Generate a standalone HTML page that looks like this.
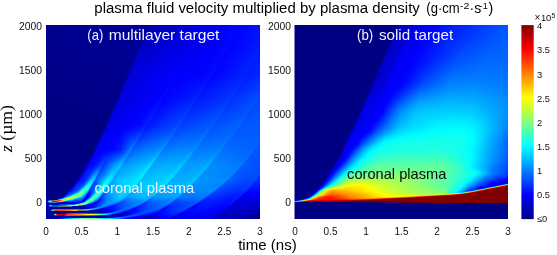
<!DOCTYPE html>
<html><head><meta charset="utf-8">
<style>
html,body{margin:0;padding:0;background:#fff;}
body{width:557px;height:255px;position:relative;overflow:hidden;font-family:"Liberation Sans",sans-serif;}
.p{position:absolute;top:25px;height:194px;overflow:hidden;background:#000083;}
.p i{display:block;height:1px;width:100%;}
#pa{left:46px;width:214px;}
#pb{left:294px;width:214px;}
svg{position:absolute;left:0;top:0;will-change:transform;}
</style></head><body>
<div class="p" id="pa">
<i style="background:linear-gradient(90deg,#000090 0.5px,#00009e 102.5px,#0000ac 105.5px,#0000f1 158.5px,#0000ed 161.5px,#00f 181.5px,#0009ff 194.5px,#0004ff 196.5px,#0012ff 213.5px)"></i>
<i style="background:linear-gradient(90deg,#000090 0.5px,#00009c 101.5px,#0000ac 104.5px,#0000f0 158.5px,#00e 161.5px,#00f 181.5px,#0009ff 193.5px,#0005ff 196.5px,#0012ff 213.5px)"></i>
<i style="background:linear-gradient(90deg,#000090 0.5px,#00009d 101.5px,#0000ae 104.5px,#0000f0 157.5px,#0000ed 160.5px,#00f 180.5px,#0008ff 193.5px,#0004ff 195.5px,#0012ff 213.5px)"></i>
<i style="background:linear-gradient(90deg,#000090 0.5px,#00009c 100.5px,#00009f 101.5px,#0000ae 103.5px,#0000f0 157.5px,#0000ec 159.5px,#00f 180.5px,#0009ff 192.5px,#0005ff 195.5px,#0013ff 213.5px)"></i>
<i style="background:linear-gradient(90deg,#000090 0.5px,#00009c 100.5px,#0000b0 103.5px,#0000f1 156.5px,#0000ed 159.5px,#00f 180.5px,#0008ff 192.5px,#0004ff 194.5px,#0013ff 213.5px)"></i>
<i style="background:linear-gradient(90deg,#00008f 0.5px,#00009e 100.5px,#0000b0 102.5px,#0000ef 154.5px,#0000f0 156.5px,#0000ec 158.5px,#00f 179.5px,#0009ff 191.5px,#0005ff 194.5px,#0013ff 213.5px)"></i>
<i style="background:linear-gradient(90deg,#00008f 0.5px,#00009b 99.5px,#0000a1 100.5px,#0000ac 101.5px,#0000b3 102.5px,#00e 153.5px,#0000f1 155.5px,#0000ed 158.5px,#00f 179.5px,#0009ff 190.5px,#0004ff 193.5px,#0013ff 213.5px)"></i>
<i style="background:linear-gradient(90deg,#00008f 0.5px,#00009d 99.5px,#0000b1 101.5px,#0000ef 153.5px,#0000ef 155.5px,#0000ec 157.5px,#00f 178.5px,#0009ff 190.5px,#0004ff 192.5px,#0014ff 213.5px)"></i>
<i style="background:linear-gradient(90deg,#00008f 0.5px,#00009b 98.5px,#0000a0 99.5px,#0000b5 101.5px,#00e 152.5px,#0000f1 154.5px,#0000ec 156.5px,#00f 178.5px,#0008ff 188.5px,#0007ff 190.5px,#0004ff 192.5px,#0014ff 213.5px)"></i>
<i style="background:linear-gradient(90deg,#00008f 0.5px,#00009c 98.5px,#0000b2 100.5px,#0000b8 102.5px,#0000ed 151.5px,#0000f2 153.5px,#0000ed 156.5px,#00f 178.5px,#0008ff 189.5px,#0003ff 191.5px,#0014ff 213.5px)"></i>
<i style="background:linear-gradient(90deg,#00008f 0.5px,#00009a 97.5px,#00009e 98.5px,#0000b7 100.5px,#00e 151.5px,#0000f1 153.5px,#0000ec 155.5px,#00f 177.5px,#0008ff 187.5px,#0005ff 189.5px,#0005ff 192.5px,#0015ff 213.5px)"></i>
<i style="background:linear-gradient(90deg,#00008f 0.5px,#00009b 97.5px,#0000a3 98.5px,#0000b3 99.5px,#0000ba 100.5px,#0000ed 150.5px,#0000f1 152.5px,#0000ed 155.5px,#00f 177.5px,#0007ff 188.5px,#0003ff 190.5px,#0015ff 213.5px)"></i>
<i style="background:linear-gradient(90deg,#00008e 0.5px,#009 96.5px,#00009d 97.5px,#0000b8 99.5px,#0000c0 106.5px,#0000ef 150.5px,#0000f0 152.5px,#0000ec 154.5px,#00f 176.5px,#0006ff 185.5px,#0008ff 187.5px,#0003ff 189.5px,#0015ff 213.5px)"></i>
<i style="background:linear-gradient(90deg,#00008e 0.5px,#00009a 96.5px,#0000a1 97.5px,#0000b2 98.5px,#0000bc 99.5px,#00e 149.5px,#0000f2 151.5px,#0000ec 153.5px,#00f 175.5px,#0005ff 184.5px,#0009ff 186.5px,#0003ff 189.5px,#0016ff 213.5px)"></i>
<i style="background:linear-gradient(90deg,#00008e 0.5px,#009 95.5px,#00009b 96.5px,#0000b9 98.5px,#0000bf 100.5px,#0000ef 149.5px,#0000f0 151.5px,#0000ed 153.5px,#00f 175.5px,#0006ff 184.5px,#0009ff 186.5px,#0003ff 188.5px,#0016ff 213.5px)"></i>
<i style="background:linear-gradient(90deg,#00008e 0.5px,#009 95.5px,#00009f 96.5px,#0000b1 97.5px,#0000bd 98.5px,#00e 148.5px,#0000f1 150.5px,#0000ec 152.5px,#00f 174.5px,#0005ff 183.5px,#0009ff 185.5px,#0003ff 188.5px,#0016ff 213.5px)"></i>
<i style="background:linear-gradient(90deg,#00008e 0.5px,#00009a 95.5px,#0000a6 96.5px,#0000b9 97.5px,#0000c0 98.5px,#00e 147.5px,#0000f2 149.5px,#0000ec 151.5px,#00f 174.5px,#0007ff 183.5px,#0007ff 185.5px,#0003ff 187.5px,#0017ff 213.5px)"></i>
<i style="background:linear-gradient(90deg,#00008e 0.5px,#000098 94.5px,#00009d 95.5px,#0000be 97.5px,#0000cd 111.5px,#0000ef 147.5px,#0000f2 149.5px,#0000ec 151.5px,#00f 173.5px,#0006ff 182.5px,#0009ff 184.5px,#0002ff 186.5px,#0017ff 213.5px)"></i>
<i style="background:linear-gradient(90deg,#00008e 0.5px,#009 94.5px,#0000a4 95.5px,#0000b8 96.5px,#0000c2 97.5px,#0000ef 146.5px,#0000f3 148.5px,#0000ec 150.5px,#00f 173.5px,#0005ff 181.5px,#0009ff 183.5px,#0002ff 186.5px,#0018ff 213.5px)"></i>
<i style="background:linear-gradient(90deg,#00008d 0.5px,#000097 93.5px,#00009c 94.5px,#0000bf 96.5px,#0000c5 98.5px,#0000f0 146.5px,#0000f2 148.5px,#0000ed 150.5px,#00f 172.5px,#0006ff 181.5px,#0008ff 183.5px,#0002ff 185.5px,#0018ff 213.5px)"></i>
<i style="background:linear-gradient(90deg,#00008d 0.5px,#000098 93.5px,#0000a1 94.5px,#0000b6 95.5px,#0000c3 96.5px,#0000ef 145.5px,#0000f3 147.5px,#0000ec 149.5px,#00f 171.5px,#0005ff 180.5px,#0009ff 182.5px,#0002ff 184.5px,#0019ff 213.5px)"></i>
<i style="background:linear-gradient(90deg,#00008d 0.5px,#000097 92.5px,#00009a 93.5px,#0000be 95.5px,#0000c5 96.5px,#0000f1 145.5px,#0000f2 147.5px,#0000ed 149.5px,#00f 171.5px,#0004ff 179.5px,#0007ff 182.5px,#0002ff 184.5px,#001aff 213.5px)"></i>
<i style="background:linear-gradient(90deg,#00008d 0.5px,#000097 92.5px,#00009f 93.5px,#0000b4 94.5px,#0000c4 95.5px,#0000f1 144.5px,#0000f4 146.5px,#0000ed 148.5px,#00f 170.5px,#0005ff 179.5px,#0009ff 181.5px,#0001ff 183.5px,#001bff 213.5px)"></i>
<i style="background:linear-gradient(90deg,#00008d 0.5px,#000098 92.5px,#0000a7 93.5px,#0000be 94.5px,#0000c7 95.5px,#0000f2 144.5px,#0000f4 145.5px,#0000ed 147.5px,#00f 171.5px,#0006ff 179.5px,#0007ff 181.5px,#0002ff 183.5px,#001cff 213.5px)"></i>
<i style="background:linear-gradient(90deg,#00008d 0.5px,#000096 91.5px,#00009c 92.5px,#0000c4 94.5px,#0000cb 97.5px,#0000f2 143.5px,#0000f4 145.5px,#0000ed 147.5px,#00f 169.5px,#0003ff 177.5px,#0008ff 180.5px,#0001ff 182.5px,#001cff 212.5px,#001eff 213.5px)"></i>
<i style="background:linear-gradient(90deg,#00008d 0.5px,#000097 91.5px,#0000a4 92.5px,#0000bc 93.5px,#0000c8 94.5px,#0000f1 142.5px,#0000f6 144.5px,#00e 146.5px,#00f 170.5px,#0005ff 177.5px,#0009ff 179.5px,#0001ff 181.5px,#001bff 211.5px,#001fff 213.5px)"></i>
<i style="background:linear-gradient(90deg,#00008c 0.5px,#000095 90.5px,#00009a 91.5px,#0000c4 93.5px,#0000cb 95.5px,#0000f3 142.5px,#0000f4 144.5px,#00e 146.5px,#00f 168.5px,#0004ff 176.5px,#0009ff 179.5px,#0001ff 181.5px,#001cff 211.5px,#001cff 213.5px)"></i>
<i style="background:linear-gradient(90deg,#00008c 0.5px,#000096 90.5px,#0000a1 91.5px,#0000ba 92.5px,#0000c9 93.5px,#0000ec 135.5px,#0000f6 143.5px,#00e 145.5px,#00f 168.5px,#0005ff 176.5px,#0009ff 178.5px,#0002ff 180.5px,#001cff 210.5px,#001dff 212.5px,#0018ff 213.5px)"></i>
<i style="background:linear-gradient(90deg,#00008c 0.5px,#000095 89.5px,#000098 90.5px,#0000ab 91.5px,#0000c4 92.5px,#0000cb 93.5px,#0000f4 141.5px,#0000f5 143.5px,#0000ef 145.5px,#00f 167.5px,#0005ff 175.5px,#0009ff 177.5px,#0002ff 180.5px,#001dff 210.5px,#001eff 211.5px,#0017ff 213.5px)"></i>
<i style="background:linear-gradient(90deg,#00008c 0.5px,#000095 89.5px,#00009e 90.5px,#0000b7 91.5px,#0000ca 92.5px,#0000e5 123.5px,#0000f3 140.5px,#0000f7 142.5px,#0000ef 144.5px,#00f 167.5px,#0006ff 175.5px,#0009ff 177.5px,#0002ff 179.5px,#001cff 209.5px,#001dff 211.5px,#0017ff 213.5px)"></i>
<i style="background:linear-gradient(90deg,#00008c 0.5px,#000094 88.5px,#000097 89.5px,#0000a8 90.5px,#0000c2 91.5px,#0000cd 92.5px,#0000f5 140.5px,#0000f7 141.5px,#0000ef 143.5px,#00f 166.5px,#0005ff 174.5px,#000aff 176.5px,#0002ff 178.5px,#001cff 208.5px,#001fff 210.5px,#0018ff 212.5px,#0018ff 213.5px)"></i>
<i style="background:linear-gradient(90deg,#00008c 0.5px,#000094 88.5px,#00009b 89.5px,#0000ca 91.5px,#0000cf 93.5px,#0000f5 139.5px,#0000f7 141.5px,#0000ef 143.5px,#00f 165.5px,#0007ff 174.5px,#0009ff 176.5px,#0002ff 178.5px,#001dff 208.5px,#001fff 209.5px,#0018ff 211.5px,#001aff 213.5px)"></i>
<i style="background:linear-gradient(90deg,#00008c 0.5px,#000095 88.5px,#0000a4 89.5px,#0000c0 90.5px,#0000ce 91.5px,#0000f4 138.5px,#0000f9 140.5px,#0000f0 142.5px,#00f 165.5px,#0006ff 173.5px,#000aff 175.5px,#0002ff 177.5px,#001cff 207.5px,#001fff 209.5px,#0018ff 211.5px,#001bff 213.5px)"></i>
<i style="background:linear-gradient(90deg,#00008b 0.5px,#000093 87.5px,#009 88.5px,#0000c9 90.5px,#0000d0 91.5px,#0000f6 138.5px,#0000f7 140.5px,#0000f0 142.5px,#00f 164.5px,#0008ff 173.5px,#0009ff 175.5px,#0003ff 176.5px,#001cff 206.5px,#001fff 208.5px,#0018ff 210.5px,#001cff 213.5px)"></i>
<i style="background:linear-gradient(90deg,#00008b 0.5px,#000094 87.5px,#0000a0 88.5px,#0000bd 89.5px,#0000ce 90.5px,#0000ea 123.5px,#0000f5 137.5px,#0000f9 139.5px,#0000f0 141.5px,#00f 163.5px,#0007ff 172.5px,#000aff 174.5px,#0002ff 176.5px,#001dff 206.5px,#001eff 208.5px,#0018ff 210.5px,#001dff 213.5px)"></i>
<i style="background:linear-gradient(90deg,#00008b 0.5px,#000093 86.5px,#000097 87.5px,#0000ac 88.5px,#0000c8 89.5px,#0000d1 90.5px,#0000f7 137.5px,#0000f7 139.5px,#0000f1 141.5px,#00f 162.5px,#0006ff 171.5px,#000bff 173.5px,#0002ff 175.5px,#001dff 205.5px,#0020ff 207.5px,#0018ff 209.5px,#001dff 213.5px)"></i>
<i style="background:linear-gradient(90deg,#00008b 0.5px,#000093 86.5px,#00009d 87.5px,#0000b9 88.5px,#0000ce 89.5px,#0000d4 92.5px,#0000f7 136.5px,#0000f9 138.5px,#0000f1 140.5px,#00f 161.5px,#0006ff 170.5px,#000aff 173.5px,#0002ff 175.5px,#001eff 205.5px,#0020ff 206.5px,#0019ff 208.5px,#001eff 213.5px)"></i>
<i style="background:linear-gradient(90deg,#00008b 0.5px,#000092 85.5px,#000095 86.5px,#0000a8 87.5px,#0000c6 88.5px,#0000d2 89.5px,#0000ef 126.5px,#0000f9 136.5px,#0000fb 137.5px,#0000f1 139.5px,#00f 161.5px,#0007ff 170.5px,#000bff 172.5px,#0003ff 174.5px,#001dff 204.5px,#0020ff 206.5px,#0019ff 208.5px,#001fff 213.5px)"></i>
<i style="background:linear-gradient(90deg,#00008b 0.5px,#000092 85.5px,#00009a 86.5px,#0000ce 88.5px,#0000d4 89.5px,#0000f8 135.5px,#0000fa 137.5px,#0000f2 139.5px,#00f 160.5px,#0006ff 169.5px,#000bff 171.5px,#0003ff 174.5px,#001dff 203.5px,#0021ff 205.5px,#0019ff 207.5px,#0020ff 213.5px)"></i>
<i style="background:linear-gradient(90deg,#00008b 0.5px,#000093 85.5px,#0000a3 86.5px,#0000c3 87.5px,#0000d2 88.5px,#0000ea 116.5px,#0000f8 134.5px,#0000fb 136.5px,#0000f2 138.5px,#00f 160.5px,#0008ff 169.5px,#000bff 171.5px,#0003ff 173.5px,#001eff 203.5px,#001fff 205.5px,#0019ff 207.5px,#0021ff 213.5px)"></i>
<i style="background:linear-gradient(90deg,#00008a 0.5px,#000091 84.5px,#000097 85.5px,#00c 87.5px,#0000d4 88.5px,#00e 120.5px,#0000fa 134.5px,#0000fa 136.5px,#0000f4 137.5px,#00f 160.5px,#000aff 169.5px,#000cff 170.5px,#0003ff 172.5px,#001dff 202.5px,#0021ff 204.5px,#0019ff 206.5px,#0021ff 213.5px)"></i>
<i style="background:linear-gradient(90deg,#00008a 0.5px,#000092 84.5px,#00009f 85.5px,#0000bf 86.5px,#0000d2 87.5px,#0000e9 111.5px,#0000f9 133.5px,#0000fd 135.5px,#0000f3 137.5px,#00f 157.5px,#0006ff 167.5px,#000bff 170.5px,#0003ff 172.5px,#001fff 202.5px,#001fff 204.5px,#001aff 206.5px,#02f 213.5px)"></i>
<i style="background:linear-gradient(90deg,#00008a 0.5px,#000091 83.5px,#000095 84.5px,#0000ac 85.5px,#0000ca 86.5px,#0000d5 87.5px,#0000ed 115.5px,#0000f9 132.5px,#0000fe 134.5px,#0000f4 137.5px,#00f 156.5px,#0006ff 166.5px,#000cff 169.5px,#0003ff 171.5px,#001eff 201.5px,#0021ff 203.5px,#0019ff 205.5px,#0023ff 213.5px)"></i>
<i style="background:linear-gradient(90deg,#00008a 0.5px,#000091 83.5px,#00009c 84.5px,#0000ba 85.5px,#0000d2 86.5px,#0000d7 88.5px,#00e 115.5px,#0000fb 132.5px,#0000fd 134.5px,#0000f4 136.5px,#00f 155.5px,#0007ff 166.5px,#000dff 168.5px,#0003ff 171.5px,#001dff 200.5px,#02f 202.5px,#001aff 204.5px,#0024ff 213.5px)"></i>
<i style="background:linear-gradient(90deg,#00008a 0.5px,#000090 82.5px,#000093 83.5px,#0000a7 84.5px,#0000c7 85.5px,#0000d5 86.5px,#0000ec 111.5px,#0000fa 131.5px,#00f 133.5px,#0000f5 135.5px,#00f 155.5px,#0006ff 165.5px,#000cff 168.5px,#0003ff 170.5px,#001fff 200.5px,#0020ff 202.5px,#001aff 204.5px,#0024ff 213.5px)"></i>
<i style="background:linear-gradient(90deg,#00008a 0.5px,#000090 82.5px,#000098 83.5px,#0000d0 85.5px,#0000d7 86.5px,#0000ed 111.5px,#0000fa 130.5px,#00f 132.5px,#0000f5 135.5px,#00f 153.5px,#0006ff 164.5px,#000dff 167.5px,#0004ff 169.5px,#001eff 199.5px,#02f 201.5px,#0019ff 203.5px,#0025ff 213.5px)"></i>
<i style="background:linear-gradient(90deg,#00008a 0.5px,#000092 82.5px,#0000a2 83.5px,#0000c4 84.5px,#0000d5 85.5px,#0000ed 109.5px,#0000fc 130.5px,#00f 132.5px,#0000f5 134.5px,#00f 152.5px,#0006ff 163.5px,#000cff 166.5px,#0003ff 169.5px,#001dff 198.5px,#02f 200.5px,#001aff 203.5px,#0026ff 213.5px)"></i>
<i style="background:linear-gradient(90deg,#000089 0.5px,#000090 81.5px,#000096 82.5px,#0000ce 84.5px,#0000d7 85.5px,#0000ef 109.5px,#0000fc 129.5px,#0000fe 132.5px,#0000f7 133.5px,#00f 153.5px,#0009ff 164.5px,#000dff 166.5px,#0003ff 168.5px,#001fff 198.5px,#02f 200.5px,#001aff 202.5px,#0026ff 213.5px)"></i>
<i style="background:linear-gradient(90deg,#000089 0.5px,#000090 81.5px,#00009e 82.5px,#0000bf 83.5px,#0000d4 84.5px,#0000df 91.5px,#0000f0 110.5px,#0000fe 129.5px,#00f 131.5px,#0000f7 133.5px,#00f 149.5px,#0005ff 161.5px,#000dff 165.5px,#0004ff 168.5px,#001eff 197.5px,#0023ff 199.5px,#001aff 201.5px,#0027ff 213.5px)"></i>
<i style="background:linear-gradient(90deg,#000089 0.5px,#00008f 80.5px,#000093 81.5px,#0000ab 82.5px,#00c 83.5px,#0000d7 84.5px,#0000f0 108.5px,#0000fd 128.5px,#0000fd 131.5px,#0000f8 132.5px,#00f 149.5px,#0006ff 161.5px,#000dff 165.5px,#0003ff 167.5px,#001dff 196.5px,#02f 198.5px,#001aff 201.5px,#0028ff 213.5px)"></i>
<i style="background:linear-gradient(90deg,#000089 0.5px,#00008f 80.5px,#00009a 81.5px,#00b 82.5px,#0000d3 83.5px,#0000d9 85.5px,#0000f1 109.5px,#00f 130.5px,#0000f8 132.5px,#00f 145.5px,#0005ff 159.5px,#000fff 164.5px,#0004ff 166.5px,#001fff 196.5px,#0023ff 198.5px,#001aff 200.5px,#0029ff 213.5px)"></i>
<i style="background:linear-gradient(90deg,#000089 0.5px,#00008e 79.5px,#000091 80.5px,#0000a6 81.5px,#0000c9 82.5px,#0000d7 83.5px,#0000f1 108.5px,#0001ff 129.5px,#0000f9 132.5px,#00f 144.5px,#0006ff 159.5px,#000fff 163.5px,#0005ff 166.5px,#001fff 195.5px,#0024ff 197.5px,#001cff 200.5px,#002aff 213.5px)"></i>
<i style="background:linear-gradient(90deg,#000089 0.5px,#00008f 79.5px,#000097 80.5px,#0000d2 82.5px,#0000d9 83.5px,#0000f3 109.5px,#0001ff 129.5px,#0000f9 131.5px,#00f 141.5px,#0008ff 159.5px,#000fff 163.5px,#0006ff 165.5px,#02f 195.5px,#0024ff 197.5px,#001cff 199.5px,#002cff 213.5px)"></i>
<i style="background:linear-gradient(90deg,#000089 0.5px,#000090 79.5px,#0000a1 80.5px,#0000c5 81.5px,#0000d7 82.5px,#0000f3 109.5px,#0002ff 128.5px,#0000fb 131.5px,#00f 141.5px,#000aff 159.5px,#01f 162.5px,#0007ff 164.5px,#02f 194.5px,#0026ff 196.5px,#001dff 198.5px,#002dff 213.5px)"></i>
<i style="background:linear-gradient(90deg,#000089 0.5px,#00008e 78.5px,#000094 79.5px,#0000d0 81.5px,#0000d9 82.5px,#0000f5 111.5px,#0001ff 126.5px,#0000fc 131.5px,#0007ff 155.5px,#01f 162.5px,#0007ff 164.5px,#001cff 187.5px,#0024ff 194.5px,#0025ff 196.5px,#001fff 197.5px,#002fff 213.5px)"></i>
<i style="background:linear-gradient(90deg,#008 0.5px,#00008f 78.5px,#00009d 79.5px,#0000c1 80.5px,#0000d7 81.5px,#0000f4 109.5px,#00f 125.5px,#0003ff 127.5px,#0000fc 130.5px,#0009ff 156.5px,#0013ff 161.5px,#0008ff 163.5px,#0024ff 193.5px,#0028ff 195.5px,#001fff 197.5px,#0030ff 213.5px)"></i>
<i style="background:linear-gradient(90deg,#008 0.5px,#00008d 77.5px,#000092 78.5px,#0000ab 79.5px,#0000ce 80.5px,#0000da 81.5px,#0000f7 112.5px,#0002ff 125.5px,#0005ff 126.5px,#0000fe 130.5px,#000cff 157.5px,#0014ff 160.5px,#0012ff 161.5px,#000aff 162.5px,#0025ff 192.5px,#002aff 194.5px,#0020ff 196.5px,#0032ff 213.5px)"></i>
<i style="background:linear-gradient(90deg,#008 0.5px,#00008e 77.5px,#009 78.5px,#0000bc 79.5px,#0000d6 80.5px,#0000db 82.5px,#0000f8 114.5px,#0001ff 124.5px,#0005ff 125.5px,#0000fe 129.5px,#000cff 156.5px,#0015ff 160.5px,#000aff 162.5px,#0027ff 192.5px,#002aff 194.5px,#0021ff 196.5px,#03f 213.5px)"></i>
<i style="background:linear-gradient(90deg,#008 0.5px,#00008d 76.5px,#000090 77.5px,#0000a6 78.5px,#0000ca 79.5px,#0000da 80.5px,#0000f9 114.5px,#0001ff 123.5px,#0006ff 125.5px,#0000fc 127.5px,#000eff 156.5px,#0016ff 159.5px,#000bff 161.5px,#0027ff 191.5px,#002bff 193.5px,#02f 195.5px,#0034ff 213.5px)"></i>
<i style="background:linear-gradient(90deg,#008 0.5px,#00008d 76.5px,#000095 77.5px,#0000d4 79.5px,#0000db 80.5px,#00f 121.5px,#0006ff 124.5px,#0000fd 127.5px,#000eff 155.5px,#0016ff 158.5px,#0014ff 159.5px,#000dff 160.5px,#000eff 163.5px,#0027ff 190.5px,#002cff 192.5px,#0024ff 194.5px,#0036ff 213.5px)"></i>
<i style="background:linear-gradient(90deg,#008 0.5px,#00008e 76.5px,#0000a1 77.5px,#0000c6 78.5px,#0000d9 79.5px,#00f 119.5px,#0002ff 122.5px,#0005ff 124.5px,#00f 125.5px,#0010ff 155.5px,#0018ff 158.5px,#000cff 160.5px,#002aff 190.5px,#002dff 192.5px,#0023ff 194.5px,#0038ff 213.5px)"></i>
<i style="background:linear-gradient(90deg,#008 0.5px,#00008c 75.5px,#000093 76.5px,#0000d2 78.5px,#0000dc 79.5px,#00f 120.5px,#0007ff 123.5px,#0000fe 126.5px,#0010ff 154.5px,#0019ff 157.5px,#000eff 159.5px,#002aff 189.5px,#002fff 191.5px,#0025ff 193.5px,#0039ff 213.5px)"></i>
<i style="background:linear-gradient(90deg,#008 0.5px,#00008d 75.5px,#00009c 76.5px,#0000c1 77.5px,#0000d8 78.5px,#00d 81.5px,#00f 119.5px,#0007ff 122.5px,#0000fe 125.5px,#0013ff 154.5px,#0019ff 157.5px,#000eff 159.5px,#0023ff 182.5px,#002dff 189.5px,#002eff 191.5px,#0026ff 193.5px,#003bff 213.5px)"></i>
<i style="background:linear-gradient(90deg,#000087 0.5px,#00008b 74.5px,#000090 75.5px,#00a 76.5px,#0000cf 77.5px,#0000db 78.5px,#00f 119.5px,#0008ff 122.5px,#0000fe 124.5px,#0013ff 153.5px,#001aff 156.5px,#000fff 158.5px,#002dff 188.5px,#0030ff 190.5px,#0026ff 192.5px,#003cff 213.5px)"></i>
<i style="background:linear-gradient(90deg,#000087 0.5px,#00008c 74.5px,#000098 75.5px,#0000bc 76.5px,#0000d7 77.5px,#00d 79.5px,#0002ff 119.5px,#0008ff 121.5px,#00f 123.5px,#0015ff 153.5px,#001bff 155.5px,#01f 157.5px,#002dff 187.5px,#0032ff 189.5px,#0028ff 191.5px,#003eff 213.5px)"></i>
<i style="background:linear-gradient(90deg,#000087 0.5px,#00008b 73.5px,#00008e 74.5px,#0000a5 75.5px,#0000cb 76.5px,#0000db 77.5px,#0001ff 118.5px,#0007ff 121.5px,#0001ff 122.5px,#0005ff 129.5px,#0015ff 152.5px,#001bff 155.5px,#0010ff 157.5px,#0025ff 178.5px,#002fff 187.5px,#0032ff 189.5px,#0028ff 191.5px,#0040ff 213.5px)"></i>
<i style="background:linear-gradient(90deg,#000087 0.5px,#00008b 73.5px,#000094 74.5px,#0000d5 76.5px,#00d 77.5px,#00f 117.5px,#0009ff 120.5px,#00f 122.5px,#0010ff 145.5px,#0018ff 152.5px,#001eff 154.5px,#01f 156.5px,#002fff 186.5px,#0034ff 188.5px,#0029ff 190.5px,#0043ff 213.5px)"></i>
<i style="background:linear-gradient(90deg,#000087 0.5px,#00008c 73.5px,#00009f 74.5px,#0000c6 75.5px,#0000da 76.5px,#00f 116.5px,#0009ff 119.5px,#00f 122.5px,#0010ff 141.5px,#0018ff 151.5px,#001eff 153.5px,#001cff 154.5px,#0014ff 155.5px,#0013ff 157.5px,#002fff 185.5px,#0035ff 187.5px,#002bff 189.5px,#0045ff 213.5px)"></i>
<i style="background:linear-gradient(90deg,#000087 0.5px,#00008a 72.5px,#000091 73.5px,#0000d2 75.5px,#0000dc 76.5px,#0001ff 116.5px,#0009ff 119.5px,#0002ff 120.5px,#0002ff 124.5px,#0010ff 139.5px,#0018ff 150.5px,#001eff 153.5px,#0012ff 155.5px,#0030ff 184.5px,#0035ff 187.5px,#002bff 189.5px,#0046ff 212.5px,#0048ff 213.5px)"></i>
<i style="background:linear-gradient(90deg,#000087 0.5px,#00008b 72.5px,#00009b 73.5px,#0000c1 74.5px,#0000d9 75.5px,#0000df 78.5px,#00f 115.5px,#000aff 118.5px,#00f 120.5px,#0012ff 141.5px,#001aff 150.5px,#0020ff 152.5px,#0014ff 154.5px,#0032ff 184.5px,#0037ff 186.5px,#002cff 188.5px,#0046ff 211.5px,#004cff 213.5px)"></i>
<i style="background:linear-gradient(90deg,#000086 0.5px,#00008a 71.5px,#00008e 72.5px,#0000a9 73.5px,#0000cf 74.5px,#0000dc 75.5px,#00f 114.5px,#0009ff 118.5px,#0001ff 119.5px,#0004ff 124.5px,#0013ff 140.5px,#001aff 149.5px,#0020ff 151.5px,#001eff 152.5px,#0016ff 153.5px,#0015ff 155.5px,#0032ff 183.5px,#0038ff 185.5px,#0036ff 186.5px,#002eff 187.5px,#0046ff 210.5px,#004aff 213.5px)"></i>
<i style="background:linear-gradient(90deg,#000086 0.5px,#00008a 71.5px,#000096 72.5px,#00b 73.5px,#0000d7 74.5px,#0000de 76.5px,#0001ff 114.5px,#000aff 117.5px,#00f 119.5px,#0013ff 139.5px,#001dff 149.5px,#02f 151.5px,#0014ff 153.5px,#0032ff 182.5px,#0039ff 185.5px,#002eff 187.5px,#0048ff 210.5px,#004bff 212.5px,#0045ff 213.5px)"></i>
<i style="background:linear-gradient(90deg,#000086 0.5px,#000089 70.5px,#00008c 71.5px,#0000a4 72.5px,#0000cb 73.5px,#0000db 74.5px,#00f 113.5px,#000aff 116.5px,#0001ff 118.5px,#0005ff 123.5px,#0014ff 139.5px,#001dff 148.5px,#0023ff 150.5px,#0017ff 152.5px,#001cff 157.5px,#0035ff 182.5px,#003aff 184.5px,#002fff 186.5px,#0049ff 209.5px,#004dff 211.5px,#04f 213.5px)"></i>
<i style="background:linear-gradient(90deg,#000086 0.5px,#000089 70.5px,#000093 71.5px,#0000d5 73.5px,#0000dc 74.5px,#00f 112.5px,#000bff 116.5px,#00f 118.5px,#0015ff 138.5px,#001dff 147.5px,#0023ff 149.5px,#0023ff 150.5px,#001aff 151.5px,#0017ff 153.5px,#0035ff 181.5px,#003bff 183.5px,#0039ff 184.5px,#0031ff 185.5px,#03f 188.5px,#004bff 209.5px,#004bff 211.5px,#0045ff 213.5px)"></i>
<i style="background:linear-gradient(90deg,#000086 0.5px,#00008b 70.5px,#00009f 71.5px,#0000c6 72.5px,#0000da 73.5px,#0001ff 112.5px,#000bff 115.5px,#00f 117.5px,#0009ff 124.5px,#0018ff 141.5px,#0020ff 147.5px,#0025ff 149.5px,#0018ff 151.5px,#0035ff 180.5px,#003bff 183.5px,#0030ff 185.5px,#004bff 208.5px,#004eff 210.5px,#0045ff 212.5px,#0047ff 213.5px)"></i>
<i style="background:linear-gradient(90deg,#000086 0.5px,#000089 69.5px,#000090 70.5px,#0000d3 72.5px,#00d 73.5px,#0001ff 111.5px,#000aff 114.5px,#000aff 115.5px,#0002ff 116.5px,#0004ff 120.5px,#0017ff 137.5px,#0020ff 146.5px,#0026ff 148.5px,#001aff 150.5px,#0021ff 157.5px,#0037ff 180.5px,#003dff 182.5px,#0032ff 184.5px,#004bff 207.5px,#004fff 209.5px,#0046ff 211.5px,#0048ff 213.5px)"></i>
<i style="background:linear-gradient(90deg,#000086 0.5px,#00008a 69.5px,#00009a 70.5px,#0000c2 71.5px,#0000da 72.5px,#0000e4 80.5px,#00f 109.5px,#000dff 114.5px,#00f 116.5px,#0018ff 136.5px,#0020ff 145.5px,#0027ff 147.5px,#0026ff 148.5px,#001dff 149.5px,#001bff 151.5px,#0037ff 179.5px,#003eff 181.5px,#003bff 182.5px,#0034ff 183.5px,#0035ff 186.5px,#004dff 207.5px,#004dff 209.5px,#0047ff 210.5px,#0049ff 213.5px)"></i>
<i style="background:linear-gradient(90deg,#000086 0.5px,#008 68.5px,#00008d 69.5px,#00a 70.5px,#0000d1 71.5px,#0000de 72.5px,#00f 108.5px,#000dff 113.5px,#000bff 114.5px,#0002ff 115.5px,#0002ff 117.5px,#0019ff 134.5px,#0024ff 145.5px,#0029ff 147.5px,#001bff 149.5px,#0038ff 178.5px,#003eff 181.5px,#03f 183.5px,#004cff 206.5px,#004fff 208.5px,#0046ff 210.5px,#004aff 213.5px)"></i>
<i style="background:linear-gradient(90deg,#000085 0.5px,#000089 68.5px,#000096 69.5px,#0000bd 70.5px,#0000da 71.5px,#0000e0 73.5px,#00f 106.5px,#0009ff 111.5px,#000fff 113.5px,#0001ff 115.5px,#0019ff 132.5px,#0024ff 144.5px,#002bff 146.5px,#0028ff 147.5px,#001eff 148.5px,#0021ff 152.5px,#003aff 178.5px,#0040ff 180.5px,#0034ff 182.5px,#004cff 205.5px,#0050ff 207.5px,#0047ff 209.5px,#004bff 213.5px)"></i>
<i style="background:linear-gradient(90deg,#000085 0.5px,#000087 67.5px,#00008b 68.5px,#0000a5 69.5px,#0000ce 70.5px,#0000de 71.5px,#00f 105.5px,#0009ff 110.5px,#0010ff 112.5px,#000dff 113.5px,#0004ff 114.5px,#0009ff 118.5px,#001fff 137.5px,#0028ff 144.5px,#002cff 146.5px,#001eff 148.5px,#003bff 177.5px,#0041ff 179.5px,#003eff 180.5px,#0037ff 181.5px,#0038ff 184.5px,#004eff 205.5px,#0051ff 206.5px,#0047ff 209.5px,#004cff 213.5px)"></i>
<i style="background:linear-gradient(90deg,#000085 0.5px,#008 67.5px,#000092 68.5px,#0000d9 70.5px,#0000e0 71.5px,#0000fd 100.5px,#0004ff 107.5px,#01f 111.5px,#0010ff 112.5px,#0007ff 113.5px,#0003ff 114.5px,#001aff 129.5px,#0028ff 143.5px,#002fff 145.5px,#0021ff 147.5px,#003bff 176.5px,#0043ff 179.5px,#0036ff 181.5px,#004eff 204.5px,#0051ff 206.5px,#0047ff 208.5px,#004dff 213.5px)"></i>
<i style="background:linear-gradient(90deg,#000085 0.5px,#000087 66.5px,#000089 67.5px,#00009f 68.5px,#0000ca 69.5px,#0000df 70.5px,#00f 103.5px,#000cff 109.5px,#0013ff 111.5px,#0005ff 113.5px,#001fff 132.5px,#0029ff 142.5px,#0030ff 144.5px,#002dff 145.5px,#0024ff 146.5px,#02f 148.5px,#003eff 176.5px,#04f 178.5px,#0038ff 180.5px,#004eff 203.5px,#0052ff 205.5px,#0048ff 207.5px,#004eff 213.5px)"></i>
<i style="background:linear-gradient(90deg,#000085 0.5px,#000087 66.5px,#00008f 67.5px,#0000d7 69.5px,#0000e2 70.5px,#0000fd 98.5px,#0005ff 105.5px,#0013ff 110.5px,#01f 111.5px,#0008ff 112.5px,#0008ff 114.5px,#001dff 129.5px,#0029ff 141.5px,#0031ff 144.5px,#0023ff 146.5px,#003eff 175.5px,#0045ff 177.5px,#04f 178.5px,#003bff 179.5px,#0039ff 181.5px,#0050ff 203.5px,#0051ff 205.5px,#0048ff 207.5px,#004eff 213.5px)"></i>
<i style="background:linear-gradient(90deg,#000085 0.5px,#008 66.5px,#00009a 67.5px,#0000c5 68.5px,#0000df 69.5px,#0000e3 72.5px,#00f 101.5px,#000fff 108.5px,#0014ff 110.5px,#0006ff 112.5px,#001dff 127.5px,#002dff 141.5px,#03f 143.5px,#0025ff 145.5px,#003fff 174.5px,#0046ff 177.5px,#003aff 179.5px,#0050ff 202.5px,#0052ff 204.5px,#0049ff 206.5px,#004fff 213.5px)"></i>
<i style="background:linear-gradient(90deg,#000085 0.5px,#000086 65.5px,#00008c 66.5px,#0000ac 67.5px,#0000d5 68.5px,#0000e2 69.5px,#0000fc 96.5px,#0003ff 102.5px,#0012ff 108.5px,#0016ff 109.5px,#0007ff 111.5px,#0021ff 129.5px,#002dff 140.5px,#0034ff 142.5px,#0032ff 143.5px,#0028ff 144.5px,#0027ff 146.5px,#0042ff 174.5px,#0048ff 176.5px,#003cff 178.5px,#004fff 201.5px,#0053ff 203.5px,#0049ff 205.5px,#0050ff 213.5px)"></i>
<i style="background:linear-gradient(90deg,#000085 0.5px,#000087 65.5px,#000096 66.5px,#0000c0 67.5px,#0000de 68.5px,#0000e4 70.5px,#0000fc 95.5px,#0003ff 101.5px,#0012ff 107.5px,#0016ff 108.5px,#0016ff 109.5px,#000cff 110.5px,#0008ff 111.5px,#001dff 124.5px,#002eff 139.5px,#0035ff 142.5px,#0027ff 144.5px,#0042ff 173.5px,#0048ff 175.5px,#0048ff 176.5px,#003fff 177.5px,#003dff 179.5px,#0052ff 201.5px,#0054ff 202.5px,#0049ff 205.5px,#0051ff 213.5px)"></i>
<i style="background:linear-gradient(90deg,#000084 0.5px,#000086 64.5px,#00008a 65.5px,#0000a6 66.5px,#0000d2 67.5px,#0000e3 68.5px,#0001ff 99.5px,#01f 106.5px,#0018ff 108.5px,#0009ff 110.5px,#0020ff 125.5px,#0031ff 139.5px,#0038ff 141.5px,#0029ff 143.5px,#0043ff 172.5px,#004aff 175.5px,#003dff 177.5px,#0052ff 200.5px,#0054ff 202.5px,#004aff 204.5px,#0051ff 213.5px)"></i>
<i style="background:linear-gradient(90deg,#000084 0.5px,#000086 64.5px,#000092 65.5px,#00b 66.5px,#00d 67.5px,#0000e5 68.5px,#0000fc 94.5px,#0004ff 100.5px,#0015ff 106.5px,#0019ff 107.5px,#0016ff 108.5px,#000bff 109.5px,#000fff 112.5px,#0026ff 128.5px,#0032ff 138.5px,#0039ff 140.5px,#0036ff 141.5px,#002dff 142.5px,#002bff 144.5px,#0045ff 172.5px,#004cff 174.5px,#003fff 176.5px,#0052ff 199.5px,#05f 201.5px,#004bff 203.5px,#0052ff 213.5px)"></i>
<i style="background:linear-gradient(90deg,#000084 0.5px,#000085 63.5px,#008 64.5px,#0000a1 65.5px,#0000ce 66.5px,#0000e3 67.5px,#00f 97.5px,#0014ff 105.5px,#001aff 107.5px,#000bff 109.5px,#02f 123.5px,#0036ff 138.5px,#003aff 140.5px,#002bff 142.5px,#0046ff 171.5px,#004cff 173.5px,#004cff 174.5px,#0043ff 175.5px,#0040ff 177.5px,#0054ff 199.5px,#0057ff 200.5px,#004dff 202.5px,#0053ff 213.5px)"></i>
<i style="background:linear-gradient(90deg,#000084 0.5px,#000085 63.5px,#00008f 64.5px,#0000db 66.5px,#0000e5 67.5px,#0000fd 93.5px,#0003ff 98.5px,#0013ff 104.5px,#001cff 106.5px,#000cff 108.5px,#0026ff 125.5px,#0036ff 137.5px,#003dff 139.5px,#002eff 141.5px,#0046ff 170.5px,#004eff 173.5px,#0041ff 175.5px,#05f 198.5px,#0056ff 200.5px,#004cff 202.5px,#0053ff 213.5px)"></i>
<i style="background:linear-gradient(90deg,#000084 0.5px,#000087 63.5px,#00009b 64.5px,#0000c9 65.5px,#0000e2 66.5px,#0000e8 70.5px,#0003ff 97.5px,#0017ff 104.5px,#001cff 105.5px,#001bff 106.5px,#01f 107.5px,#000dff 108.5px,#0024ff 121.5px,#0037ff 136.5px,#003eff 138.5px,#003bff 139.5px,#0031ff 140.5px,#0030ff 142.5px,#0049ff 170.5px,#004fff 172.5px,#0043ff 174.5px,#05f 197.5px,#0058ff 199.5px,#004dff 201.5px,#0054ff 213.5px)"></i>
<i style="background:linear-gradient(90deg,#000084 0.5px,#000085 62.5px,#00008c 63.5px,#0000af 64.5px,#0000d8 65.5px,#0000e6 66.5px,#0002ff 96.5px,#0016ff 103.5px,#001dff 105.5px,#000eff 107.5px,#0028ff 123.5px,#0037ff 135.5px,#003fff 138.5px,#0030ff 140.5px,#004aff 169.5px,#0050ff 171.5px,#004dff 172.5px,#0045ff 173.5px,#04f 175.5px,#0057ff 197.5px,#005aff 198.5px,#004fff 200.5px,#0054ff 213.5px)"></i>
<i style="background:linear-gradient(90deg,#000084 0.5px,#000085 62.5px,#000097 63.5px,#0000c4 64.5px,#0000e2 65.5px,#0000e8 67.5px,#0001ff 95.5px,#0014ff 102.5px,#001eff 104.5px,#001aff 105.5px,#0010ff 106.5px,#0014ff 109.5px,#002bff 124.5px,#003bff 135.5px,#0041ff 137.5px,#0032ff 139.5px,#004aff 168.5px,#0051ff 171.5px,#04f 173.5px,#0058ff 196.5px,#0059ff 198.5px,#004eff 200.5px,#05f 213.5px)"></i>
<i style="background:linear-gradient(90deg,#000084 0.5px,#000084 61.5px,#000089 62.5px,#0000a9 63.5px,#0000d5 64.5px,#0000e6 65.5px,#00f 94.5px,#0013ff 101.5px,#001eff 103.5px,#001eff 104.5px,#0013ff 105.5px,#000fff 106.5px,#0028ff 120.5px,#003bff 134.5px,#0043ff 136.5px,#003fff 137.5px,#0036ff 138.5px,#0034ff 140.5px,#004bff 167.5px,#0053ff 170.5px,#0046ff 172.5px,#0058ff 195.5px,#005cff 197.5px,#0050ff 199.5px,#0056ff 213.5px)"></i>
<i style="background:linear-gradient(90deg,#000083 0.5px,#000085 61.5px,#000093 62.5px,#0000be 63.5px,#0000e0 64.5px,#0000e7 65.5px,#00f 93.5px,#01f 100.5px,#0020ff 103.5px,#0010ff 105.5px,#002bff 121.5px,#003cff 133.5px,#0043ff 136.5px,#0034ff 138.5px,#0045ff 159.5px,#004eff 167.5px,#0054ff 169.5px,#0052ff 170.5px,#0049ff 171.5px,#0048ff 173.5px,#0059ff 194.5px,#005dff 196.5px,#0050ff 199.5px,#0056ff 213.5px)"></i>
<i style="background:linear-gradient(90deg,#000083 0.5px,#000083 60.5px,#000087 61.5px,#0000a3 62.5px,#0000d1 63.5px,#0000e5 64.5px,#00f 92.5px,#000dff 98.5px,#001fff 102.5px,#001dff 103.5px,#0013ff 104.5px,#0013ff 106.5px,#002cff 120.5px,#003cff 132.5px,#0046ff 135.5px,#0036ff 137.5px,#004fff 166.5px,#05f 169.5px,#0047ff 171.5px,#005bff 194.5px,#005bff 196.5px,#0051ff 198.5px,#0057ff 213.5px)"></i>
<i style="background:linear-gradient(90deg,#000083 0.5px,#000084 60.5px,#00008f 61.5px,#0000df 63.5px,#0000e8 64.5px,#00f 92.5px,#0013ff 99.5px,#0021ff 102.5px,#01f 104.5px,#002dff 119.5px,#003cff 131.5px,#0047ff 134.5px,#04f 135.5px,#003aff 136.5px,#0038ff 138.5px,#0049ff 159.5px,#0052ff 166.5px,#0058ff 168.5px,#0049ff 170.5px,#005cff 193.5px,#005eff 195.5px,#0053ff 197.5px,#0057ff 213.5px)"></i>
<i style="background:linear-gradient(90deg,#000083 0.5px,#000083 59.5px,#000086 60.5px,#00009e 61.5px,#0000ce 62.5px,#0000e5 63.5px,#00f 90.5px,#0007ff 95.5px,#001bff 100.5px,#0021ff 101.5px,#001dff 102.5px,#0014ff 103.5px,#0018ff 106.5px,#0032ff 122.5px,#003fff 131.5px,#0048ff 134.5px,#0038ff 136.5px,#0049ff 156.5px,#0052ff 165.5px,#0059ff 167.5px,#0056ff 168.5px,#004dff 169.5px,#004bff 171.5px,#005cff 192.5px,#0061ff 194.5px,#0054ff 196.5px,#0058ff 213.5px)"></i>
<i style="background:linear-gradient(90deg,#000083 0.5px,#000084 59.5px,#00008d 60.5px,#00d 62.5px,#0000e8 63.5px,#00f 90.5px,#000cff 96.5px,#001fff 100.5px,#0020ff 101.5px,#0016ff 102.5px,#0012ff 103.5px,#002bff 115.5px,#0040ff 130.5px,#004bff 133.5px,#003bff 135.5px,#0053ff 164.5px,#005aff 167.5px,#004bff 169.5px,#0057ff 184.5px,#005fff 192.5px,#0062ff 193.5px,#005fff 194.5px,#0057ff 195.5px,#0056ff 198.5px,#0058ff 213.5px)"></i>
<i style="background:linear-gradient(90deg,#000083 0.5px,#000085 59.5px,#00009a 60.5px,#0000c9 61.5px,#0000e5 62.5px,#0000eb 66.5px,#00f 89.5px,#000aff 95.5px,#0021ff 100.5px,#0012ff 102.5px,#002bff 114.5px,#0040ff 129.5px,#004cff 132.5px,#0049ff 133.5px,#003fff 134.5px,#003dff 136.5px,#004dff 156.5px,#0057ff 164.5px,#005dff 166.5px,#004eff 168.5px,#0060ff 191.5px,#0062ff 193.5px,#0056ff 195.5px,#0059ff 213.5px)"></i>
<i style="background:linear-gradient(90deg,#000083 0.5px,#000084 58.5px,#00008b 59.5px,#0000ae 60.5px,#0000db 61.5px,#0000e9 62.5px,#00f 87.5px,#000eff 95.5px,#0023ff 99.5px,#001fff 100.5px,#0015ff 101.5px,#0018ff 103.5px,#0030ff 115.5px,#04f 129.5px,#004dff 132.5px,#003dff 134.5px,#004dff 153.5px,#0057ff 163.5px,#005dff 165.5px,#004eff 168.5px,#0059ff 181.5px,#0060ff 190.5px,#0063ff 192.5px,#0057ff 194.5px,#0059ff 213.5px)"></i>
<i style="background:linear-gradient(90deg,#000083 0.5px,#000085 58.5px,#000096 59.5px,#0000c5 60.5px,#0000e5 61.5px,#0000eb 62.5px,#0001ff 84.5px,#000fff 94.5px,#0023ff 98.5px,#0025ff 99.5px,#0016ff 101.5px,#002aff 109.5px,#0045ff 128.5px,#0051ff 131.5px,#0040ff 133.5px,#0058ff 162.5px,#005fff 164.5px,#005dff 165.5px,#0053ff 166.5px,#004fff 167.5px,#0059ff 180.5px,#0060ff 189.5px,#0064ff 191.5px,#0059ff 193.5px,#0059ff 213.5px)"></i>
<i style="background:linear-gradient(90deg,#000083 0.5px,#000084 57.5px,#000089 58.5px,#0000a9 59.5px,#0000d9 60.5px,#0000ea 61.5px,#0001ff 82.5px,#0014ff 94.5px,#0029ff 98.5px,#0018ff 100.5px,#002fff 110.5px,#0047ff 127.5px,#0053ff 130.5px,#004fff 131.5px,#0045ff 132.5px,#0043ff 134.5px,#0051ff 152.5px,#0059ff 161.5px,#0060ff 164.5px,#0051ff 166.5px,#005bff 181.5px,#0062ff 189.5px,#0064ff 191.5px,#0057ff 193.5px,#0059ff 213.5px)"></i>
<i style="background:linear-gradient(90deg,#000083 0.5px,#000084 57.5px,#000093 58.5px,#0000c1 59.5px,#0000e5 60.5px,#0000ec 61.5px,#0001ff 80.5px,#001aff 94.5px,#002bff 97.5px,#0028ff 98.5px,#001dff 99.5px,#001bff 100.5px,#002eff 107.5px,#004bff 127.5px,#0054ff 129.5px,#05f 130.5px,#0043ff 132.5px,#0051ff 148.5px,#005aff 160.5px,#0063ff 163.5px,#0053ff 165.5px,#0054ff 168.5px,#0062ff 188.5px,#0065ff 190.5px,#0058ff 192.5px,#0059ff 213.5px)"></i>
<i style="background:linear-gradient(90deg,#000083 0.5px,#000083 56.5px,#008 57.5px,#0000a5 58.5px,#0000d6 59.5px,#0000eb 60.5px,#00f 78.5px,#001cff 93.5px,#002fff 97.5px,#001dff 99.5px,#0032ff 107.5px,#004dff 126.5px,#0059ff 129.5px,#0046ff 131.5px,#05f 151.5px,#005dff 160.5px,#0064ff 162.5px,#0062ff 163.5px,#0057ff 164.5px,#0053ff 165.5px,#005cff 178.5px,#0062ff 187.5px,#06f 189.5px,#0059ff 191.5px,#005aff 213.5px)"></i>
<i style="background:linear-gradient(90deg,#000083 0.5px,#000084 56.5px,#000090 57.5px,#0000e4 59.5px,#00e 60.5px,#0000fc 74.5px,#0003ff 78.5px,#0016ff 87.5px,#02f 93.5px,#0032ff 96.5px,#002dff 97.5px,#02f 98.5px,#0024ff 100.5px,#0036ff 107.5px,#004fff 125.5px,#005bff 128.5px,#0057ff 129.5px,#004bff 130.5px,#0047ff 131.5px,#0053ff 143.5px,#005cff 158.5px,#0065ff 162.5px,#05f 164.5px,#005eff 179.5px,#0065ff 187.5px,#0068ff 188.5px,#0064ff 189.5px,#005bff 190.5px,#005aff 193.5px,#005aff 213.5px)"></i>
<i style="background:linear-gradient(90deg,#000083 0.5px,#000083 55.5px,#000087 56.5px,#0000a0 57.5px,#0000d3 58.5px,#0000ec 59.5px,#0001ff 76.5px,#0019ff 86.5px,#0028ff 93.5px,#0034ff 95.5px,#03f 96.5px,#0027ff 97.5px,#0023ff 98.5px,#0038ff 106.5px,#0050ff 124.5px,#005dff 127.5px,#005dff 128.5px,#004aff 130.5px,#05f 142.5px,#005fff 158.5px,#0068ff 161.5px,#0056ff 163.5px,#005fff 180.5px,#0065ff 186.5px,#0067ff 188.5px,#0059ff 190.5px,#005aff 211.5px,#005aff 213.5px)"></i>
<i style="background:linear-gradient(90deg,#000083 0.5px,#000084 55.5px,#00008e 56.5px,#0000e3 58.5px,#0000ef 59.5px,#0000fd 72.5px,#0003ff 76.5px,#001cff 85.5px,#002bff 92.5px,#0038ff 95.5px,#0025ff 97.5px,#003cff 106.5px,#05f 124.5px,#0061ff 127.5px,#004dff 129.5px,#0059ff 145.5px,#0061ff 157.5px,#006aff 160.5px,#0065ff 161.5px,#005aff 162.5px,#0058ff 164.5px,#0060ff 178.5px,#0065ff 185.5px,#0069ff 187.5px,#005bff 189.5px,#005aff 213.5px)"></i>
<i style="background:linear-gradient(90deg,#000083 0.5px,#000086 55.5px,#00009d 56.5px,#0000cf 57.5px,#0000ec 58.5px,#0000f1 60.5px,#0002ff 75.5px,#0021ff 85.5px,#0031ff 92.5px,#003cff 94.5px,#0037ff 95.5px,#002aff 96.5px,#0028ff 97.5px,#003fff 105.5px,#0057ff 123.5px,#0063ff 126.5px,#005dff 127.5px,#0052ff 128.5px,#004eff 129.5px,#0059ff 139.5px,#0062ff 156.5px,#006bff 159.5px,#006aff 160.5px,#0059ff 162.5px,#0061ff 177.5px,#06f 184.5px,#006aff 186.5px,#005cff 188.5px,#005aff 213.5px)"></i>
<i style="background:linear-gradient(90deg,#000083 0.5px,#000084 54.5px,#00008c 55.5px,#0000b3 56.5px,#0000e2 57.5px,#0000f0 58.5px,#0000fb 69.5px,#0001ff 74.5px,#0025ff 85.5px,#03f 91.5px,#003eff 93.5px,#003fff 94.5px,#002bff 96.5px,#0043ff 105.5px,#0059ff 122.5px,#0065ff 125.5px,#0063ff 126.5px,#0056ff 127.5px,#0050ff 128.5px,#005bff 138.5px,#0064ff 155.5px,#006dff 159.5px,#005bff 161.5px,#0067ff 183.5px,#006bff 185.5px,#0067ff 186.5px,#005eff 187.5px,#005bff 189.5px,#005bff 209.5px,#005bff 213.5px)"></i>
<i style="background:linear-gradient(90deg,#000083 0.5px,#000085 54.5px,#009 55.5px,#00c 56.5px,#0000ec 57.5px,#0000f2 59.5px,#0000fd 69.5px,#0003ff 74.5px,#002aff 85.5px,#003aff 91.5px,#04f 93.5px,#002eff 95.5px,#0048ff 106.5px,#005eff 122.5px,#0068ff 125.5px,#0053ff 127.5px,#005eff 139.5px,#0067ff 155.5px,#006fff 158.5px,#0069ff 159.5px,#005eff 160.5px,#005dff 162.5px,#0064ff 177.5px,#0069ff 183.5px,#006bff 185.5px,#005cff 187.5px,#005cff 206.5px,#005bff 213.5px)"></i>
<i style="background:linear-gradient(90deg,#000083 0.5px,#000084 53.5px,#00008a 54.5px,#0000af 55.5px,#0000e0 56.5px,#0000f1 57.5px,#0000fc 68.5px,#0002ff 73.5px,#002cff 84.5px,#003cff 90.5px,#0047ff 92.5px,#0042ff 93.5px,#0034ff 94.5px,#0031ff 95.5px,#0049ff 104.5px,#0060ff 121.5px,#006cff 124.5px,#0065ff 125.5px,#0057ff 126.5px,#0057ff 128.5px,#0061ff 138.5px,#0068ff 154.5px,#0071ff 157.5px,#006fff 158.5px,#0063ff 159.5px,#005dff 160.5px,#06f 175.5px,#006aff 182.5px,#006eff 184.5px,#005eff 186.5px,#005cff 213.5px)"></i>
<i style="background:linear-gradient(90deg,#000083 0.5px,#000085 53.5px,#000096 54.5px,#0000c8 55.5px,#0000ec 56.5px,#0000f3 57.5px,#0000fc 67.5px,#0004ff 73.5px,#0031ff 84.5px,#003fff 89.5px,#0049ff 91.5px,#0049ff 92.5px,#003cff 93.5px,#03f 94.5px,#004dff 104.5px,#0062ff 120.5px,#006eff 123.5px,#006cff 124.5px,#005dff 125.5px,#0057ff 126.5px,#0063ff 137.5px,#006aff 153.5px,#0073ff 156.5px,#0072ff 157.5px,#0060ff 159.5px,#006bff 181.5px,#006fff 183.5px,#005dff 186.5px,#005dff 205.5px,#005dff 213.5px)"></i>
<i style="background:linear-gradient(90deg,#000083 0.5px,#000084 52.5px,#000089 53.5px,#0000ab 54.5px,#0000de 55.5px,#0000f1 56.5px,#00f 70.5px,#000dff 75.5px,#0036ff 84.5px,#0045ff 89.5px,#0050ff 91.5px,#0037ff 93.5px,#003eff 96.5px,#0052ff 105.5px,#0064ff 119.5px,#0072ff 123.5px,#005bff 125.5px,#06f 138.5px,#006cff 152.5px,#0076ff 156.5px,#0062ff 158.5px,#006cff 180.5px,#0070ff 182.5px,#006eff 183.5px,#0063ff 184.5px,#005eff 185.5px,#005dff 206.5px,#005eff 213.5px)"></i>
<i style="background:linear-gradient(90deg,#000083 0.5px,#000084 52.5px,#000094 53.5px,#0000c4 54.5px,#0000eb 55.5px,#0000f4 56.5px,#0000fd 66.5px,#0005ff 72.5px,#0019ff 77.5px,#003bff 84.5px,#004dff 89.5px,#0053ff 90.5px,#0051ff 91.5px,#0040ff 92.5px,#003aff 93.5px,#0052ff 102.5px,#0069ff 119.5px,#0076ff 122.5px,#006eff 123.5px,#005fff 124.5px,#005eff 126.5px,#0068ff 137.5px,#006dff 151.5px,#0078ff 155.5px,#0073ff 156.5px,#0067ff 157.5px,#0062ff 158.5px,#006aff 175.5px,#0070ff 182.5px,#0060ff 184.5px,#005eff 212.5px,#005fff 213.5px)"></i>
<i style="background:linear-gradient(90deg,#000083 0.5px,#000083 51.5px,#008 52.5px,#0000a7 53.5px,#0000db 54.5px,#0000f2 55.5px,#0001ff 69.5px,#000cff 74.5px,#0040ff 84.5px,#004fff 88.5px,#0057ff 90.5px,#003eff 92.5px,#0059ff 104.5px,#006cff 118.5px,#0078ff 121.5px,#0076ff 122.5px,#06f 123.5px,#005fff 124.5px,#006bff 136.5px,#0071ff 151.5px,#007aff 154.5px,#0079ff 155.5px,#0065ff 157.5px,#0070ff 179.5px,#0073ff 181.5px,#0062ff 183.5px,#005eff 211.5px,#0062ff 213.5px)"></i>
<i style="background:linear-gradient(90deg,#000083 0.5px,#000084 51.5px,#000092 52.5px,#0000c1 53.5px,#0000ea 54.5px,#0000f4 55.5px,#0002ff 69.5px,#000eff 74.5px,#0045ff 84.5px,#005bff 89.5px,#0053ff 90.5px,#04f 91.5px,#0041ff 92.5px,#0058ff 101.5px,#006eff 117.5px,#007aff 120.5px,#007aff 121.5px,#0063ff 123.5px,#006dff 137.5px,#0073ff 150.5px,#007cff 154.5px,#0067ff 156.5px,#0071ff 178.5px,#0075ff 180.5px,#0065ff 182.5px,#0062ff 184.5px,#005fff 210.5px,#0063ff 213.5px)"></i>
<i style="background:linear-gradient(90deg,#000083 0.5px,#000083 50.5px,#000087 51.5px,#0000a4 52.5px,#0000d9 53.5px,#0000f2 54.5px,#0002ff 68.5px,#0010ff 74.5px,#004aff 84.5px,#005fff 88.5px,#005cff 89.5px,#004bff 90.5px,#04f 91.5px,#005dff 101.5px,#0073ff 117.5px,#007fff 120.5px,#06f 122.5px,#0070ff 138.5px,#0075ff 149.5px,#007fff 153.5px,#0078ff 154.5px,#006bff 155.5px,#0069ff 157.5px,#0072ff 177.5px,#07f 179.5px,#0074ff 180.5px,#0068ff 181.5px,#0063ff 182.5px,#0060ff 210.5px,#0063ff 212.5px,#005fff 213.5px)"></i>
<i style="background:linear-gradient(90deg,#000083 0.5px,#000084 50.5px,#000090 51.5px,#0000e9 53.5px,#0000f5 54.5px,#0003ff 68.5px,#0012ff 74.5px,#05f 85.5px,#0064ff 88.5px,#0049ff 90.5px,#0054ff 95.5px,#0067ff 106.5px,#0076ff 116.5px,#0082ff 119.5px,#007cff 120.5px,#006cff 121.5px,#0067ff 122.5px,#0072ff 134.5px,#0076ff 148.5px,#0081ff 152.5px,#007cff 153.5px,#006fff 154.5px,#006aff 155.5px,#0075ff 177.5px,#07f 179.5px,#0065ff 181.5px,#0060ff 209.5px,#0063ff 211.5px,#0061ff 212.5px,#0057ff 213.5px)"></i>
<i style="background:linear-gradient(90deg,#000083 0.5px,#000083 49.5px,#000087 50.5px,#0000a2 51.5px,#0000d7 52.5px,#0000f2 53.5px,#0000f8 57.5px,#0002ff 67.5px,#0014ff 74.5px,#0068ff 87.5px,#0061ff 88.5px,#0050ff 89.5px,#004cff 90.5px,#0065ff 101.5px,#0078ff 115.5px,#0085ff 118.5px,#0084ff 119.5px,#006aff 121.5px,#0075ff 135.5px,#007aff 148.5px,#0083ff 151.5px,#0081ff 152.5px,#006cff 154.5px,#07f 176.5px,#007aff 178.5px,#0067ff 180.5px,#0060ff 208.5px,#0063ff 211.5px,#0053ff 213.5px)"></i>
<i style="background:linear-gradient(90deg,#000083 0.5px,#000084 49.5px,#00008f 50.5px,#0000e9 52.5px,#0000f5 53.5px,#0001ff 66.5px,#0016ff 74.5px,#006aff 86.5px,#006aff 87.5px,#0059ff 88.5px,#004fff 89.5px,#0069ff 101.5px,#007bff 114.5px,#008aff 118.5px,#006fff 120.5px,#0070ff 123.5px,#0078ff 137.5px,#007cff 147.5px,#0085ff 151.5px,#006fff 153.5px,#07f 174.5px,#007cff 177.5px,#006bff 179.5px,#0067ff 181.5px,#0061ff 207.5px,#0065ff 210.5px,#05f 212.5px,#0053ff 213.5px)"></i>
<i style="background:linear-gradient(90deg,#000083 0.5px,#000083 48.5px,#000086 49.5px,#0000a0 50.5px,#0000d5 51.5px,#0000f2 52.5px,#0000f8 55.5px,#0002ff 66.5px,#0018ff 74.5px,#0053ff 82.5px,#006cff 85.5px,#0070ff 86.5px,#0054ff 88.5px,#0056ff 90.5px,#006cff 100.5px,#007dff 113.5px,#008cff 117.5px,#0084ff 118.5px,#0075ff 119.5px,#0070ff 120.5px,#007bff 133.5px,#007eff 146.5px,#08f 150.5px,#0081ff 151.5px,#0073ff 152.5px,#0071ff 154.5px,#007aff 174.5px,#007eff 176.5px,#007bff 177.5px,#006fff 178.5px,#0069ff 179.5px,#0061ff 206.5px,#0065ff 209.5px,#0054ff 212.5px,#0054ff 213.5px)"></i>
<i style="background:linear-gradient(90deg,#000083 0.5px,#000084 48.5px,#00008e 49.5px,#0000e8 51.5px,#0000f5 52.5px,#0001ff 65.5px,#001aff 74.5px,#0050ff 81.5px,#0073ff 85.5px,#006cff 86.5px,#005aff 87.5px,#05f 88.5px,#006fff 99.5px,#0080ff 112.5px,#0090ff 116.5px,#008cff 117.5px,#007aff 118.5px,#0073ff 119.5px,#007dff 132.5px,#0080ff 145.5px,#008bff 149.5px,#0085ff 150.5px,#07f 151.5px,#0072ff 152.5px,#007bff 173.5px,#0080ff 175.5px,#007eff 176.5px,#006bff 178.5px,#0062ff 205.5px,#06f 208.5px,#0064ff 209.5px,#0054ff 211.5px,#0054ff 213.5px)"></i>
<i style="background:linear-gradient(90deg,#000083 0.5px,#000083 47.5px,#000086 48.5px,#00009e 49.5px,#0000d3 50.5px,#0000f2 51.5px,#0000f8 53.5px,#0002ff 65.5px,#001cff 74.5px,#05f 81.5px,#0075ff 84.5px,#07f 85.5px,#0065ff 86.5px,#0059ff 87.5px,#0073ff 99.5px,#0082ff 111.5px,#0092ff 115.5px,#0093ff 116.5px,#07f 118.5px,#0080ff 134.5px,#0084ff 145.5px,#008dff 148.5px,#008bff 149.5px,#0075ff 151.5px,#007cff 172.5px,#0081ff 175.5px,#006dff 177.5px,#0062ff 204.5px,#06f 208.5px,#05f 210.5px,#05f 213.5px)"></i>
<i style="background:linear-gradient(90deg,#000083 0.5px,#000084 47.5px,#00008d 48.5px,#0000b7 49.5px,#0000e7 50.5px,#0000f6 51.5px,#00f 62.5px,#000cff 68.5px,#001eff 74.5px,#0051ff 80.5px,#007cff 84.5px,#0072ff 85.5px,#0060ff 86.5px,#005dff 87.5px,#0075ff 97.5px,#08f 111.5px,#0098ff 115.5px,#008eff 116.5px,#007dff 117.5px,#0079ff 118.5px,#0082ff 130.5px,#0086ff 144.5px,#008fff 148.5px,#0078ff 150.5px,#007eff 171.5px,#0084ff 174.5px,#0071ff 176.5px,#006eff 179.5px,#0063ff 203.5px,#0067ff 207.5px,#0057ff 209.5px,#0056ff 213.5px)"></i>
<i style="background:linear-gradient(90deg,#000083 0.5px,#000083 46.5px,#000086 47.5px,#00009e 48.5px,#0000d3 49.5px,#0000f2 50.5px,#0000f9 52.5px,#0001ff 61.5px,#0016ff 70.5px,#0024ff 74.5px,#0058ff 80.5px,#007cff 83.5px,#007bff 84.5px,#0068ff 85.5px,#0060ff 86.5px,#0079ff 97.5px,#008aff 110.5px,#009bff 114.5px,#0094ff 115.5px,#0082ff 116.5px,#007cff 117.5px,#0085ff 130.5px,#0089ff 143.5px,#0093ff 147.5px,#008aff 148.5px,#007cff 149.5px,#007aff 151.5px,#0080ff 170.5px,#0087ff 173.5px,#0081ff 174.5px,#0074ff 175.5px,#006fff 177.5px,#0064ff 203.5px,#0068ff 206.5px,#0063ff 207.5px,#0059ff 208.5px,#05f 210.5px,#0056ff 213.5px)"></i>
<i style="background:linear-gradient(90deg,#000083 0.5px,#000084 46.5px,#00008d 47.5px,#0000b7 48.5px,#0000e9 49.5px,#0000f8 50.5px,#0002ff 58.5px,#0018ff 68.5px,#002cff 74.5px,#0056ff 79.5px,#007aff 82.5px,#0080ff 83.5px,#0064ff 85.5px,#007fff 99.5px,#008dff 109.5px,#009fff 113.5px,#009dff 114.5px,#008bff 115.5px,#007fff 116.5px,#08f 130.5px,#008bff 142.5px,#0097ff 146.5px,#0090ff 147.5px,#0080ff 148.5px,#007bff 149.5px,#0081ff 169.5px,#0089ff 172.5px,#0087ff 173.5px,#0071ff 175.5px,#0067ff 193.5px,#06f 203.5px,#0069ff 205.5px,#0067ff 206.5px,#05f 208.5px,#05f 213.5px)"></i>
<i style="background:linear-gradient(90deg,#000083 0.5px,#000083 45.5px,#000086 46.5px,#00009e 47.5px,#0000d4 48.5px,#0000f5 49.5px,#0000fc 51.5px,#0002ff 56.5px,#0020ff 68.5px,#0035ff 74.5px,#0060ff 79.5px,#0081ff 82.5px,#007bff 83.5px,#006aff 84.5px,#0067ff 85.5px,#007cff 94.5px,#008fff 108.5px,#00a4ff 113.5px,#0084ff 115.5px,#0083ff 117.5px,#008aff 129.5px,#008eff 141.5px,#09f 145.5px,#0097ff 146.5px,#007dff 148.5px,#0083ff 168.5px,#008bff 171.5px,#0089ff 172.5px,#0074ff 174.5px,#0065ff 201.5px,#0069ff 205.5px,#0056ff 207.5px,#05f 213.5px)"></i>
<i style="background:linear-gradient(90deg,#000083 0.5px,#000084 45.5px,#00008d 46.5px,#0000b8 47.5px,#0000eb 48.5px,#0000fb 49.5px,#0003ff 55.5px,#0018ff 62.5px,#0024ff 67.5px,#003fff 74.5px,#006aff 79.5px,#0081ff 81.5px,#0082ff 82.5px,#0070ff 83.5px,#0069ff 84.5px,#007fff 93.5px,#0095ff 108.5px,#00a7ff 112.5px,#009dff 113.5px,#008bff 114.5px,#0084ff 115.5px,#008dff 127.5px,#0090ff 140.5px,#009cff 144.5px,#009cff 145.5px,#0081ff 147.5px,#0085ff 167.5px,#008eff 171.5px,#0076ff 173.5px,#006aff 191.5px,#0067ff 201.5px,#006bff 204.5px,#0057ff 206.5px,#05f 209.5px,#05f 213.5px)"></i>
<i style="background:linear-gradient(90deg,#000083 0.5px,#000083 44.5px,#000086 45.5px,#00009e 46.5px,#0000d6 47.5px,#0000f8 48.5px,#0000fe 49.5px,#0003ff 54.5px,#001dff 62.5px,#0043ff 73.5px,#0060ff 77.5px,#0081ff 80.5px,#0086ff 81.5px,#006cff 83.5px,#0081ff 92.5px,#0098ff 107.5px,#00abff 111.5px,#00a6ff 112.5px,#0091ff 113.5px,#0087ff 114.5px,#008fff 126.5px,#0093ff 139.5px,#00a1ff 144.5px,#0096ff 145.5px,#0085ff 146.5px,#0081ff 147.5px,#0089ff 167.5px,#0090ff 170.5px,#08f 171.5px,#007bff 172.5px,#0076ff 173.5px,#0070ff 186.5px,#0067ff 199.5px,#006bff 203.5px,#0059ff 205.5px,#0054ff 207.5px,#0054ff 213.5px)"></i>
<i style="background:linear-gradient(90deg,#000083 0.5px,#000084 44.5px,#00008e 45.5px,#0000ba 46.5px,#0000ed 47.5px,#0000fe 48.5px,#0003ff 53.5px,#0023ff 61.5px,#0029ff 64.5px,#004dff 73.5px,#006bff 77.5px,#008bff 80.5px,#0084ff 81.5px,#0070ff 82.5px,#006eff 83.5px,#007fff 88.5px,#009aff 106.5px,#00aeff 110.5px,#00afff 111.5px,#008bff 113.5px,#0092ff 128.5px,#0097ff 139.5px,#00a5ff 143.5px,#009cff 144.5px,#008aff 145.5px,#0083ff 146.5px,#008bff 166.5px,#0093ff 169.5px,#008cff 170.5px,#007dff 171.5px,#07f 172.5px,#0073ff 185.5px,#0068ff 198.5px,#006dff 202.5px,#0069ff 203.5px,#005bff 204.5px,#05f 205.5px,#0054ff 213.5px)"></i>
<i style="background:linear-gradient(90deg,#000083 0.5px,#000083 43.5px,#000086 44.5px,#0000a0 45.5px,#0000d8 46.5px,#0000fa 47.5px,#00f 49.5px,#0009ff 54.5px,#0027ff 60.5px,#0028ff 62.5px,#0058ff 73.5px,#0082ff 78.5px,#008cff 79.5px,#008eff 80.5px,#007bff 81.5px,#0070ff 82.5px,#0082ff 87.5px,#009eff 105.5px,#00b4ff 110.5px,#00a7ff 111.5px,#0092ff 112.5px,#008cff 113.5px,#0095ff 124.5px,#0098ff 137.5px,#00a7ff 142.5px,#00a4ff 143.5px,#0093ff 144.5px,#0086ff 145.5px,#008dff 165.5px,#0096ff 168.5px,#0093ff 169.5px,#0079ff 171.5px,#0074ff 185.5px,#0069ff 197.5px,#006eff 201.5px,#006bff 202.5px,#0056ff 204.5px,#0053ff 213.5px)"></i>
<i style="background:linear-gradient(90deg,#000083 0.5px,#000084 43.5px,#00008e 44.5px,#0000bc 45.5px,#0000f0 46.5px,#00f 47.5px,#0009ff 53.5px,#002bff 59.5px,#002eff 62.5px,#005eff 72.5px,#0094ff 79.5px,#0073ff 81.5px,#0074ff 82.5px,#0082ff 85.5px,#00a1ff 104.5px,#00b3ff 108.5px,#00b9ff 109.5px,#00aeff 110.5px,#0098ff 111.5px,#008fff 112.5px,#0098ff 123.5px,#009bff 136.5px,#00a5ff 140.5px,#0af 141.5px,#00a8ff 142.5px,#008aff 144.5px,#008eff 163.5px,#0098ff 167.5px,#0095ff 168.5px,#007cff 170.5px,#0074ff 186.5px,#006bff 197.5px,#006eff 201.5px,#0057ff 203.5px,#0052ff 213.5px)"></i>
<i style="background:linear-gradient(90deg,#000083 0.5px,#000083 42.5px,#000087 43.5px,#0000a1 44.5px,#0000db 45.5px,#0000fc 46.5px,#0004ff 50.5px,#0012ff 54.5px,#002dff 58.5px,#0031ff 59.5px,#002fff 61.5px,#0063ff 71.5px,#09f 78.5px,#0091ff 79.5px,#007aff 80.5px,#0075ff 81.5px,#0087ff 85.5px,#00a4ff 103.5px,#00b5ff 107.5px,#00bcff 108.5px,#00b9ff 109.5px,#00a2ff 110.5px,#0092ff 111.5px,#009bff 124.5px,#009fff 136.5px,#00aeff 141.5px,#008dff 143.5px,#008bff 145.5px,#0092ff 163.5px,#009bff 167.5px,#007fff 169.5px,#0076ff 185.5px,#006dff 196.5px,#0071ff 200.5px,#0068ff 201.5px,#0059ff 202.5px,#05f 204.5px,#0052ff 213.5px)"></i>
<i style="background:linear-gradient(90deg,#000083 0.5px,#000084 42.5px,#000090 43.5px,#0000f2 45.5px,#00f 46.5px,#000cff 52.5px,#001fff 55.5px,#03f 58.5px,#0031ff 60.5px,#006fff 71.5px,#009cff 77.5px,#009cff 78.5px,#0086ff 79.5px,#0078ff 80.5px,#008cff 85.5px,#00a7ff 102.5px,#00b8ff 106.5px,#00c2ff 108.5px,#0098ff 110.5px,#0095ff 111.5px,#009dff 121.5px,#00a0ff 134.5px,#0af 138.5px,#00b2ff 140.5px,#00a7ff 141.5px,#0094ff 142.5px,#008cff 143.5px,#0094ff 162.5px,#009eff 166.5px,#0094ff 167.5px,#0084ff 168.5px,#007eff 169.5px,#007bff 181.5px,#006fff 195.5px,#0073ff 199.5px,#005cff 201.5px,#0056ff 202.5px,#0051ff 213.5px)"></i>
<i style="background:linear-gradient(90deg,#000083 0.5px,#000083 41.5px,#000087 42.5px,#0000a4 43.5px,#0000de 44.5px,#0000fd 45.5px,#0010ff 52.5px,#0034ff 57.5px,#0037ff 58.5px,#0034ff 60.5px,#05f 65.5px,#0073ff 70.5px,#00a5ff 77.5px,#007dff 79.5px,#007dff 80.5px,#0091ff 85.5px,#0af 101.5px,#0bf 105.5px,#00c6ff 107.5px,#00b9ff 108.5px,#00a1ff 109.5px,#0098ff 110.5px,#00a1ff 121.5px,#00a5ff 134.5px,#00b2ff 138.5px,#00b7ff 139.5px,#00b1ff 140.5px,#009aff 141.5px,#008fff 142.5px,#0097ff 161.5px,#00a2ff 165.5px,#09f 166.5px,#0087ff 167.5px,#0080ff 168.5px,#007cff 181.5px,#0071ff 194.5px,#0076ff 198.5px,#006dff 199.5px,#005eff 200.5px,#0057ff 201.5px,#0051ff 213.5px)"></i>
<i style="background:linear-gradient(90deg,#000083 0.5px,#000084 41.5px,#000091 42.5px,#0000f4 44.5px,#00f 45.5px,#0010ff 51.5px,#0025ff 54.5px,#0035ff 56.5px,#0039ff 57.5px,#03f 59.5px,#005eff 65.5px,#007fff 70.5px,#00abff 76.5px,#00a1ff 77.5px,#0087ff 78.5px,#0080ff 79.5px,#0096ff 85.5px,#00adff 100.5px,#00beff 104.5px,#00cbff 106.5px,#00c4ff 107.5px,#00a8ff 108.5px,#009bff 109.5px,#00a4ff 121.5px,#00a8ff 133.5px,#00b5ff 137.5px,#00b9ff 138.5px,#00b6ff 139.5px,#0093ff 141.5px,#0097ff 159.5px,#00a5ff 164.5px,#00a1ff 165.5px,#008fff 166.5px,#0082ff 167.5px,#007eff 181.5px,#0073ff 193.5px,#0078ff 197.5px,#0074ff 198.5px,#0059ff 200.5px,#0050ff 213.5px)"></i>
<i style="background:linear-gradient(90deg,#000083 0.5px,#000083 40.5px,#008 41.5px,#0000a8 42.5px,#0000e2 43.5px,#0000fe 44.5px,#000fff 50.5px,#0023ff 53.5px,#003bff 56.5px,#003dff 57.5px,#0036ff 58.5px,#0037ff 59.5px,#0061ff 64.5px,#0083ff 69.5px,#00b1ff 75.5px,#00afff 76.5px,#0095ff 77.5px,#0085ff 78.5px,#009dff 86.5px,#00b0ff 99.5px,#00c0ff 103.5px,#00cfff 105.5px,#00cfff 106.5px,#00a0ff 108.5px,#00a0ff 110.5px,#00a7ff 122.5px,#0af 132.5px,#00b7ff 136.5px,#00bdff 137.5px,#00bcff 138.5px,#0097ff 140.5px,#0094ff 142.5px,#009bff 159.5px,#00a7ff 163.5px,#00a4ff 164.5px,#0086ff 166.5px,#007cff 184.5px,#0076ff 193.5px,#007aff 196.5px,#0076ff 197.5px,#005cff 199.5px,#0050ff 213.5px)"></i>
<i style="background:linear-gradient(90deg,#000083 0.5px,#000085 40.5px,#000095 41.5px,#0000c9 42.5px,#0000f7 43.5px,#00f 44.5px,#0013ff 50.5px,#003dff 55.5px,#0041ff 56.5px,#0035ff 58.5px,#0069ff 64.5px,#008fff 69.5px,#00acff 73.5px,#00b6ff 74.5px,#0bf 75.5px,#008dff 77.5px,#008bff 78.5px,#00a0ff 85.5px,#00b6ff 99.5px,#00caff 103.5px,#00d5ff 105.5px,#00c5ff 106.5px,#00a9ff 107.5px,#00a1ff 108.5px,#00a9ff 119.5px,#00adff 131.5px,#00baff 135.5px,#00c2ff 137.5px,#00b4ff 138.5px,#009cff 139.5px,#0096ff 140.5px,#009eff 158.5px,#0af 162.5px,#00a9ff 163.5px,#08f 165.5px,#007eff 184.5px,#0078ff 192.5px,#007dff 195.5px,#0078ff 196.5px,#005dff 198.5px,#004fff 213.5px)"></i>
<i style="background:linear-gradient(90deg,#000083 0.5px,#000084 39.5px,#00008a 40.5px,#0000af 41.5px,#0000e8 42.5px,#0000fe 43.5px,#0012ff 49.5px,#002aff 52.5px,#003eff 54.5px,#04f 56.5px,#0038ff 57.5px,#0038ff 58.5px,#0072ff 64.5px,#00a8ff 71.5px,#00aeff 72.5px,#00c3ff 74.5px,#00b6ff 75.5px,#09f 76.5px,#0090ff 77.5px,#00a7ff 86.5px,#00b9ff 98.5px,#0cf 102.5px,#00dbff 104.5px,#00cdff 105.5px,#00b0ff 106.5px,#00a5ff 107.5px,#00adff 120.5px,#00b0ff 130.5px,#00bcff 134.5px,#00c4ff 136.5px,#00b7ff 137.5px,#00a2ff 138.5px,#09f 139.5px,#00a0ff 157.5px,#00aeff 162.5px,#00a1ff 163.5px,#008dff 164.5px,#0087ff 165.5px,#0085ff 177.5px,#007aff 191.5px,#007eff 195.5px,#005fff 197.5px,#0059ff 201.5px,#004fff 213.5px)"></i>
<i style="background:linear-gradient(90deg,#000083 0.5px,#000085 39.5px,#009 40.5px,#0000d2 41.5px,#0000fb 42.5px,#0005ff 44.5px,#0018ff 49.5px,#0040ff 53.5px,#004aff 55.5px,#0035ff 57.5px,#0052ff 60.5px,#0079ff 64.5px,#0af 70.5px,#00b9ff 72.5px,#00c5ff 73.5px,#00c7ff 74.5px,#00a9ff 75.5px,#0095ff 76.5px,#00afff 89.5px,#0bf 97.5px,#00cdff 101.5px,#00dcff 103.5px,#00d8ff 104.5px,#00bcff 105.5px,#00a8ff 106.5px,#00afff 123.5px,#00b5ff 130.5px,#00c8ff 135.5px,#00bcff 136.5px,#00a4ff 137.5px,#009bff 138.5px,#00a2ff 156.5px,#00afff 161.5px,#00a4ff 162.5px,#0091ff 163.5px,#0089ff 164.5px,#0085ff 177.5px,#007cff 190.5px,#0080ff 194.5px,#0075ff 195.5px,#0064ff 196.5px,#005cff 197.5px,#004eff 213.5px)"></i>
<i style="background:linear-gradient(90deg,#000083 0.5px,#000084 38.5px,#00008c 39.5px,#0000b7 40.5px,#0000f1 41.5px,#0004ff 42.5px,#0015ff 47.5px,#002cff 50.5px,#004cff 53.5px,#0050ff 54.5px,#004dff 55.5px,#003aff 56.5px,#0039ff 57.5px,#009cff 67.5px,#00b0ff 70.5px,#00b6ff 71.5px,#00caff 73.5px,#00baff 74.5px,#009dff 75.5px,#0097ff 76.5px,#00acff 85.5px,#00c0ff 97.5px,#00d5ff 101.5px,#0df 102.5px,#00dcff 103.5px,#00acff 105.5px,#00a8ff 106.5px,#00b0ff 116.5px,#00b6ff 129.5px,#00c5ff 133.5px,#00caff 134.5px,#00c5ff 135.5px,#00adff 136.5px,#009cff 137.5px,#00a3ff 155.5px,#00b2ff 160.5px,#00a7ff 161.5px,#0092ff 162.5px,#008aff 163.5px,#0087ff 175.5px,#007dff 190.5px,#0080ff 193.5px,#0075ff 194.5px,#0064ff 195.5px,#005cff 196.5px,#004eff 213.5px)"></i>
<i style="background:linear-gradient(90deg,#000083 0.5px,#000083 37.5px,#000086 38.5px,#0000a1 39.5px,#00d 40.5px,#0003fe 41.5px,#000bff 43.5px,#001cff 47.5px,#002dff 49.5px,#0051ff 52.5px,#0056ff 53.5px,#0057ff 54.5px,#0037ff 56.5px,#00adff 68.5px,#00b5ff 70.5px,#00c9ff 72.5px,#00c4ff 73.5px,#00a6ff 74.5px,#09f 75.5px,#00b0ff 86.5px,#00c1ff 96.5px,#00d4ff 100.5px,#00dfff 102.5px,#00ceff 103.5px,#00b1ff 104.5px,#0af 105.5px,#00b2ff 115.5px,#00b8ff 128.5px,#00c5ff 132.5px,#00cbff 133.5px,#00c7ff 134.5px,#00a0ff 136.5px,#009dff 138.5px,#00a4ff 154.5px,#00b3ff 159.5px,#00aeff 160.5px,#09f 161.5px,#008bff 162.5px,#0086ff 175.5px,#007dff 189.5px,#0080ff 192.5px,#0074ff 193.5px,#0063ff 194.5px,#005cff 195.5px,#004dff 213.5px)"></i>
<i style="background:linear-gradient(90deg,#000083 0.5px,#000084 37.5px,#000091 38.5px,#0001f9 40.5px,#000bff 41.5px,#0018ff 45.5px,#002eff 48.5px,#0054ff 51.5px,#005cff 52.5px,#005fff 53.5px,#0058ff 54.5px,#003dff 55.5px,#003cff 56.5px,#00aeff 67.5px,#0bf 70.5px,#00c6ff 71.5px,#00c8ff 72.5px,#009cff 74.5px,#009fff 76.5px,#00b5ff 87.5px,#00c6ff 96.5px,#00e1ff 101.5px,#00d4ff 102.5px,#00b7ff 103.5px,#00acff 104.5px,#00b4ff 115.5px,#00b9ff 127.5px,#00c6ff 131.5px,#00cdff 133.5px,#00a2ff 135.5px,#009dff 136.5px,#00a5ff 153.5px,#00b4ff 158.5px,#00afff 159.5px,#008dff 161.5px,#008cff 164.5px,#0083ff 178.5px,#007eff 188.5px,#0080ff 191.5px,#0074ff 192.5px,#0063ff 193.5px,#005bff 194.5px,#004cff 213.5px)"></i>
<i style="background:linear-gradient(90deg,#000083 0.5px,#000083 36.5px,#008 37.5px,#00a 38.5px,#0000e9 39.5px,#0009ff 40.5px,#0012ff 42.5px,#001eff 45.5px,#002fff 47.5px,#0061ff 51.5px,#06f 52.5px,#0064ff 53.5px,#003cff 55.5px,#008cff 63.5px,#00aeff 66.5px,#00b9ff 68.5px,#0bf 69.5px,#00caff 71.5px,#0bf 72.5px,#00a1ff 73.5px,#009cff 74.5px,#00b0ff 82.5px,#00c7ff 95.5px,#00dbff 99.5px,#00e2ff 100.5px,#00deff 101.5px,#00c1ff 102.5px,#00aeff 103.5px,#00b6ff 116.5px,#0bf 126.5px,#00c7ff 130.5px,#00cfff 132.5px,#00c0ff 133.5px,#00a8ff 134.5px,#009fff 135.5px,#00a6ff 152.5px,#00b5ff 157.5px,#00b0ff 158.5px,#008dff 160.5px,#008cff 163.5px,#0085ff 176.5px,#007eff 187.5px,#0081ff 190.5px,#0074ff 191.5px,#0062ff 192.5px,#005aff 193.5px,#004cff 213.5px)"></i>
<i style="background:linear-gradient(90deg,#000083 0.5px,#000085 36.5px,#000097 37.5px,#0000d0 38.5px,#0004fd 39.5px,#0010ff 40.5px,#001eff 44.5px,#002eff 46.5px,#0067ff 50.5px,#006dff 51.5px,#006eff 52.5px,#0065ff 53.5px,#04f 54.5px,#0041ff 55.5px,#08f 62.5px,#00b8ff 66.5px,#00beff 68.5px,#00c0ff 69.5px,#00c9ff 70.5px,#00c3ff 71.5px,#00a7ff 72.5px,#009dff 73.5px,#00b1ff 81.5px,#00c8ff 94.5px,#00dbff 98.5px,#00e2ff 99.5px,#00e4ff 100.5px,#00b2ff 102.5px,#00aeff 103.5px,#00b7ff 112.5px,#00bcff 125.5px,#00c9ff 129.5px,#00d0ff 131.5px,#00c2ff 132.5px,#0af 133.5px,#00a0ff 134.5px,#00a7ff 151.5px,#00b6ff 157.5px,#008eff 159.5px,#008cff 161.5px,#0089ff 172.5px,#007eff 185.5px,#0083ff 189.5px,#007bff 190.5px,#0065ff 191.5px,#005aff 192.5px,#004bff 212.5px,#004cff 213.5px)"></i>
<i style="background:linear-gradient(90deg,#000083 0.5px,#000084 35.5px,#00008c 36.5px,#0000b7 37.5px,#0001f3 38.5px,#000dff 39.5px,#0023ff 44.5px,#0038ff 46.5px,#006bff 49.5px,#0076ff 50.5px,#0079ff 51.5px,#0075ff 52.5px,#0043ff 54.5px,#0085ff 61.5px,#00b9ff 65.5px,#00c3ff 67.5px,#00c8ff 70.5px,#009eff 72.5px,#00b3ff 80.5px,#00cdff 94.5px,#00e6ff 99.5px,#00d5ff 100.5px,#00baff 101.5px,#00b0ff 102.5px,#00b9ff 112.5px,#00beff 124.5px,#00caff 128.5px,#00d4ff 130.5px,#00cbff 131.5px,#00afff 132.5px,#00a2ff 133.5px,#00a9ff 151.5px,#00b8ff 156.5px,#0af 157.5px,#0094ff 158.5px,#008cff 159.5px,#008bff 169.5px,#007fff 184.5px,#0084ff 188.5px,#007eff 189.5px,#005cff 191.5px,#004bff 209.5px,#004cff 213.5px)"></i>
<i style="background:linear-gradient(90deg,#000083 0.5px,#000083 34.5px,#000086 35.5px,#0000a1 36.5px,#0000df 37.5px,#0008ff 38.5px,#0012ff 39.5px,#0023ff 43.5px,#0036ff 45.5px,#0059ff 47.5px,#007cff 49.5px,#0084ff 50.5px,#0082ff 51.5px,#0074ff 52.5px,#004cff 53.5px,#0049ff 54.5px,#008eff 61.5px,#00b9ff 64.5px,#00c3ff 65.5px,#00c8ff 66.5px,#00caff 69.5px,#00bdff 70.5px,#00a2ff 71.5px,#009fff 72.5px,#00afff 76.5px,#00ceff 93.5px,#00e8ff 98.5px,#00dfff 99.5px,#00c0ff 100.5px,#00b2ff 101.5px,#0bf 111.5px,#00bfff 123.5px,#00cbff 127.5px,#00d5ff 129.5px,#00d0ff 130.5px,#00a5ff 132.5px,#00a3ff 134.5px,#00abff 150.5px,#00b8ff 155.5px,#00abff 156.5px,#0096ff 157.5px,#008dff 158.5px,#008bff 169.5px,#0080ff 183.5px,#0085ff 187.5px,#007fff 188.5px,#005cff 190.5px,#0057ff 193.5px,#004aff 210.5px,#004cff 213.5px)"></i>
<i style="background:linear-gradient(90deg,#000083 0.5px,#000084 34.5px,#000092 35.5px,#0003fa 37.5px,#0010ff 38.5px,#0028ff 43.5px,#0032ff 44.5px,#0041ff 45.5px,#0080ff 48.5px,#008cff 49.5px,#008fff 50.5px,#08f 51.5px,#0060ff 52.5px,#004aff 53.5px,#008bff 60.5px,#00c5ff 64.5px,#00cdff 65.5px,#0cf 68.5px,#00c6ff 69.5px,#00a9ff 70.5px,#009eff 71.5px,#00b0ff 75.5px,#00cfff 92.5px,#00e8ff 97.5px,#00e3ff 98.5px,#00caff 99.5px,#00b5ff 100.5px,#00b6ff 102.5px,#00bdff 112.5px,#00c1ff 122.5px,#0cf 126.5px,#00d6ff 128.5px,#00d0ff 129.5px,#00a7ff 131.5px,#00a5ff 133.5px,#00acff 149.5px,#00baff 154.5px,#00acff 155.5px,#0096ff 156.5px,#008dff 157.5px,#008cff 168.5px,#0081ff 182.5px,#0086ff 186.5px,#007fff 187.5px,#005dff 189.5px,#0056ff 193.5px,#004aff 209.5px,#004dff 213.5px)"></i>
<i style="background:linear-gradient(90deg,#000083 0.5px,#000084 33.5px,#00008a 34.5px,#0000ae 35.5px,#0000ec 36.5px,#000bff 37.5px,#0018ff 39.5px,#0030ff 43.5px,#003dff 44.5px,#0068ff 46.5px,#0081ff 47.5px,#0093ff 48.5px,#009aff 49.5px,#0096ff 50.5px,#0080ff 51.5px,#004eff 52.5px,#0050ff 53.5px,#0095ff 60.5px,#00c4ff 63.5px,#00cfff 64.5px,#00d4ff 65.5px,#00cdff 68.5px,#00a0ff 70.5px,#00a8ff 72.5px,#00b6ff 76.5px,#00d0ff 91.5px,#00e2ff 95.5px,#00e9ff 96.5px,#00eaff 97.5px,#00b8ff 99.5px,#00b5ff 100.5px,#00beff 108.5px,#00c3ff 121.5px,#00d2ff 126.5px,#00d7ff 127.5px,#00d2ff 128.5px,#0bf 129.5px,#00a8ff 130.5px,#00a6ff 132.5px,#00adff 148.5px,#00beff 153.5px,#00b5ff 154.5px,#009aff 155.5px,#008eff 156.5px,#008dff 167.5px,#0082ff 181.5px,#0087ff 185.5px,#0080ff 186.5px,#005dff 188.5px,#0056ff 192.5px,#0049ff 208.5px,#004eff 213.5px)"></i>
<i style="background:linear-gradient(90deg,#000083 0.5px,#000086 33.5px,#00009c 34.5px,#0000d6 35.5px,#0005fd 36.5px,#0010ff 37.5px,#002dff 42.5px,#0039ff 43.5px,#004aff 44.5px,#0095ff 47.5px,#00a4ff 48.5px,#00a4ff 49.5px,#09f 50.5px,#0064ff 51.5px,#004eff 52.5px,#0070ff 55.5px,#0094ff 59.5px,#00b1ff 61.5px,#00d0ff 63.5px,#00d9ff 64.5px,#00d3ff 67.5px,#00c3ff 68.5px,#00a5ff 69.5px,#00a1ff 70.5px,#00b5ff 74.5px,#00d4ff 91.5px,#00ebff 96.5px,#00dbff 97.5px,#00c0ff 98.5px,#00b6ff 99.5px,#00c0ff 108.5px,#00c6ff 121.5px,#00d4ff 125.5px,#00d9ff 126.5px,#00daff 127.5px,#00abff 129.5px,#00a6ff 130.5px,#00aeff 147.5px,#00bfff 152.5px,#00b9ff 153.5px,#0091ff 155.5px,#0090ff 158.5px,#08f 174.5px,#0083ff 181.5px,#08f 184.5px,#0082ff 185.5px,#005dff 187.5px,#0057ff 190.5px,#0049ff 207.5px,#004bff 212.5px,#0045ff 213.5px)"></i>
<i style="background:linear-gradient(90deg,#000083 0.5px,#000084 32.5px,#000090 33.5px,#0000be 34.5px,#0001f5 35.5px,#000cff 36.5px,#002bff 41.5px,#0035ff 42.5px,#04f 43.5px,#005bff 44.5px,#0095ff 46.5px,#00a7ff 47.5px,#00aeff 48.5px,#00a8ff 49.5px,#08f 50.5px,#0051ff 51.5px,#0056ff 52.5px,#0070ff 54.5px,#00a0ff 59.5px,#00cfff 62.5px,#00dbff 63.5px,#00deff 64.5px,#00d8ff 66.5px,#00cfff 67.5px,#00adff 68.5px,#00a2ff 69.5px,#00b9ff 74.5px,#00d5ff 90.5px,#00edff 95.5px,#00e4ff 96.5px,#00c6ff 97.5px,#00b8ff 98.5px,#00c2ff 107.5px,#00c8ff 120.5px,#00d5ff 124.5px,#00dcff 126.5px,#0cf 127.5px,#00b2ff 128.5px,#00a8ff 129.5px,#00afff 146.5px,#00c0ff 151.5px,#00baff 152.5px,#0093ff 154.5px,#0090ff 156.5px,#008dff 168.5px,#0085ff 180.5px,#008aff 183.5px,#0083ff 184.5px,#005eff 186.5px,#0058ff 189.5px,#0048ff 206.5px,#004bff 211.5px,#0035ff 213.5px)"></i>
<i style="background:linear-gradient(90deg,#000083 0.5px,#000084 31.5px,#000089 32.5px,#00a 33.5px,#0000e5 34.5px,#0005ff 35.5px,#0031ff 41.5px,#003fff 42.5px,#0054ff 43.5px,#00abff 46.5px,#00b7ff 47.5px,#00b5ff 48.5px,#00a6ff 49.5px,#0065ff 50.5px,#0052ff 51.5px,#007bff 54.5px,#00a0ff 58.5px,#00dbff 62.5px,#00e2ff 63.5px,#00deff 65.5px,#00d8ff 66.5px,#0bf 67.5px,#00a4ff 68.5px,#00b1ff 71.5px,#00bfff 75.5px,#00d6ff 89.5px,#00ecff 94.5px,#00e7ff 95.5px,#00cfff 96.5px,#00bcff 97.5px,#00bdff 99.5px,#00c5ff 108.5px,#00caff 119.5px,#00d7ff 123.5px,#0df 125.5px,#00ceff 126.5px,#00b5ff 127.5px,#0af 128.5px,#00b1ff 145.5px,#00c1ff 150.5px,#0bf 151.5px,#0094ff 153.5px,#0091ff 155.5px,#008eff 167.5px,#0087ff 179.5px,#008aff 182.5px,#0084ff 183.5px,#005fff 185.5px,#0059ff 188.5px,#0049ff 202.5px,#004cff 210.5px,#0046ff 211.5px,#0035ff 212.5px,#002eff 213.5px)"></i>
<i style="background:linear-gradient(90deg,#000083 0.5px,#000086 31.5px,#00009b 32.5px,#0000d1 33.5px,#0001fb 34.5px,#000fff 36.5px,#002cff 40.5px,#003aff 41.5px,#004dff 42.5px,#0069ff 43.5px,#0af 45.5px,#00bfff 46.5px,#00c2ff 47.5px,#00b7ff 48.5px,#008aff 49.5px,#0052ff 50.5px,#005aff 51.5px,#007aff 53.5px,#00adff 58.5px,#0df 61.5px,#00e7ff 62.5px,#00e5ff 64.5px,#00dfff 65.5px,#00cbff 66.5px,#00a9ff 67.5px,#00a6ff 68.5px,#00c1ff 74.5px,#00d8ff 88.5px,#00e6ff 92.5px,#00ecff 93.5px,#00edff 94.5px,#00bfff 96.5px,#00bcff 97.5px,#00c6ff 105.5px,#0cf 118.5px,#00d8ff 122.5px,#00dfff 124.5px,#00cfff 125.5px,#00b6ff 126.5px,#00acff 127.5px,#00b2ff 144.5px,#00c2ff 149.5px,#00bcff 150.5px,#0095ff 152.5px,#0092ff 154.5px,#008fff 165.5px,#0089ff 178.5px,#008aff 181.5px,#005fff 184.5px,#0059ff 187.5px,#004aff 199.5px,#0049ff 207.5px,#004cff 209.5px,#0047ff 210.5px,#002eff 212.5px,#002dff 213.5px)"></i>
<i style="background:linear-gradient(90deg,#000083 0.5px,#000084 30.5px,#000091 31.5px,#0000bf 32.5px,#0000f2 33.5px,#0004ff 34.5px,#0028ff 39.5px,#0034ff 40.5px,#0046ff 41.5px,#0061ff 42.5px,#00a7ff 44.5px,#00c3ff 45.5px,#00cdff 46.5px,#00c5ff 47.5px,#00abff 48.5px,#005cff 49.5px,#0052ff 50.5px,#0084ff 53.5px,#00adff 57.5px,#0df 60.5px,#00e9ff 61.5px,#0ef 62.5px,#00e6ff 64.5px,#00d9ff 65.5px,#00b2ff 66.5px,#00a7ff 67.5px,#00c2ff 73.5px,#00daff 88.5px,#00edff 93.5px,#00deff 94.5px,#00c6ff 95.5px,#00beff 96.5px,#00c8ff 105.5px,#00d0ff 118.5px,#00e0ff 123.5px,#00d0ff 124.5px,#00b7ff 125.5px,#00adff 126.5px,#00b4ff 143.5px,#00c4ff 148.5px,#00beff 149.5px,#00a7ff 150.5px,#0095ff 151.5px,#0093ff 153.5px,#0090ff 164.5px,#008cff 178.5px,#008cff 180.5px,#007cff 181.5px,#0067ff 182.5px,#005eff 183.5px,#0049ff 198.5px,#0048ff 206.5px,#004bff 208.5px,#0047ff 209.5px,#002eff 211.5px,#002cff 213.5px)"></i>
<i style="background:linear-gradient(90deg,#000083 0.5px,#000084 29.5px,#00008b 30.5px,#0000b0 31.5px,#0000e9 32.5px,#0003ff 33.5px,#0026ff 38.5px,#0031ff 39.5px,#0042ff 40.5px,#005aff 41.5px,#00c4ff 44.5px,#00d6ff 45.5px,#00d4ff 46.5px,#00c4ff 47.5px,#0080ff 48.5px,#0049ff 49.5px,#0069ff 51.5px,#008aff 53.5px,#00b9ff 57.5px,#00ebff 60.5px,#00f2ff 61.5px,#00f2ff 62.5px,#00e2ff 64.5px,#00bfff 65.5px,#00a7ff 66.5px,#00c7ff 74.5px,#0df 88.5px,#0ef 92.5px,#00e5ff 93.5px,#00caff 94.5px,#00bfff 95.5px,#00c9ff 104.5px,#00d1ff 117.5px,#00e3ff 122.5px,#00d4ff 123.5px,#00b8ff 124.5px,#00adff 125.5px,#00b4ff 142.5px,#00c0ff 146.5px,#00c5ff 147.5px,#00c5ff 148.5px,#0096ff 150.5px,#0092ff 151.5px,#0093ff 159.5px,#008bff 174.5px,#008dff 179.5px,#007dff 180.5px,#06f 181.5px,#005cff 182.5px,#0047ff 198.5px,#0048ff 206.5px,#0049ff 208.5px,#002cff 210.5px,#002aff 213.5px)"></i>
<i style="background:linear-gradient(90deg,#000083 0.5px,#000083 28.5px,#008 29.5px,#0000a3 30.5px,#0000df 31.5px,#0006fe 32.5px,#0027ff 37.5px,#0040ff 39.5px,#0057ff 40.5px,#0076ff 41.5px,#00c1ff 43.5px,#00dcff 44.5px,#00e1ff 45.5px,#00d4ff 46.5px,#00adff 47.5px,#0050ff 48.5px,#0049ff 49.5px,#008dff 53.5px,#00b4ff 56.5px,#00ebff 59.5px,#00f7ff 60.5px,#00f8ff 61.5px,#00f3ff 62.5px,#00e9ff 63.5px,#00cfff 64.5px,#00a8ff 65.5px,#00a5ff 66.5px,#00c3ff 72.5px,#00dfff 88.5px,#00ebff 91.5px,#00e6ff 92.5px,#00d0ff 93.5px,#00c0ff 94.5px,#00caff 105.5px,#00d1ff 116.5px,#00e4ff 121.5px,#0df 122.5px,#00c1ff 123.5px,#00aeff 124.5px,#00b4ff 141.5px,#00bfff 145.5px,#00c5ff 147.5px,#00b5ff 148.5px,#009bff 149.5px,#0091ff 150.5px,#0092ff 159.5px,#008aff 172.5px,#008cff 178.5px,#007cff 179.5px,#0064ff 180.5px,#005aff 181.5px,#04f 198.5px,#0046ff 205.5px,#0047ff 207.5px,#002dff 209.5px,#0027ff 210.5px,#0028ff 213.5px)"></i>
<i style="background:linear-gradient(90deg,#000083 0.5px,#000085 28.5px,#009 29.5px,#0000d2 30.5px,#0006fc 31.5px,#0013ff 32.5px,#0021ff 35.5px,#0032ff 37.5px,#003fff 38.5px,#0054ff 39.5px,#0073ff 40.5px,#00c2ff 42.5px,#00dfff 43.5px,#00ecff 44.5px,#00e4ff 45.5px,#00cbff 46.5px,#0074ff 47.5px,#003fff 48.5px,#004cff 49.5px,#0091ff 53.5px,#00c0ff 56.5px,#00eaff 58.5px,#00f8ff 59.5px,#00feff 60.5px,#00f1ff 62.5px,#0df 63.5px,#00adff 64.5px,#00a1ff 65.5px,#00c0ff 71.5px,#00cdff 77.5px,#00e1ff 88.5px,#00e9ff 90.5px,#00e9ff 91.5px,#00bfff 93.5px,#00c0ff 95.5px,#00caff 103.5px,#00d0ff 114.5px,#00daff 118.5px,#00e3ff 120.5px,#00dcff 121.5px,#00b0ff 123.5px,#00aeff 125.5px,#00b5ff 141.5px,#00c4ff 146.5px,#00b4ff 147.5px,#009aff 148.5px,#0090ff 149.5px,#0090ff 159.5px,#08f 172.5px,#008dff 176.5px,#008bff 177.5px,#007bff 178.5px,#0063ff 179.5px,#0058ff 180.5px,#0041ff 198.5px,#04f 206.5px,#002aff 208.5px,#0024ff 209.5px,#0025ff 213.5px)"></i>
<i style="background:linear-gradient(90deg,#000083 0.5px,#000084 27.5px,#000091 28.5px,#0000c3 29.5px,#0004f9 30.5px,#0016ff 31.5px,#002aff 35.5px,#003fff 37.5px,#0051ff 38.5px,#006eff 39.5px,#00c1ff 41.5px,#00e6ff 42.5px,#00f8ff 43.5px,#00f4ff 44.5px,#00dfff 45.5px,#00a5ff 46.5px,#0040ff 47.5px,#003fff 48.5px,#00baff 55.5px,#00e7ff 57.5px,#00f9ff 58.5px,#03fffc 59.5px,#03fffc 60.5px,#00f7ff 61.5px,#00e9ff 62.5px,#0bf 63.5px,#009fff 64.5px,#00c1ff 71.5px,#00d0ff 78.5px,#00e3ff 88.5px,#00e7ff 90.5px,#00d9ff 91.5px,#00c3ff 92.5px,#00bcff 93.5px,#00c9ff 100.5px,#00d0ff 113.5px,#00deff 118.5px,#00e2ff 119.5px,#00dbff 120.5px,#00b0ff 122.5px,#00aeff 124.5px,#00b5ff 140.5px,#00c3ff 145.5px,#00b3ff 146.5px,#09f 147.5px,#008fff 148.5px,#0090ff 157.5px,#0087ff 171.5px,#008dff 175.5px,#0085ff 176.5px,#0060ff 178.5px,#0056ff 179.5px,#003fff 197.5px,#04f 205.5px,#0039ff 206.5px,#0027ff 207.5px,#0020ff 208.5px,#0021ff 213.5px)"></i>
<i style="background:linear-gradient(90deg,#000083 0.5px,#000084 26.5px,#00008c 27.5px,#0000b5 28.5px,#0003f2 29.5px,#0017ff 30.5px,#0020ff 31.5px,#002cff 34.5px,#003fff 36.5px,#004fff 37.5px,#006aff 38.5px,#0090ff 39.5px,#00e9ff 41.5px,#06fef9 42.5px,#07fff8 43.5px,#00f3ff 44.5px,#00cdff 45.5px,#005fff 46.5px,#03f 47.5px,#009eff 53.5px,#01f8fe 57.5px,#08fff7 58.5px,#09fff6 59.5px,#02fefd 60.5px,#00f1ff 61.5px,#00ceff 62.5px,#009fff 63.5px,#009eff 64.5px,#00bcff 69.5px,#00cdff 75.5px,#00e2ff 87.5px,#00e7ff 89.5px,#00daff 90.5px,#00c2ff 91.5px,#0bf 92.5px,#00c9ff 99.5px,#00cfff 112.5px,#00e1ff 118.5px,#00daff 119.5px,#00afff 121.5px,#00aeff 123.5px,#00b5ff 139.5px,#00c2ff 143.5px,#00c2ff 144.5px,#00b2ff 145.5px,#0098ff 146.5px,#008dff 147.5px,#008fff 156.5px,#0086ff 170.5px,#008dff 174.5px,#0084ff 175.5px,#006bff 176.5px,#0058ff 177.5px,#0052ff 179.5px,#003cff 197.5px,#0042ff 204.5px,#003cff 205.5px,#0029ff 206.5px,#001dff 207.5px,#001eff 213.5px)"></i>
<i style="background:linear-gradient(90deg,#000083 0.5px,#000084 25.5px,#000089 26.5px,#0000a8 27.5px,#0000e8 28.5px,#0014ff 29.5px,#02f 30.5px,#0036ff 34.5px,#0040ff 35.5px,#004eff 36.5px,#06f 37.5px,#008bff 38.5px,#00eaff 40.5px,#0efef1 41.5px,#18ffe7 42.5px,#08fff7 43.5px,#00e6ff 44.5px,#009aff 45.5px,#0034ff 46.5px,#0038ff 47.5px,#0093ff 52.5px,#00c3ff 54.5px,#01f8fe 56.5px,#0bfff4 57.5px,#1fe 58.5px,#08fff7 59.5px,#00faff 60.5px,#00e0ff 61.5px,#00a5ff 62.5px,#09f 63.5px,#00b9ff 68.5px,#00ceff 75.5px,#00e6ff 88.5px,#00dfff 89.5px,#00c8ff 90.5px,#00baff 91.5px,#00c9ff 98.5px,#00d1ff 112.5px,#00e0ff 117.5px,#00daff 118.5px,#00afff 120.5px,#00aeff 122.5px,#00b1ff 133.5px,#00b7ff 139.5px,#00c2ff 142.5px,#00c2ff 143.5px,#00b1ff 144.5px,#0097ff 145.5px,#008cff 146.5px,#008eff 155.5px,#0086ff 169.5px,#008cff 173.5px,#0083ff 174.5px,#006aff 175.5px,#0056ff 176.5px,#0051ff 178.5px,#003aff 196.5px,#003fff 203.5px,#003aff 204.5px,#001bff 206.5px,#001bff 213.5px)"></i>
<i style="background:linear-gradient(90deg,#000083 0.5px,#000083 24.5px,#000087 25.5px,#00009f 26.5px,#0000dc 27.5px,#000fff 28.5px,#0021ff 29.5px,#0042ff 34.5px,#0050ff 35.5px,#0065ff 36.5px,#0085ff 37.5px,#01e8fe 39.5px,#14ffeb 40.5px,#26ffd9 41.5px,#1cffe3 42.5px,#02f9fd 43.5px,#00cbff 44.5px,#0053ff 45.5px,#002eff 46.5px,#08f 51.5px,#009eff 52.5px,#01f6fe 55.5px,#0ffff0 56.5px,#17ffe8 57.5px,#13ffec 58.5px,#04fefb 59.5px,#00edff 60.5px,#00b4ff 61.5px,#0096ff 62.5px,#00b7ff 67.5px,#00cdff 74.5px,#00e5ff 87.5px,#00e1ff 88.5px,#00cbff 89.5px,#0bf 90.5px,#00caff 98.5px,#00d1ff 111.5px,#00dfff 116.5px,#00daff 117.5px,#00afff 119.5px,#00aeff 121.5px,#00b2ff 129.5px,#00b5ff 137.5px,#00c2ff 141.5px,#00c2ff 142.5px,#00b1ff 143.5px,#0096ff 144.5px,#008bff 145.5px,#008eff 154.5px,#0086ff 168.5px,#008bff 171.5px,#0089ff 172.5px,#007aff 173.5px,#0054ff 175.5px,#004fff 177.5px,#0038ff 196.5px,#003dff 202.5px,#0037ff 203.5px,#0018ff 205.5px,#0018ff 213.5px)"></i>
<i style="background:linear-gradient(90deg,#000083 0.5px,#000085 24.5px,#000098 25.5px,#0000cf 26.5px,#0009fc 27.5px,#001eff 28.5px,#0045ff 33.5px,#0053ff 34.5px,#0069ff 35.5px,#0089ff 36.5px,#00b4ff 37.5px,#00e5ff 38.5px,#17ffe8 39.5px,#3fc 40.5px,#2fffd0 41.5px,#13ffec 42.5px,#00e6ff 43.5px,#002fff 45.5px,#0035ff 46.5px,#0094ff 51.5px,#00afff 52.5px,#01f2fe 54.5px,#10ffef 55.5px,#1fffe0 56.5px,#1bffe4 57.5px,#0dfff2 58.5px,#00f6ff 59.5px,#00c8ff 60.5px,#0095ff 61.5px,#0096ff 62.5px,#00afff 65.5px,#00c5ff 70.5px,#00e0ff 83.5px,#00e2ff 87.5px,#00d2ff 88.5px,#00bcff 89.5px,#00b9ff 90.5px,#00c8ff 95.5px,#00d1ff 110.5px,#00dfff 114.5px,#00d9ff 116.5px,#00c1ff 117.5px,#00aeff 118.5px,#00aeff 120.5px,#00b2ff 127.5px,#00b5ff 136.5px,#00c2ff 140.5px,#00c2ff 141.5px,#00b0ff 142.5px,#0096ff 143.5px,#008aff 144.5px,#008dff 153.5px,#08f 168.5px,#008cff 170.5px,#008aff 171.5px,#0076ff 172.5px,#005bff 173.5px,#0050ff 174.5px,#0035ff 195.5px,#003bff 201.5px,#0034ff 202.5px,#0014ff 204.5px,#0014ff 213.5px)"></i>
<i style="background:linear-gradient(90deg,#000083 0.5px,#000085 23.5px,#000092 24.5px,#0000c2 25.5px,#0003f8 26.5px,#0019ff 27.5px,#0048ff 32.5px,#0056ff 33.5px,#006cff 34.5px,#008eff 35.5px,#03ecfc 37.5px,#21ffde 38.5px,#3effc1 39.5px,#42ffbd 40.5px,#29ffd6 41.5px,#06f9f9 42.5px,#00bcff 43.5px,#0040ff 44.5px,#002bff 45.5px,#008aff 50.5px,#00a4ff 51.5px,#00ecff 53.5px,#0ffff0 54.5px,#23ffdc 55.5px,#26ffd9 56.5px,#03fcfc 58.5px,#00dcff 59.5px,#009aff 60.5px,#0090ff 61.5px,#00acff 64.5px,#00c3ff 69.5px,#00e2ff 85.5px,#00e1ff 86.5px,#00d2ff 87.5px,#00beff 88.5px,#00b9ff 89.5px,#00c9ff 95.5px,#00d4ff 110.5px,#00deff 114.5px,#00d9ff 115.5px,#00b9ff 116.5px,#00adff 117.5px,#00b3ff 126.5px,#00b5ff 135.5px,#00c2ff 139.5px,#00c2ff 140.5px,#00b0ff 141.5px,#0095ff 142.5px,#008aff 143.5px,#008dff 152.5px,#08f 166.5px,#008cff 169.5px,#0086ff 170.5px,#0074ff 171.5px,#005aff 172.5px,#004eff 173.5px,#0043ff 181.5px,#0034ff 192.5px,#0038ff 199.5px,#0039ff 200.5px,#03f 201.5px,#001fff 202.5px,#01f 203.5px,#01f 213.5px)"></i>
<i style="background:linear-gradient(90deg,#000083 0.5px,#000084 22.5px,#000090 23.5px,#0000b9 24.5px,#0002f1 25.5px,#0013ff 26.5px,#002aff 28.5px,#0048ff 31.5px,#0058ff 32.5px,#006fff 33.5px,#0092ff 34.5px,#00c4ff 35.5px,#07f5f8 36.5px,#2effd1 37.5px,#4dffb2 38.5px,#52ffad 39.5px,#3effc1 40.5px,#16ffe9 41.5px,#00e1ff 42.5px,#0074ff 43.5px,#0027ff 44.5px,#0034ff 45.5px,#0081ff 49.5px,#009aff 50.5px,#0bf 51.5px,#00e3ff 52.5px,#0dfef2 53.5px,#27ffd8 54.5px,#2dffd2 55.5px,#2fd 56.5px,#0afff5 57.5px,#00e9ff 58.5px,#00a8ff 59.5px,#008bff 60.5px,#00afff 64.5px,#00c5ff 69.5px,#00e1ff 85.5px,#00d7ff 86.5px,#00bfff 87.5px,#00b7ff 88.5px,#00c9ff 94.5px,#00d3ff 109.5px,#00dbff 113.5px,#00d4ff 114.5px,#00b4ff 115.5px,#0af 116.5px,#00b4ff 124.5px,#00b6ff 134.5px,#00c2ff 138.5px,#00c2ff 139.5px,#00b0ff 140.5px,#0094ff 141.5px,#0089ff 142.5px,#008cff 151.5px,#08f 163.5px,#008dff 168.5px,#0083ff 169.5px,#0068ff 170.5px,#0054ff 171.5px,#004cff 172.5px,#0042ff 180.5px,#0035ff 188.5px,#0032ff 196.5px,#0038ff 199.5px,#0036ff 200.5px,#000eff 202.5px,#000dff 204.5px,#000eff 213.5px)"></i>
<i style="background:linear-gradient(90deg,#000083 0.5px,#000084 21.5px,#00008e 22.5px,#0000b6 23.5px,#0002ee 24.5px,#0012ff 25.5px,#0029ff 27.5px,#0048ff 30.5px,#0058ff 31.5px,#0071ff 32.5px,#0097ff 33.5px,#00cbff 34.5px,#0df8f2 35.5px,#3effc1 36.5px,#5fffa0 37.5px,#61ff9e 38.5px,#48ffb7 39.5px,#20ffdf 40.5px,#03f1fc 41.5px,#00acff 42.5px,#0034ff 43.5px,#0026ff 44.5px,#0076ff 48.5px,#008eff 49.5px,#00aeff 50.5px,#00d8ff 51.5px,#09fcf6 52.5px,#27ffd8 53.5px,#36ffc9 54.5px,#2cffd3 55.5px,#13ffec 56.5px,#01f2fe 57.5px,#0084ff 59.5px,#0087ff 60.5px,#00a8ff 63.5px,#00beff 67.5px,#00d9ff 79.5px,#00deff 84.5px,#00d6ff 85.5px,#00c2ff 86.5px,#00b5ff 87.5px,#00c8ff 94.5px,#00d3ff 109.5px,#00d9ff 112.5px,#00cfff 113.5px,#00b1ff 114.5px,#00a7ff 115.5px,#00b2ff 122.5px,#00b5ff 133.5px,#00c0ff 137.5px,#00bfff 138.5px,#00aeff 139.5px,#0092ff 140.5px,#0087ff 141.5px,#008bff 149.5px,#0085ff 161.5px,#008cff 166.5px,#008aff 167.5px,#007eff 168.5px,#004dff 170.5px,#0049ff 172.5px,#003eff 180.5px,#0031ff 187.5px,#002fff 195.5px,#0034ff 199.5px,#0025ff 200.5px,#000fff 201.5px,#0008ff 202.5px,#000bff 211.5px,#0009ff 213.5px)"></i>
<i style="background:linear-gradient(90deg,#000083 0.5px,#000084 20.5px,#00008e 21.5px,#0000b6 22.5px,#0003f0 23.5px,#0018ff 24.5px,#0026ff 25.5px,#0042ff 28.5px,#005fff 30.5px,#0076ff 31.5px,#009aff 32.5px,#00d2ff 33.5px,#17fbe8 34.5px,#4bffb4 35.5px,#6dff92 36.5px,#71ff8e 37.5px,#54ffab 38.5px,#27ffd8 39.5px,#03f2fc 40.5px,#00c4ff 41.5px,#0059ff 42.5px,#0019ff 43.5px,#0028ff 44.5px,#0080ff 48.5px,#009fff 49.5px,#04f6fb 51.5px,#26ffd9 52.5px,#3bffc4 53.5px,#38ffc7 54.5px,#1effe1 55.5px,#03f8fc 56.5px,#00cbff 57.5px,#0080ff 58.5px,#07f 59.5px,#009cff 62.5px,#00b2ff 65.5px,#00c6ff 71.5px,#00d9ff 80.5px,#00d9ff 83.5px,#00d1ff 84.5px,#00bcff 85.5px,#00b0ff 86.5px,#00c4ff 93.5px,#00d0ff 108.5px,#00d4ff 111.5px,#00c9ff 112.5px,#00acff 113.5px,#00a4ff 114.5px,#00afff 121.5px,#00b2ff 132.5px,#00bcff 136.5px,#00b5ff 137.5px,#00a4ff 138.5px,#008dff 139.5px,#0083ff 140.5px,#08f 148.5px,#0083ff 161.5px,#008aff 165.5px,#0087ff 166.5px,#0072ff 167.5px,#0056ff 168.5px,#0048ff 169.5px,#0045ff 171.5px,#003bff 179.5px,#002dff 187.5px,#002dff 195.5px,#0030ff 198.5px,#0020ff 199.5px,#000bff 200.5px,#0003ff 201.5px,#0006ff 210.5px,#0005ff 213.5px)"></i>
<i style="background:linear-gradient(90deg,#000083 0.5px,#000084 19.5px,#00008e 20.5px,#0000b6 21.5px,#0005f2 22.5px,#02f 23.5px,#0030ff 24.5px,#004cff 27.5px,#005cff 28.5px,#0072ff 29.5px,#008fff 30.5px,#00b4ff 31.5px,#01dffe 32.5px,#20fddf 33.5px,#5dffa2 34.5px,#7fff80 35.5px,#7eff81 36.5px,#5cffa3 37.5px,#29ffd6 38.5px,#04f0fb 39.5px,#00c5ff 40.5px,#0076ff 41.5px,#0015ff 42.5px,#0012ff 43.5px,#0073ff 47.5px,#0094ff 48.5px,#00beff 49.5px,#02edfd 50.5px,#21ffde 51.5px,#40ffbf 52.5px,#41ffbe 53.5px,#2affd5 54.5px,#08fcf7 55.5px,#00d8ff 56.5px,#08f 57.5px,#0068ff 58.5px,#09f 62.5px,#00afff 65.5px,#00c4ff 71.5px,#00d6ff 79.5px,#00cfff 83.5px,#00a9ff 85.5px,#00c0ff 92.5px,#0cf 107.5px,#00ceff 110.5px,#00beff 111.5px,#00a6ff 112.5px,#00a0ff 113.5px,#00abff 120.5px,#00afff 131.5px,#00b9ff 135.5px,#00b1ff 136.5px,#0082ff 138.5px,#0081ff 140.5px,#0085ff 147.5px,#0080ff 160.5px,#08f 164.5px,#007dff 165.5px,#004dff 167.5px,#0041ff 168.5px,#003bff 176.5px,#0028ff 187.5px,#0029ff 194.5px,#002eff 196.5px,#002cff 197.5px,#001cff 198.5px,#0006ff 199.5px,#00f 200.5px,#00f 213.5px)"></i>
<i style="background:linear-gradient(90deg,#000083 0.5px,#000084 18.5px,#00008f 19.5px,#0000b8 20.5px,#0006f5 21.5px,#0029ff 22.5px,#003cff 23.5px,#004eff 25.5px,#005dff 26.5px,#0072ff 27.5px,#0090ff 28.5px,#03e2fc 30.5px,#1afbe5 31.5px,#6dff92 33.5px,#8fff70 34.5px,#8dff72 35.5px,#6f9 36.5px,#2dffd2 37.5px,#04effb 38.5px,#00c4ff 39.5px,#0090ff 40.5px,#0025ff 41.5px,#0000fe 42.5px,#0015ff 43.5px,#06f 46.5px,#008aff 47.5px,#02ebfd 49.5px,#20ffdf 50.5px,#41ffbe 51.5px,#4cffb3 52.5px,#36ffc9 53.5px,#10feef 54.5px,#00e4ff 55.5px,#009cff 56.5px,#005dff 57.5px,#0062ff 58.5px,#008cff 61.5px,#00a6ff 64.5px,#0bf 69.5px,#00d4ff 77.5px,#00c9ff 82.5px,#00a8ff 84.5px,#00a5ff 85.5px,#00b9ff 90.5px,#00c2ff 99.5px,#0cf 108.5px,#00c9ff 109.5px,#009cff 111.5px,#009eff 113.5px,#00a8ff 119.5px,#00acff 130.5px,#00b6ff 134.5px,#00aeff 135.5px,#007dff 137.5px,#007dff 139.5px,#0082ff 146.5px,#007eff 159.5px,#0084ff 162.5px,#0083ff 163.5px,#0075ff 164.5px,#0058ff 165.5px,#0041ff 166.5px,#003cff 167.5px,#0038ff 174.5px,#0024ff 187.5px,#0025ff 193.5px,#002aff 195.5px,#0028ff 196.5px,#0003fe 198.5px,#0000fc 200.5px,#00f 210.5px,#0000fd 213.5px)"></i>
<i style="background:linear-gradient(90deg,#000083 0.5px,#000085 17.5px,#000091 18.5px,#0000bd 19.5px,#0008f6 20.5px,#002fff 21.5px,#0045ff 22.5px,#0063ff 24.5px,#07f 25.5px,#0095ff 26.5px,#00beff 27.5px,#06e8f9 28.5px,#25fdda 29.5px,#5fa 30.5px,#7dff82 31.5px,#97ff68 32.5px,#a2ff5d 33.5px,#98ff67 34.5px,#6bff94 35.5px,#2effd1 36.5px,#04ecfb 37.5px,#00c1ff 38.5px,#009bff 39.5px,#004fff 40.5px,#0003f9 41.5px,#0003fd 42.5px,#0038ff 44.5px,#0057ff 45.5px,#007fff 46.5px,#00b2ff 47.5px,#03eafc 48.5px,#26ffd9 49.5px,#4affb5 50.5px,#53ffac 51.5px,#41ffbe 52.5px,#1cffe3 53.5px,#01edfe 54.5px,#00b1ff 55.5px,#005cff 56.5px,#0051ff 57.5px,#007fff 60.5px,#009dff 63.5px,#00b2ff 67.5px,#00d1ff 76.5px,#00c9ff 80.5px,#00c3ff 81.5px,#00a1ff 83.5px,#009fff 84.5px,#00b5ff 89.5px,#00beff 97.5px,#00c7ff 107.5px,#00c3ff 108.5px,#0af 109.5px,#0097ff 110.5px,#009bff 112.5px,#00a5ff 118.5px,#00a9ff 129.5px,#00b3ff 133.5px,#0af 134.5px,#007aff 136.5px,#007aff 138.5px,#0080ff 144.5px,#007cff 158.5px,#0082ff 161.5px,#007fff 162.5px,#0068ff 163.5px,#004aff 164.5px,#003bff 165.5px,#0039ff 167.5px,#0032ff 174.5px,#0020ff 187.5px,#0023ff 193.5px,#0024ff 195.5px,#0002fb 197.5px,#0000f5 198.5px,#0000fc 205.5px,#0000f9 213.5px)"></i>
<i style="background:linear-gradient(90deg,#000083 0.5px,#000086 16.5px,#000095 17.5px,#0000c4 18.5px,#000cf8 19.5px,#0035ff 20.5px,#0086ff 23.5px,#00a4ff 24.5px,#00c9ff 25.5px,#0feef0 26.5px,#35ffca 27.5px,#67ff98 28.5px,#90ff6f 29.5px,#a7ff58 30.5px,#adff52 31.5px,#a3ff5c 32.5px,#8cff73 33.5px,#6bff94 34.5px,#30ffcf 35.5px,#03ebfc 36.5px,#00bdff 37.5px,#009bff 38.5px,#0068ff 39.5px,#0011fb 40.5px,#0000ef 41.5px,#0007ff 42.5px,#0047ff 44.5px,#0072ff 45.5px,#00abff 46.5px,#04e9fb 47.5px,#2affd5 48.5px,#53ffac 49.5px,#5bffa4 50.5px,#46ffb9 51.5px,#20ffdf 52.5px,#03f2fc 53.5px,#00bdff 54.5px,#0063ff 55.5px,#0043ff 56.5px,#007fff 60.5px,#009bff 63.5px,#00b3ff 68.5px,#00cfff 75.5px,#00c4ff 79.5px,#00beff 80.5px,#009aff 82.5px,#0098ff 83.5px,#00b0ff 88.5px,#00baff 95.5px,#00c2ff 106.5px,#00b8ff 107.5px,#009cff 108.5px,#0093ff 109.5px,#00a1ff 116.5px,#00a6ff 128.5px,#00adff 132.5px,#00a3ff 133.5px,#0076ff 135.5px,#07f 137.5px,#007dff 143.5px,#007bff 157.5px,#007fff 160.5px,#0074ff 161.5px,#0041ff 163.5px,#0034ff 164.5px,#0034ff 170.5px,#001cff 186.5px,#0020ff 192.5px,#0021ff 194.5px,#000fff 195.5px,#0000f7 196.5px,#0000ef 197.5px,#0000f8 204.5px,#0000f4 213.5px)"></i>
<i style="background:linear-gradient(90deg,#000083 0.5px,#000084 14.5px,#000089 15.5px,#00009e 16.5px,#0000cf 17.5px,#0013fb 18.5px,#0041ff 19.5px,#0091ff 21.5px,#00c1ff 22.5px,#0be7f4 23.5px,#25fbda 24.5px,#4affb5 25.5px,#7cff83 26.5px,#a3ff5c 27.5px,#b6ff49 28.5px,#b6ff49 29.5px,#a3ff5c 30.5px,#85ff7a 31.5px,#17fce8 34.5px,#02e6fd 35.5px,#00b9ff 36.5px,#007aff 38.5px,#0024fd 39.5px,#0000e2 40.5px,#0000f3 41.5px,#01f 42.5px,#0036ff 43.5px,#0064ff 44.5px,#00a2ff 45.5px,#04e7fb 46.5px,#31ffce 47.5px,#5bffa4 48.5px,#61ff9e 49.5px,#47ffb8 50.5px,#1dffe2 51.5px,#02eefd 52.5px,#00c4ff 53.5px,#0071ff 54.5px,#0034ff 55.5px,#003fff 56.5px,#0064ff 58.5px,#0089ff 61.5px,#00a4ff 65.5px,#00c4ff 72.5px,#00cdff 74.5px,#00c4ff 77.5px,#00b9ff 79.5px,#0093ff 81.5px,#0091ff 82.5px,#00a7ff 86.5px,#00b5ff 93.5px,#00bdff 105.5px,#0af 106.5px,#0092ff 107.5px,#008cff 108.5px,#009dff 114.5px,#00a3ff 127.5px,#0af 130.5px,#00a7ff 131.5px,#0098ff 132.5px,#007eff 133.5px,#0072ff 134.5px,#007aff 142.5px,#007aff 155.5px,#007fff 158.5px,#007bff 159.5px,#0065ff 160.5px,#0049ff 161.5px,#0035ff 162.5px,#0030ff 163.5px,#0030ff 169.5px,#001aff 184.5px,#001bff 190.5px,#001fff 192.5px,#001dff 193.5px,#000bfe 194.5px,#0000f3 195.5px,#0000ea 196.5px,#0000f3 203.5px,#0000ef 213.5px)"></i>
<i style="background:linear-gradient(90deg,#000083 0.5px,#000084 12.5px,#008 13.5px,#000093 14.5px,#0000af 15.5px,#0002e0 16.5px,#0024fe 17.5px,#00a1ff 19.5px,#08d9f7 20.5px,#2cf8d3 21.5px,#60ff9f 22.5px,#8fff70 23.5px,#adff52 24.5px,#bf4 25.5px,#c3ff3c 26.5px,#b9ff46 27.5px,#9dff62 28.5px,#76ff89 29.5px,#22fddd 31.5px,#0aeff5 32.5px,#00d8ff 33.5px,#0091ff 36.5px,#007dff 37.5px,#0047ff 38.5px,#0002e8 39.5px,#00d 40.5px,#0004fb 41.5px,#0028ff 42.5px,#005bff 43.5px,#09f 44.5px,#05e4fa 45.5px,#35ffca 46.5px,#64ff9b 47.5px,#69ff96 48.5px,#49ffb6 49.5px,#19fee6 50.5px,#00e7ff 51.5px,#00bfff 52.5px,#007eff 53.5px,#0031ff 54.5px,#002dff 55.5px,#05f 57.5px,#0072ff 59.5px,#008eff 62.5px,#00c9ff 73.5px,#00c4ff 75.5px,#00b2ff 78.5px,#0089ff 80.5px,#0087ff 81.5px,#009fff 85.5px,#00adff 91.5px,#00b7ff 103.5px,#00b3ff 104.5px,#0098ff 105.5px,#0084ff 106.5px,#008dff 109.5px,#0098ff 114.5px,#009cff 126.5px,#00a2ff 129.5px,#009fff 130.5px,#0090ff 131.5px,#0072ff 132.5px,#0068ff 133.5px,#0074ff 139.5px,#0075ff 152.5px,#007dff 157.5px,#0074ff 158.5px,#005cff 159.5px,#003aff 160.5px,#002dff 161.5px,#002fff 167.5px,#0018ff 182.5px,#0019ff 189.5px,#001dff 191.5px,#001bff 192.5px,#0009fe 193.5px,#00e 194.5px,#0000e5 195.5px,#0000ef 202.5px,#0000ea 213.5px)"></i>
<i style="background:linear-gradient(90deg,#000083 0.5px,#000086 10.5px,#00008a 11.5px,#000095 12.5px,#0000af 13.5px,#0008db 14.5px,#003ef9 15.5px,#0299fd 16.5px,#26d2d9 17.5px,#4ef9b1 18.5px,#7aff85 19.5px,#b2ff4d 20.5px,#d7ff28 21.5px,#e7ff18 22.5px,#e3ff1c 23.5px,#cfff30 24.5px,#b3ff4c 25.5px,#8cff73 26.5px,#2afed5 28.5px,#0decf2 29.5px,#00d3ff 30.5px,#00b4ff 31.5px,#009dff 32.5px,#0081ff 34.5px,#0071ff 36.5px,#0050ff 37.5px,#0009f0 38.5px,#0000cf 39.5px,#0000ec 40.5px,#001dff 41.5px,#005cff 42.5px,#00a7ff 43.5px,#08ecf7 44.5px,#3cffc3 45.5px,#6dff92 46.5px,#6dff92 47.5px,#46ffb9 48.5px,#13fbec 49.5px,#00daff 50.5px,#00b3ff 51.5px,#0084ff 52.5px,#0037ff 53.5px,#001fff 54.5px,#0057ff 57.5px,#007aff 60.5px,#009aff 65.5px,#00c0ff 71.5px,#00c0ff 73.5px,#00b1ff 76.5px,#00a8ff 77.5px,#007cff 79.5px,#007aff 80.5px,#0093ff 84.5px,#00a2ff 90.5px,#00a9ff 99.5px,#00afff 102.5px,#009fff 103.5px,#0080ff 104.5px,#07f 105.5px,#008cff 111.5px,#0094ff 126.5px,#0097ff 128.5px,#0094ff 129.5px,#0081ff 130.5px,#0065ff 131.5px,#005dff 132.5px,#006bff 137.5px,#006fff 151.5px,#0079ff 155.5px,#0076ff 156.5px,#06f 157.5px,#0047ff 158.5px,#0030ff 159.5px,#0028ff 160.5px,#002cff 166.5px,#0016ff 181.5px,#0017ff 188.5px,#001aff 190.5px,#0014ff 191.5px,#0006fc 192.5px,#0000eb 193.5px,#0000e1 194.5px,#0000ec 201.5px,#0000e6 213.5px)"></i>
<i style="background:linear-gradient(90deg,#000083 0.5px,#000087 6.5px,#000090 8.5px,#0000a0 9.5px,#0000b9 10.5px,#001ad3 11.5px,#1174de 12.5px,#60aa9f 13.5px,#86e579 14.5px,#b5db4a 15.5px,#e1d61e 16.5px,#fdd402 17.5px,#ffd800 18.5px,#ffe600 19.5px,#f5f80a 20.5px,#d6fe29 21.5px,#abff54 22.5px,#4dffb2 24.5px,#26f9d9 25.5px,#10e7ef 26.5px,#00cbff 27.5px,#00a6ff 28.5px,#008bff 29.5px,#0079ff 30.5px,#0064ff 32.5px,#005bff 35.5px,#004cff 36.5px,#0013f8 37.5px,#0000c9 38.5px,#0000dc 39.5px,#001bfd 40.5px,#0069ff 41.5px,#00c6ff 42.5px,#23f9dc 43.5px,#5dffa2 44.5px,#7aff85 45.5px,#73ff8c 46.5px,#4fb 47.5px,#0cf8f3 48.5px,#0cf 49.5px,#00a4ff 50.5px,#0076ff 51.5px,#0031ff 52.5px,#0013ff 53.5px,#02f 54.5px,#0049ff 56.5px,#006fff 59.5px,#00b7ff 69.5px,#00b9ff 71.5px,#00a5ff 75.5px,#09f 76.5px,#0070ff 78.5px,#006dff 79.5px,#0087ff 83.5px,#0097ff 89.5px,#00a1ff 97.5px,#00a8ff 100.5px,#00a2ff 101.5px,#0084ff 102.5px,#006bff 103.5px,#006aff 104.5px,#007fff 109.5px,#0086ff 116.5px,#008bff 125.5px,#008fff 127.5px,#008dff 128.5px,#0053ff 130.5px,#0056ff 132.5px,#0063ff 137.5px,#0069ff 150.5px,#0073ff 154.5px,#006bff 155.5px,#0052ff 156.5px,#03f 157.5px,#0024ff 158.5px,#0025ff 160.5px,#0029ff 165.5px,#0013ff 181.5px,#0015ff 187.5px,#0019ff 189.5px,#000eff 190.5px,#0001f3 191.5px,#0000e3 192.5px,#00d 193.5px,#0000e8 199.5px,#0000e2 213.5px)"></i>
<i style="background:linear-gradient(90deg,#000093 0.5px,#0009c4 1.5px,#0043d7 2.5px,#1878cb 3.5px,#55809d 4.5px,#767786 5.5px,#805b80 6.5px,#805e80 7.5px,#807b80 8.5px,#a88457 9.5px,#d98020 10.5px,#f96b01 11.5px,#ff3e00 12.5px,#ff3d00 13.5px,#ff5000 14.5px,#ffa300 16.5px,#f2d80d 17.5px,#c6f339 18.5px,#81ff7e 19.5px,#40fabf 20.5px,#20e3df 21.5px,#07d1f8 22.5px,#00b6ff 23.5px,#009bff 24.5px,#0073ff 26.5px,#0053ff 28.5px,#0047ff 30.5px,#0045ff 34.5px,#003aff 35.5px,#000df6 36.5px,#0000c8 37.5px,#0000d5 38.5px,#0022fc 39.5px,#0084ff 40.5px,#0ce5f3 41.5px,#4bffb4 42.5px,#7eff81 43.5px,#83ff7c 44.5px,#67ff98 45.5px,#38ffc7 46.5px,#07eef8 47.5px,#0bf 48.5px,#06f 50.5px,#02f 51.5px,#0004ff 52.5px,#0014ff 53.5px,#003eff 55.5px,#0065ff 58.5px,#009dff 65.5px,#00aeff 67.5px,#00b1ff 69.5px,#0096ff 74.5px,#0085ff 75.5px,#006dff 76.5px,#0060ff 77.5px,#0061ff 78.5px,#007cff 82.5px,#008cff 88.5px,#0094ff 94.5px,#00a1ff 98.5px,#009fff 99.5px,#008dff 100.5px,#006bff 101.5px,#005cff 102.5px,#0075ff 108.5px,#007dff 115.5px,#0081ff 122.5px,#008aff 126.5px,#0082ff 127.5px,#005bff 128.5px,#0047ff 129.5px,#004dff 131.5px,#005aff 136.5px,#0060ff 148.5px,#006cff 152.5px,#006bff 153.5px,#005bff 154.5px,#003bff 155.5px,#0023ff 156.5px,#001cff 157.5px,#0026ff 162.5px,#001eff 170.5px,#0010ff 181.5px,#0016ff 187.5px,#0018ff 188.5px,#000cff 189.5px,#0000f0 190.5px,#0000db 191.5px,#0000dc 193.5px,#0000e5 199.5px,#0000de 213.5px)"></i>
<i style="background:linear-gradient(90deg,#0000cd 0.5px,#0028ff 1.5px,#00cbff 2.5px,#95ff6a 3.5px,#ffcf00 4.5px,#ff6d00 5.5px,#f80d00 6.5px,#db0000 7.5px,#e40000 8.5px,#ed0900 9.5px,#ef1300 10.5px,#f62a00 11.5px,#ff6c00 12.5px,#d8a727 13.5px,#9ccf63 14.5px,#74ea8b 15.5px,#15b3ea 17.5px,#008fff 18.5px,#006eff 19.5px,#0058ff 20.5px,#003cff 22.5px,#002eff 25.5px,#0029ff 29.5px,#002eff 32.5px,#002cff 33.5px,#001dff 34.5px,#0006f3 35.5px,#0000cf 36.5px,#0003df 37.5px,#0039fe 38.5px,#01b3fe 39.5px,#33f8cc 40.5px,#7bff84 41.5px,#92ff6d 42.5px,#7f8 43.5px,#42ffbd 44.5px,#11f4ee 45.5px,#00d2ff 46.5px,#004fff 49.5px,#0016fe 50.5px,#0000fc 51.5px,#000aff 52.5px,#0037ff 54.5px,#0053ff 56.5px,#00a3ff 65.5px,#0af 67.5px,#009aff 70.5px,#008eff 72.5px,#0083ff 73.5px,#0056ff 75.5px,#0051ff 76.5px,#0072ff 81.5px,#0081ff 87.5px,#0089ff 92.5px,#09f 96.5px,#0098ff 97.5px,#008dff 98.5px,#0053ff 100.5px,#0050ff 101.5px,#0069ff 106.5px,#0073ff 113.5px,#07f 119.5px,#0085ff 124.5px,#0085ff 125.5px,#0070ff 126.5px,#0045ff 127.5px,#003aff 128.5px,#004dff 133.5px,#0059ff 147.5px,#0065ff 151.5px,#005eff 152.5px,#0045ff 153.5px,#0025ff 154.5px,#0016ff 155.5px,#0019ff 157.5px,#02f 162.5px,#000eff 181.5px,#0016ff 187.5px,#000cff 188.5px,#00e 189.5px,#0000d8 190.5px,#0000d6 191.5px,#0000e1 197.5px,#0000da 213.5px)"></i>
<i style="background:linear-gradient(90deg,#0000c4 0.5px,#0008db 1.5px,#0039e5 2.5px,#0a6fe0 3.5px,#2d80c2 4.5px,#4080ae 5.5px,#5c8092 6.5px,#50809b 7.5px,#3880af 8.5px,#1480d0 9.5px,#027ce0 10.5px,#005fe1 11.5px,#0036e0 12.5px,#001ae0 13.5px,#000ce1 14.5px,#0000e3 16.5px,#0000e3 18.5px,#0004fa 24.5px,#000bff 27.5px,#0014ff 30.5px,#0013ff 31.5px,#000cfe 32.5px,#0003f6 33.5px,#0000f2 34.5px,#001cf3 35.5px,#0054ff 36.5px,#01aafe 37.5px,#1fe4e0 38.5px,#69ff96 39.5px,#9aff65 40.5px,#8f7 41.5px,#4effb1 42.5px,#15f0ea 43.5px,#00c6ff 44.5px,#0095ff 45.5px,#004cff 47.5px,#001cfd 48.5px,#0003f7 49.5px,#0000f9 50.5px,#0008ff 51.5px,#0034ff 53.5px,#0050ff 55.5px,#009aff 63.5px,#00a2ff 65.5px,#009aff 67.5px,#007dff 71.5px,#0050ff 73.5px,#0046ff 74.5px,#0047ff 75.5px,#0065ff 79.5px,#0074ff 84.5px,#007fff 90.5px,#0092ff 94.5px,#0091ff 95.5px,#008bff 96.5px,#0071ff 97.5px,#004bff 98.5px,#0042ff 99.5px,#0060ff 105.5px,#006aff 113.5px,#006fff 117.5px,#0081ff 122.5px,#0080ff 123.5px,#0078ff 124.5px,#0037ff 126.5px,#0030ff 127.5px,#0045ff 132.5px,#0053ff 146.5px,#005dff 149.5px,#005bff 150.5px,#004cff 151.5px,#002cff 152.5px,#0014ff 153.5px,#000dff 154.5px,#001cff 159.5px,#001aff 167.5px,#000cff 180.5px,#0014ff 186.5px,#000aff 187.5px,#0000ec 188.5px,#0000d6 189.5px,#0000d3 190.5px,#0000de 196.5px,#0000d7 213.5px)"></i>
<i style="background:linear-gradient(90deg,#00a 0.5px,#0000ac 17.5px,#0000b9 21.5px,#0000e3 26.5px,#0000f3 29.5px,#0005fe 30.5px,#0021fb 31.5px,#0046ff 32.5px,#007aff 33.5px,#13baec 34.5px,#38edc7 35.5px,#64ff9b 36.5px,#8fff70 37.5px,#a2ff5d 38.5px,#9bff64 39.5px,#5affa5 40.5px,#18ebe7 41.5px,#00b4ff 42.5px,#0073ff 43.5px,#0045ff 44.5px,#001ef7 45.5px,#00e 47.5px,#0000ea 48.5px,#0000f7 49.5px,#000bff 50.5px,#003fff 53.5px,#0095ff 61.5px,#009bff 63.5px,#0093ff 65.5px,#007aff 68.5px,#0061ff 70.5px,#003cff 72.5px,#0039ff 73.5px,#0059ff 77.5px,#006aff 82.5px,#007aff 89.5px,#008aff 92.5px,#008bff 93.5px,#0087ff 94.5px,#0072ff 95.5px,#004bff 96.5px,#0038ff 97.5px,#0038ff 98.5px,#0051ff 102.5px,#0060ff 108.5px,#0069ff 115.5px,#007cff 120.5px,#0076ff 122.5px,#0064ff 123.5px,#003cff 124.5px,#0028ff 125.5px,#002fff 127.5px,#003fff 131.5px,#004cff 144.5px,#0058ff 148.5px,#004bff 149.5px,#0016ff 151.5px,#000aff 152.5px,#000fff 154.5px,#001aff 158.5px,#0017ff 166.5px,#000aff 179.5px,#0012ff 184.5px,#000fff 185.5px,#0003fa 186.5px,#0000d4 188.5px,#0000d1 189.5px,#0000db 194.5px,#0000d4 213.5px)"></i>
<i style="background:linear-gradient(90deg,#0000a2 0.5px,#0000a2 1.5px,#00a 2.5px,#000bcf 3.5px,#001bd1 4.5px,#0000bc 5.5px,#0000af 6.5px,#0000af 10.5px,#0000b8 11.5px,#000bd1 12.5px,#002dd1 13.5px,#0045d1 14.5px,#0040d1 18.5px,#0047d1 19.5px,#005dd2 20.5px,#0069d4 21.5px,#006dd6 22.5px,#005fdb 24.5px,#0062e0 25.5px,#006fe4 26.5px,#0076e4 27.5px,#2081d7 28.5px,#3fb3c0 29.5px,#4bebb4 30.5px,#5effa1 31.5px,#7eff81 32.5px,#9eff61 34.5px,#a1ff5e 35.5px,#94ff6b 36.5px,#71ff8e 37.5px,#41fcbe 38.5px,#1de2e2 39.5px,#0081ff 40.5px,#003be9 41.5px,#001ceb 42.5px,#0000de 43.5px,#0000d9 44.5px,#0000dc 45.5px,#0000f5 47.5px,#0005fd 48.5px,#0069ff 56.5px,#0087ff 58.5px,#0091ff 59.5px,#0096ff 60.5px,#0091ff 62.5px,#0075ff 65.5px,#005bff 67.5px,#0036ff 69.5px,#002fff 70.5px,#0036ff 72.5px,#004eff 75.5px,#0060ff 80.5px,#0070ff 86.5px,#0084ff 91.5px,#0081ff 92.5px,#0073ff 93.5px,#0031ff 95.5px,#002dff 96.5px,#0048ff 100.5px,#0057ff 105.5px,#0063ff 113.5px,#07f 118.5px,#0073ff 120.5px,#0069ff 121.5px,#004eff 122.5px,#0028ff 123.5px,#0021ff 124.5px,#0039ff 129.5px,#0043ff 137.5px,#004bff 143.5px,#05f 146.5px,#0052ff 147.5px,#003bff 148.5px,#001cff 149.5px,#0006ff 150.5px,#0005ff 151.5px,#0015ff 155.5px,#0018ff 161.5px,#0007ff 178.5px,#0010ff 183.5px,#000dff 184.5px,#0002f6 185.5px,#0000d9 186.5px,#0000cf 187.5px,#0000d9 194.5px,#0000d1 212.5px,#0000d2 213.5px)"></i>
<i style="background:linear-gradient(90deg,#0000a2 0.5px,#0000a5 1.5px,#0000cb 2.5px,#009bff 3.5px,#2fefd0 4.5px,#e95d00 5.5px,#cf0600 6.5px,#cf0600 10.5px,#d30400 11.5px,#ec0400 13.5px,#f70a00 14.5px,#ff1500 16.5px,#ff2900 18.5px,#ff3900 19.5px,#ff5e00 20.5px,#f70 21.5px,#ff9e00 22.5px,#ffb900 23.5px,#ffe100 24.5px,#fef601 25.5px,#eaff15 26.5px,#c0ff3f 28.5px,#b4ff4b 29.5px,#9fff60 30.5px,#90ff6f 31.5px,#51b5ae 32.5px,#4d808f 33.5px,#3f809f 34.5px,#2680bb 35.5px,#0671dd 36.5px,#0009d3 37.5px,#0000c9 38.5px,#0000d1 39.5px,#0000d6 41.5px,#0001fa 45.5px,#000dff 47.5px,#002eff 51.5px,#0049ff 53.5px,#0081ff 56.5px,#008dff 57.5px,#0092ff 58.5px,#0090ff 59.5px,#006fff 62.5px,#0052ff 64.5px,#002bff 66.5px,#001fff 67.5px,#0020ff 69.5px,#0043ff 73.5px,#0053ff 77.5px,#06f 83.5px,#007dff 88.5px,#007bff 90.5px,#006fff 91.5px,#002bff 93.5px,#0024ff 94.5px,#0043ff 99.5px,#0053ff 105.5px,#005dff 111.5px,#0070ff 115.5px,#0071ff 117.5px,#0067ff 119.5px,#0056ff 120.5px,#0034ff 121.5px,#001eff 122.5px,#001dff 123.5px,#03f 127.5px,#003fff 134.5px,#0047ff 141.5px,#0052ff 144.5px,#0051ff 145.5px,#0042ff 146.5px,#000dff 148.5px,#0002ff 149.5px,#0015ff 154.5px,#0016ff 161.5px,#0005ff 177.5px,#000dff 182.5px,#0007ff 183.5px,#0001f3 184.5px,#0000d7 185.5px,#00c 186.5px,#0000d7 192.5px,#0000ce 211.5px,#0000d0 213.5px)"></i>
<i style="background:linear-gradient(90deg,#0000a2 0.5px,#0000a2 1.5px,#0000b1 2.5px,#002fd9 3.5px,#005bd9 4.5px,#0667cb 5.5px,#0056d0 6.5px,#0056d0 10.5px,#006ed0 11.5px,#3080a1 12.5px,#538080 13.5px,#668071 14.5px,#5d8077 17.5px,#598078 18.5px,#63806d 21.5px,#51807f 23.5px,#42808e 24.5px,#2880a8 25.5px,#0010b9 26.5px,#0000a2 27.5px,#0000a8 33.5px,#0000bc 36.5px,#0000eb 41.5px,#0000fe 44.5px,#0010ff 48.5px,#0018ff 49.5px,#0027ff 50.5px,#0054ff 52.5px,#007bff 54.5px,#008aff 55.5px,#008eff 56.5px,#0087ff 57.5px,#0067ff 59.5px,#0042ff 61.5px,#001aff 63.5px,#000aff 64.5px,#0008ff 65.5px,#0014ff 67.5px,#0037ff 71.5px,#0047ff 74.5px,#005bff 80.5px,#07f 85.5px,#0078ff 87.5px,#0073ff 88.5px,#0068ff 89.5px,#0021ff 91.5px,#0018ff 92.5px,#003aff 97.5px,#004bff 103.5px,#0058ff 109.5px,#006dff 114.5px,#0063ff 117.5px,#0058ff 118.5px,#003eff 119.5px,#001eff 120.5px,#0015ff 121.5px,#0030ff 126.5px,#003dff 133.5px,#0047ff 140.5px,#004fff 143.5px,#0049ff 144.5px,#0030ff 145.5px,#000fff 146.5px,#0003ff 147.5px,#0001ff 148.5px,#0015ff 153.5px,#0014ff 160.5px,#0003ff 175.5px,#0009ff 181.5px,#0003fc 182.5px,#0000d1 184.5px,#0000cb 185.5px,#0000d5 191.5px,#0000cb 210.5px,#0000cf 213.5px)"></i>
<i style="background:linear-gradient(90deg,#0000a2 0.5px,#0000a3 33.5px,#0000ae 36.5px,#0000ed 44.5px,#0001fd 46.5px,#01f 47.5px,#04f 49.5px,#0064ff 50.5px,#007cff 51.5px,#08f 52.5px,#008bff 53.5px,#0087ff 54.5px,#007aff 55.5px,#004aff 57.5px,#0026fb 58.5px,#0005f6 60.5px,#0000f5 61.5px,#0001ff 64.5px,#0029ff 69.5px,#0045ff 75.5px,#05f 78.5px,#0072ff 82.5px,#0073ff 84.5px,#0068ff 86.5px,#005aff 87.5px,#0015ff 89.5px,#000cff 90.5px,#0031ff 95.5px,#04f 101.5px,#0056ff 107.5px,#0068ff 112.5px,#005fff 115.5px,#0056ff 116.5px,#04f 117.5px,#0024ff 118.5px,#0010ff 119.5px,#0010ff 120.5px,#0029ff 124.5px,#0038ff 130.5px,#0043ff 138.5px,#004dff 141.5px,#0045ff 142.5px,#0031ff 143.5px,#0017ff 144.5px,#0005ff 145.5px,#00f 146.5px,#0014ff 152.5px,#0012ff 159.5px,#0001ff 174.5px,#0007ff 179.5px,#0005ff 180.5px,#0000f4 181.5px,#0000cb 183.5px,#0000c9 184.5px,#0000d3 189.5px,#0000c8 209.5px,#0000cb 212.5px,#0000c8 213.5px)"></i>
<i style="background:linear-gradient(90deg,#0000a2 0.5px,#0000a3 36.5px,#0000ad 39.5px,#0000c0 41.5px,#0001db 42.5px,#0046f6 44.5px,#005bff 45.5px,#0080ff 46.5px,#0097ff 47.5px,#00a3ff 48.5px,#009fff 50.5px,#0097ff 51.5px,#0084ff 52.5px,#0044f3 53.5px,#002fe4 54.5px,#0018e6 55.5px,#0000d6 56.5px,#0000e0 59.5px,#00f 63.5px,#0040ff 74.5px,#006bff 79.5px,#006fff 81.5px,#0065ff 83.5px,#005bff 84.5px,#0049ff 85.5px,#000aff 87.5px,#0001ff 88.5px,#0010ff 90.5px,#0028ff 93.5px,#003dff 99.5px,#0054ff 105.5px,#0063ff 109.5px,#005fff 112.5px,#0052ff 114.5px,#0046ff 115.5px,#0010ff 117.5px,#0008ff 118.5px,#0026ff 123.5px,#0036ff 130.5px,#0043ff 137.5px,#004aff 139.5px,#0048ff 140.5px,#003aff 141.5px,#0018ff 142.5px,#0003fd 143.5px,#00f 145.5px,#01f 150.5px,#0012ff 156.5px,#00f 172.5px,#0003ff 177.5px,#0004ff 179.5px,#0000ef 180.5px,#0000d1 181.5px,#0000c7 182.5px,#0000d1 188.5px,#0000c5 208.5px,#0000c8 211.5px,#0000c1 212.5px,#0000af 213.5px)"></i>
<i style="background:linear-gradient(90deg,#0000a2 0.5px,#0000a2 3.5px,#0000b5 4.5px,#003de4 5.5px,#066dde 6.5px,#46808e 7.5px,#46808a 9.5px,#46808a 11.5px,#73805f 13.5px,#807558 14.5px,#806b5f 15.5px,#806667 16.5px,#80667d 21.5px,#808080 27.5px,#75828a 29.5px,#5d80a2 32.5px,#4b81b2 36.5px,#4d90b2 37.5px,#4aaeb5 38.5px,#44c2bb 39.5px,#38dcc7 40.5px,#2ee8d1 41.5px,#1ffce0 42.5px,#15ffea 43.5px,#02fcfd 44.5px,#00e6ff 45.5px,#00c0ff 46.5px,#0062eb 47.5px,#005cd7 48.5px,#0054d9 49.5px,#000fcc 50.5px,#0000b5 51.5px,#0000bf 53.5px,#0000c2 54.5px,#0000f4 61.5px,#0000fe 63.5px,#0019ff 69.5px,#0034ff 72.5px,#0063ff 76.5px,#006aff 77.5px,#0067ff 79.5px,#0056ff 81.5px,#004aff 82.5px,#0036ff 83.5px,#0018fd 84.5px,#0003f9 85.5px,#0000f6 86.5px,#0004ff 88.5px,#02f 92.5px,#0047ff 101.5px,#005cff 105.5px,#005eff 108.5px,#004dff 112.5px,#0043ff 113.5px,#0012ff 115.5px,#0005ff 116.5px,#0004ff 117.5px,#001eff 121.5px,#002fff 127.5px,#003fff 135.5px,#0047ff 137.5px,#0045ff 138.5px,#0037ff 139.5px,#0009fe 141.5px,#0000fc 142.5px,#0004ff 145.5px,#0010ff 150.5px,#000dff 157.5px,#00f 168.5px,#0002ff 177.5px,#0001fa 178.5px,#0000cf 180.5px,#0000c5 181.5px,#0000d0 187.5px,#0000c2 207.5px,#0000c5 210.5px,#0000be 211.5px,#0000ab 212.5px,#00009d 213.5px)"></i>
<i style="background:linear-gradient(90deg,#0000a2 0.5px,#0000a5 3.5px,#0000ca 4.5px,#0096ff 5.5px,#2aecd5 6.5px,#e79100 7.5px,#cd4f00 8.5px,#cd4f00 11.5px,#e33b00 13.5px,#f63700 14.5px,#ff3b00 15.5px,#ff4a00 16.5px,#ff7b00 23.5px,#ff9100 25.5px,#fa0 27.5px,#ffcb00 29.5px,#ffe100 30.5px,#83ad74 31.5px,#807651 32.5px,#7d8053 34.5px,#718060 36.5px,#66806a 37.5px,#55807b 38.5px,#4a8087 39.5px,#2b80a6 41.5px,#1680bb 42.5px,#0021c3 43.5px,#0000a4 44.5px,#0000a5 48.5px,#0000ba 52.5px,#0000de 57.5px,#0000fd 65.5px,#0006ff 67.5px,#001fff 69.5px,#0050ff 72.5px,#0063ff 74.5px,#06f 75.5px,#005bff 77.5px,#0042ff 79.5px,#0031ff 80.5px,#001afd 81.5px,#0000ef 83.5px,#0000ea 84.5px,#0001ff 87.5px,#001fff 92.5px,#003dff 98.5px,#0056ff 102.5px,#005aff 105.5px,#003bff 111.5px,#002bff 112.5px,#0003fe 114.5px,#0000fe 115.5px,#000aff 117.5px,#001fff 121.5px,#003aff 133.5px,#0043ff 136.5px,#003dff 137.5px,#0025ff 138.5px,#0007fd 139.5px,#0000f9 140.5px,#0004ff 144.5px,#000dff 150.5px,#0004ff 160.5px,#0000fc 171.5px,#0000fd 176.5px,#00e 177.5px,#0000d7 178.5px,#0000c6 179.5px,#0000c6 181.5px,#0000ce 186.5px,#0000c0 206.5px,#0000c3 209.5px,#0000bc 210.5px,#0000a9 211.5px,#00009b 212.5px,#009 213.5px)"></i>
<i style="background:linear-gradient(90deg,#0000a2 0.5px,#0000a2 3.5px,#0000a6 4.5px,#0000c5 5.5px,#0000c9 6.5px,#0000ad 7.5px,#0000a4 8.5px,#0000a4 49.5px,#0000b5 53.5px,#0000e0 60.5px,#0000f3 64.5px,#0001fb 65.5px,#000bff 66.5px,#0051ff 69.5px,#005fff 70.5px,#06f 71.5px,#06f 72.5px,#0057ff 74.5px,#0029ff 77.5px,#0015fe 78.5px,#0000e5 80.5px,#0000d9 81.5px,#0000dc 82.5px,#0000fd 86.5px,#0008ff 88.5px,#002aff 94.5px,#0051ff 99.5px,#0056ff 101.5px,#004cff 104.5px,#0030ff 109.5px,#0026ff 110.5px,#0002fb 112.5px,#0000f9 113.5px,#0002ff 115.5px,#0017ff 119.5px,#03f 131.5px,#003eff 134.5px,#0038ff 135.5px,#0026ff 136.5px,#000fff 137.5px,#0002fb 138.5px,#0000f6 139.5px,#00f 142.5px,#0009ff 148.5px,#0000fc 164.5px,#0000fa 171.5px,#00f 174.5px,#0000f9 175.5px,#0000e6 176.5px,#0000cb 177.5px,#0000c1 178.5px,#00c 184.5px,#0000bd 204.5px,#0000c0 208.5px,#0000b9 209.5px,#0000a7 210.5px,#009 211.5px,#009 213.5px)"></i>
<i style="background:linear-gradient(90deg,#0000a2 0.5px,#0000a4 52.5px,#0000b1 56.5px,#0000c7 59.5px,#0000e5 61.5px,#000ef2 62.5px,#0022fc 63.5px,#003cff 64.5px,#004eff 65.5px,#006cff 68.5px,#006cff 69.5px,#0064ff 70.5px,#0043ff 72.5px,#000ffc 75.5px,#0003ed 76.5px,#0000cb 78.5px,#0000c7 79.5px,#0000fe 86.5px,#0009ff 88.5px,#004bff 96.5px,#0052ff 98.5px,#004dff 100.5px,#0027ff 106.5px,#0019ff 108.5px,#0002f9 110.5px,#0000f3 111.5px,#0000f4 112.5px,#0001ff 114.5px,#0015ff 119.5px,#002cff 129.5px,#0038ff 132.5px,#0032ff 133.5px,#000bfe 135.5px,#0001f8 136.5px,#0000f4 137.5px,#00f 141.5px,#0005ff 148.5px,#0000fc 160.5px,#0000f6 169.5px,#0000fa 173.5px,#0000ef 174.5px,#0000d7 175.5px,#0000c5 176.5px,#0000bf 177.5px,#0000ca 183.5px,#0000ba 203.5px,#0000be 207.5px,#0000b7 208.5px,#0000a5 209.5px,#000097 210.5px,#009 213.5px)"></i>
<i style="background:linear-gradient(90deg,#0000a2 0.5px,#0000a2 5.5px,#0000a5 6.5px,#0000bf 7.5px,#001fd2 8.5px,#002ed2 9.5px,#000cc6 10.5px,#0000bf 11.5px,#00b 12.5px,#0000bf 13.5px,#00b 14.5px,#0000bf 15.5px,#00b 16.5px,#0000c6 18.5px,#0017d0 19.5px,#002ed0 20.5px,#0056d1 21.5px,#005ed1 22.5px,#006fd1 23.5px,#006ed1 24.5px,#007ed2 25.5px,#007cd2 26.5px,#0c80c7 27.5px,#0a80ca 28.5px,#1880bd 29.5px,#1180c3 30.5px,#1680bf 31.5px,#0c80c9 32.5px,#1180c4 33.5px,#0780ce 34.5px,#0b80ca 35.5px,#017fd4 36.5px,#0380d2 37.5px,#0077d4 38.5px,#007ad5 39.5px,#0070d4 40.5px,#0075d4 41.5px,#006cd4 42.5px,#0070d4 43.5px,#0068d4 44.5px,#006cd4 45.5px,#0065d4 46.5px,#006bd5 47.5px,#0066d5 48.5px,#006cd5 49.5px,#0066d5 50.5px,#006bd6 51.5px,#0065d7 52.5px,#006ad9 53.5px,#0063d9 54.5px,#0065dc 55.5px,#005dde 56.5px,#0066ea 57.5px,#006dfe 58.5px,#0086ff 59.5px,#0091ff 60.5px,#0098ff 63.5px,#0085ff 65.5px,#0067ff 67.5px,#0054ff 68.5px,#0020ff 70.5px,#000ffa 71.5px,#0005f1 72.5px,#0000e5 73.5px,#0000c0 75.5px,#0000b6 76.5px,#0000b9 77.5px,#0001fd 85.5px,#01f 87.5px,#003aff 91.5px,#004dff 95.5px,#0048ff 97.5px,#0021ff 102.5px,#0014ff 105.5px,#000cff 106.5px,#0000f1 108.5px,#0000e8 109.5px,#0000ea 110.5px,#00f 113.5px,#0014ff 120.5px,#0025ff 127.5px,#0030ff 130.5px,#002cff 131.5px,#0009fd 133.5px,#0000f6 134.5px,#0000f1 135.5px,#00f 140.5px,#0000fd 155.5px,#0000f2 166.5px,#0000f8 171.5px,#0000f3 172.5px,#0000e1 173.5px,#0000c9 174.5px,#0000be 175.5px,#0000c7 183.5px,#0000b8 202.5px,#00b 206.5px,#0000b5 207.5px,#000095 209.5px,#000098 213.5px)"></i>
<i style="background:linear-gradient(90deg,#0000a2 0.5px,#0000a2 5.5px,#0000b7 6.5px,#0024e7 7.5px,#00d2ff 8.5px,#47f1b8 9.5px,#e64c00 10.5px,#ba0000 11.5px,#cd0000 12.5px,#ba0000 13.5px,#cd0000 14.5px,#ba0000 15.5px,#cd0000 16.5px,#ba0000 17.5px,#d90000 18.5px,#e70000 19.5px,#fd1400 20.5px,#ff4600 22.5px,#ff4600 23.5px,#ff5100 24.5px,#ff5100 25.5px,#ff5c00 26.5px,#ff5d00 27.5px,#ff6700 28.5px,#ff6900 29.5px,#ff7b00 31.5px,#ff8900 32.5px,#ff8f00 33.5px,#ffa600 35.5px,#ffb900 36.5px,#ffc500 37.5px,#ffd700 38.5px,#fff200 40.5px,#fbfe04 42.5px,#f6ff09 43.5px,#ebff14 44.5px,#e5ff1a 45.5px,#9cff63 51.5px,#70ff8f 53.5px,#20ffdf 56.5px,#0afff5 57.5px,#01f1fe 58.5px,#00b0ff 61.5px,#0098ff 62.5px,#0037ff 65.5px,#0011f1 67.5px,#0003e9 68.5px,#0000af 72.5px,#0000a7 73.5px,#0000a7 74.5px,#0000d7 80.5px,#0000f2 82.5px,#0004fb 83.5px,#001cff 85.5px,#0041ff 88.5px,#004bff 90.5px,#0048ff 93.5px,#0032ff 96.5px,#0016ff 99.5px,#0006ff 103.5px,#0003fb 104.5px,#00d 107.5px,#0000de 108.5px,#0000fb 112.5px,#0005ff 115.5px,#001dff 125.5px,#0029ff 128.5px,#0024ff 129.5px,#0014ff 130.5px,#0006fa 131.5px,#0000f1 132.5px,#0000ed 133.5px,#00f 139.5px,#0000fa 152.5px,#0000ef 165.5px,#0000f2 170.5px,#0000e8 171.5px,#0000d1 172.5px,#0000bf 173.5px,#0000ba 174.5px,#0000c5 180.5px,#0000b9 193.5px,#0000b6 202.5px,#0000b7 205.5px,#000093 208.5px,#000097 213.5px)"></i>
<i style="background:linear-gradient(90deg,#0000a2 0.5px,#0000a2 5.5px,#0000a7 6.5px,#0005c3 7.5px,#0038d6 8.5px,#0052d5 9.5px,#002dd0 11.5px,#0021d0 12.5px,#002dd0 13.5px,#0021d0 14.5px,#002dd0 15.5px,#0021d0 16.5px,#0035d0 18.5px,#0068d1 19.5px,#0578cc 20.5px,#2680ac 21.5px,#2980aa 22.5px,#3a809b 23.5px,#3580a0 24.5px,#448093 25.5px,#408098 26.5px,#4d808d 27.5px,#498093 28.5px,#55808a 29.5px,#4d8092 30.5px,#51808f 31.5px,#468098 32.5px,#4a8095 33.5px,#3f809f 34.5px,#42809d 35.5px,#3680a8 36.5px,#3880a7 37.5px,#2c80b1 38.5px,#2d80b1 39.5px,#2380ba 40.5px,#2680b7 41.5px,#1d80bf 42.5px,#2080bd 43.5px,#1780c5 44.5px,#1a80c2 45.5px,#0f80cc 46.5px,#0d80ce 47.5px,#017ed8 48.5px,#007dd9 49.5px,#0070d7 50.5px,#006ed7 51.5px,#005ed5 52.5px,#0054d4 53.5px,#0041d3 54.5px,#0037d2 55.5px,#0027d2 56.5px,#0019d2 58.5px,#000dd1 61.5px,#0003cf 62.5px,#0000b7 64.5px,#0000b0 66.5px,#0000ae 69.5px,#0000a5 71.5px,#0000a6 72.5px,#0000ce 77.5px,#0000d8 78.5px,#0000ea 79.5px,#0015fe 81.5px,#0034ff 83.5px,#004aff 85.5px,#004fff 87.5px,#0040ff 90.5px,#0015ff 95.5px,#0006ff 97.5px,#0000fb 100.5px,#0000f2 102.5px,#0000d7 104.5px,#0000cf 105.5px,#0000d1 106.5px,#0000f4 111.5px,#00f 114.5px,#0010ff 122.5px,#0020ff 126.5px,#001bff 127.5px,#000efe 128.5px,#0002f5 129.5px,#0000e9 130.5px,#0000e5 131.5px,#0000f8 136.5px,#0000fb 144.5px,#0000ea 163.5px,#0000f0 168.5px,#0000e7 169.5px,#0000c2 171.5px,#0000b8 172.5px,#0000c2 180.5px,#0000b2 199.5px,#0000b6 203.5px,#0000b2 204.5px,#0000a7 205.5px,#000096 206.5px,#000090 207.5px,#000095 213.5px)"></i>
<i style="background:linear-gradient(90deg,#0000a2 0.5px,#0000a4 67.5px,#00a 69.5px,#0000b2 70.5px,#0002e0 73.5px,#001cfb 76.5px,#002dff 78.5px,#0048ff 80.5px,#0053ff 82.5px,#004cff 84.5px,#000fff 90.5px,#0000f7 94.5px,#0000eb 98.5px,#0000e2 100.5px,#0000c8 102.5px,#0000c1 103.5px,#0000c3 104.5px,#0000e5 109.5px,#0000fb 115.5px,#0005ff 120.5px,#0015ff 124.5px,#01f 125.5px,#0007fb 126.5px,#00e 127.5px,#0000df 128.5px,#0000db 129.5px,#0000f1 134.5px,#0000f5 142.5px,#0000e6 162.5px,#0000ec 166.5px,#0000e9 167.5px,#0000d9 168.5px,#0000c3 169.5px,#0000b4 170.5px,#0000b5 172.5px,#0000be 177.5px,#0000b4 190.5px,#0000b0 199.5px,#0000b2 202.5px,#0000ac 203.5px,#000091 205.5px,#00008f 207.5px,#000094 213.5px)"></i>
<i style="background:linear-gradient(90deg,#0000a2 0.5px,#0000a8 51.5px,#0000ad 59.5px,#0000c0 61.5px,#0001cf 62.5px,#000cd2 63.5px,#001cd5 64.5px,#0030e1 66.5px,#003bfd 69.5px,#004eff 70.5px,#0065ff 72.5px,#006bff 74.5px,#0061ff 77.5px,#004cff 80.5px,#002fff 82.5px,#0011fe 84.5px,#0000f1 87.5px,#0000e0 91.5px,#0000da 96.5px,#0000c7 99.5px,#0000ba 100.5px,#0000b4 101.5px,#0000b5 102.5px,#0000d7 107.5px,#0000f2 115.5px,#0001ff 120.5px,#000aff 122.5px,#0007fe 123.5px,#0002f5 124.5px,#0000d4 126.5px,#0000d1 127.5px,#0000eb 133.5px,#0000ed 141.5px,#0000e1 160.5px,#0000e6 164.5px,#0000e4 165.5px,#0000db 166.5px,#0000b6 168.5px,#0000ae 169.5px,#0000ba 176.5px,#0000ac 196.5px,#0000b0 200.5px,#0000ad 201.5px,#000095 203.5px,#00008d 204.5px,#000092 213.5px)"></i>
<i style="background:linear-gradient(90deg,#0000a2 0.5px,#0000a2 10.5px,#0000ca 11.5px,#0000e7 12.5px,#0005f1 13.5px,#0014fa 14.5px,#001eff 15.5px,#0036ff 16.5px,#0046ff 17.5px,#005eff 18.5px,#006fff 19.5px,#0086ff 20.5px,#0094ff 21.5px,#0af 22.5px,#00b8ff 23.5px,#23cfdc 26.5px,#39ddc6 28.5px,#6cfc93 35.5px,#72fd8d 36.5px,#72fd8d 45.5px,#53edac 51.5px,#46e7b9 53.5px,#06d6f9 59.5px,#00d5ff 60.5px,#00d3ff 62.5px,#00beff 65.5px,#009cff 68.5px,#0084ff 71.5px,#006bff 73.5px,#002aff 77.5px,#0014f4 79.5px,#0007eb 80.5px,#0000e5 81.5px,#0000d5 83.5px,#0000ca 88.5px,#0000cd 95.5px,#0000c7 96.5px,#0000b2 97.5px,#0000a5 98.5px,#0000a8 100.5px,#0000c9 105.5px,#0000f8 118.5px,#0002ff 120.5px,#0007ff 121.5px,#0001f7 122.5px,#0000d9 123.5px,#0000c9 124.5px,#0000c5 125.5px,#0000e1 131.5px,#0000e8 136.5px,#00d 159.5px,#0000e4 163.5px,#0000e0 164.5px,#0000b3 166.5px,#0000ab 167.5px,#0000b0 170.5px,#0000b6 176.5px,#00a 195.5px,#0000af 199.5px,#0000a8 200.5px,#00008f 202.5px,#00008b 203.5px,#000090 212.5px,#000090 213.5px)"></i>
</div>
<div class="p" id="pb">
<i style="background:linear-gradient(90deg,#000083 0.5px,#000084 102.5px,#000089 103.5px,#0000ba 105.5px,#0000c2 107.5px,#0000cf 115.5px,#0000f3 125.5px,#0002ff 142.5px,#0016ff 154.5px,#0054ff 213.5px)"></i>
<i style="background:linear-gradient(90deg,#000083 0.5px,#000084 102.5px,#000091 103.5px,#0000ae 104.5px,#0000bf 105.5px,#0000d2 115.5px,#0000f3 124.5px,#0002ff 141.5px,#0016ff 153.5px,#05f 213.5px)"></i>
<i style="background:linear-gradient(90deg,#000083 0.5px,#000083 101.5px,#008 102.5px,#00009e 103.5px,#0000b9 104.5px,#0000c2 105.5px,#0000d1 114.5px,#0000f5 124.5px,#0002ff 140.5px,#0016ff 152.5px,#0056ff 213.5px)"></i>
<i style="background:linear-gradient(90deg,#000083 0.5px,#000084 101.5px,#00008f 102.5px,#0000ad 103.5px,#0000c0 104.5px,#0000d4 114.5px,#0000f5 123.5px,#00f 138.5px,#0017ff 151.5px,#0057ff 213.5px)"></i>
<i style="background:linear-gradient(90deg,#000083 0.5px,#000083 100.5px,#000087 101.5px,#00009c 102.5px,#0000b9 103.5px,#0000c3 104.5px,#0000d3 113.5px,#0000f6 123.5px,#00f 137.5px,#0018ff 151.5px,#0058ff 213.5px)"></i>
<i style="background:linear-gradient(90deg,#000083 0.5px,#000084 100.5px,#00008d 101.5px,#0000ab 102.5px,#0000c0 103.5px,#0000c9 107.5px,#0000d5 113.5px,#0000f6 122.5px,#00f 136.5px,#0019ff 151.5px,#0059ff 213.5px)"></i>
<i style="background:linear-gradient(90deg,#000083 0.5px,#000083 99.5px,#000086 100.5px,#009 101.5px,#0000b8 102.5px,#0000c4 103.5px,#0000d3 112.5px,#0000f7 122.5px,#00f 135.5px,#001aff 151.5px,#005aff 213.5px)"></i>
<i style="background:linear-gradient(90deg,#000083 0.5px,#000084 99.5px,#00008b 100.5px,#0000c0 102.5px,#0000c7 104.5px,#0000d1 111.5px,#0000f6 121.5px,#00f 134.5px,#001bff 151.5px,#005aff 213.5px)"></i>
<i style="background:linear-gradient(90deg,#000083 0.5px,#000085 99.5px,#000096 100.5px,#0000b6 101.5px,#0000c4 102.5px,#0000d3 111.5px,#0000f7 121.5px,#0001ff 134.5px,#001cff 151.5px,#005aff 212.5px,#005bff 213.5px)"></i>
<i style="background:linear-gradient(90deg,#000083 0.5px,#000084 98.5px,#00008a 99.5px,#0000bf 101.5px,#0000c6 102.5px,#0000d1 110.5px,#0000f6 120.5px,#00f 132.5px,#0010ff 142.5px,#0025ff 158.5px,#0059ff 210.5px,#005cff 213.5px)"></i>
<i style="background:linear-gradient(90deg,#000083 0.5px,#000085 98.5px,#000093 99.5px,#0000b3 100.5px,#0000c5 101.5px,#0000d3 110.5px,#0000f5 119.5px,#00f 131.5px,#000dff 140.5px,#0020ff 153.5px,#0056ff 205.5px,#005cff 213.5px)"></i>
<i style="background:linear-gradient(90deg,#000083 0.5px,#000083 97.5px,#008 98.5px,#0000a0 99.5px,#0000be 100.5px,#0000c7 101.5px,#0000d1 109.5px,#0000f4 118.5px,#00f 128.5px,#0006ff 136.5px,#001eff 150.5px,#0054ff 202.5px,#005dff 213.5px)"></i>
<i style="background:linear-gradient(90deg,#000083 0.5px,#000084 97.5px,#00008f 98.5px,#0000af 99.5px,#0000c4 100.5px,#0000d2 109.5px,#0000f2 117.5px,#0000fd 125.5px,#0004ff 134.5px,#001fff 150.5px,#0053ff 200.5px,#005dff 213.5px)"></i>
<i style="background:linear-gradient(90deg,#000083 0.5px,#000083 96.5px,#000087 97.5px,#00009c 98.5px,#0000bc 99.5px,#0000c7 100.5px,#0000d1 108.5px,#0000f1 116.5px,#0000fc 123.5px,#0004ff 133.5px,#0021ff 151.5px,#0053ff 198.5px,#005eff 213.5px)"></i>
<i style="background:linear-gradient(90deg,#000083 0.5px,#000084 96.5px,#00008c 97.5px,#0000ab 98.5px,#0000c3 99.5px,#0000ca 101.5px,#0000d2 108.5px,#0000f0 115.5px,#0000fc 122.5px,#0003ff 132.5px,#0023ff 152.5px,#0053ff 197.5px,#005eff 213.5px)"></i>
<i style="background:linear-gradient(90deg,#000083 0.5px,#000085 96.5px,#000097 97.5px,#0000b9 98.5px,#0000c7 99.5px,#0000d4 108.5px,#0000f2 115.5px,#0000fe 124.5px,#0004ff 132.5px,#0024ff 152.5px,#0053ff 196.5px,#005fff 213.5px)"></i>
<i style="background:linear-gradient(90deg,#000083 0.5px,#000084 95.5px,#00008a 96.5px,#0000c2 98.5px,#0000c9 99.5px,#0000d1 107.5px,#0000f1 114.5px,#0000fd 122.5px,#0003ff 131.5px,#0026ff 153.5px,#0053ff 194.5px,#005fff 213.5px)"></i>
<i style="background:linear-gradient(90deg,#000083 0.5px,#000085 95.5px,#000093 96.5px,#0000b5 97.5px,#0000c7 98.5px,#0000d3 107.5px,#0000f2 114.5px,#00f 124.5px,#0005ff 132.5px,#0027ff 153.5px,#0053ff 192.5px,#0060ff 213.5px)"></i>
<i style="background:linear-gradient(90deg,#000083 0.5px,#000083 94.5px,#008 95.5px,#0000a1 96.5px,#0000c0 97.5px,#0000c9 98.5px,#0000d1 106.5px,#0000f1 113.5px,#0000fe 123.5px,#0005ff 131.5px,#002aff 154.5px,#0053ff 191.5px,#0060ff 213.5px)"></i>
<i style="background:linear-gradient(90deg,#000083 0.5px,#000084 94.5px,#000090 95.5px,#0000b0 96.5px,#0000c6 97.5px,#0000cd 102.5px,#0000d2 106.5px,#0000f3 113.5px,#00f 124.5px,#0007ff 132.5px,#002bff 154.5px,#0052ff 188.5px,#0061ff 213.5px)"></i>
<i style="background:linear-gradient(90deg,#000083 0.5px,#000083 93.5px,#000087 94.5px,#00009c 95.5px,#0000bd 96.5px,#0000c9 97.5px,#0000d0 105.5px,#0000f4 113.5px,#00f 125.5px,#0013ff 138.5px,#0042ff 171.5px,#0059ff 197.5px,#0061ff 213.5px)"></i>
<i style="background:linear-gradient(90deg,#000083 0.5px,#000084 93.5px,#00008c 94.5px,#0000ac 95.5px,#0000c5 96.5px,#0000cb 98.5px,#0000d2 105.5px,#0000f3 112.5px,#00f 124.5px,#000cff 134.5px,#0035ff 160.5px,#0057ff 190.5px,#0061ff 213.5px)"></i>
<i style="background:linear-gradient(90deg,#000083 0.5px,#000085 93.5px,#000097 94.5px,#0000ba 95.5px,#0000c9 96.5px,#0000d3 105.5px,#0000f5 112.5px,#00f 124.5px,#0015ff 138.5px,#0045ff 171.5px,#005bff 196.5px,#0062ff 213.5px)"></i>
<i style="background:linear-gradient(90deg,#000083 0.5px,#000084 92.5px,#00008a 93.5px,#0000c3 95.5px,#0000cb 96.5px,#0000d1 104.5px,#0000f4 111.5px,#00f 124.5px,#0046ff 170.5px,#005bff 195.5px,#0062ff 213.5px)"></i>
<i style="background:linear-gradient(90deg,#000083 0.5px,#000085 92.5px,#000093 93.5px,#0000b6 94.5px,#0000c8 95.5px,#0000d3 104.5px,#0000f5 111.5px,#00f 124.5px,#0046ff 169.5px,#005cff 195.5px,#0063ff 213.5px)"></i>
<i style="background:linear-gradient(90deg,#000083 0.5px,#000083 91.5px,#008 92.5px,#0000a1 93.5px,#0000c1 94.5px,#0000cb 95.5px,#0000d1 103.5px,#0000f4 110.5px,#00f 123.5px,#0049ff 170.5px,#005dff 194.5px,#0063ff 213.5px)"></i>
<i style="background:linear-gradient(90deg,#000083 0.5px,#000084 91.5px,#000090 92.5px,#0000b1 93.5px,#0000c7 94.5px,#0000cd 98.5px,#0000d2 103.5px,#0000f5 110.5px,#00f 123.5px,#0049ff 169.5px,#005eff 194.5px,#0064ff 213.5px)"></i>
<i style="background:linear-gradient(90deg,#000083 0.5px,#000083 90.5px,#000087 91.5px,#00009d 92.5px,#0000be 93.5px,#0000ca 94.5px,#0000d0 102.5px,#0000f6 110.5px,#00f 123.5px,#004aff 168.5px,#005fff 194.5px,#0064ff 213.5px)"></i>
<i style="background:linear-gradient(90deg,#000083 0.5px,#000084 90.5px,#00008d 91.5px,#0000ac 92.5px,#0000c6 93.5px,#00c 95.5px,#0000d2 102.5px,#0000f5 109.5px,#00f 122.5px,#004cff 168.5px,#0060ff 194.5px,#0065ff 213.5px)"></i>
<i style="background:linear-gradient(90deg,#000083 0.5px,#000086 90.5px,#000098 91.5px,#00b 92.5px,#0000ca 93.5px,#0000d3 102.5px,#0000f6 109.5px,#00f 122.5px,#004cff 167.5px,#0061ff 193.5px,#06f 213.5px)"></i>
<i style="background:linear-gradient(90deg,#000083 0.5px,#000084 89.5px,#00008b 90.5px,#0000c4 92.5px,#0000cb 93.5px,#0000d1 101.5px,#0000f5 108.5px,#00f 121.5px,#004eff 167.5px,#0062ff 193.5px,#06f 213.5px)"></i>
<i style="background:linear-gradient(90deg,#000083 0.5px,#000085 89.5px,#000095 90.5px,#0000b7 91.5px,#0000c9 92.5px,#0000d3 101.5px,#0000f6 108.5px,#00f 121.5px,#004fff 166.5px,#0063ff 193.5px,#0067ff 213.5px)"></i>
<i style="background:linear-gradient(90deg,#000083 0.5px,#000084 88.5px,#000089 89.5px,#0000c2 91.5px,#0000cb 92.5px,#0000d1 100.5px,#0000f4 107.5px,#00f 120.5px,#0050ff 166.5px,#0064ff 193.5px,#0067ff 213.5px)"></i>
<i style="background:linear-gradient(90deg,#000083 0.5px,#000084 88.5px,#000091 89.5px,#0000b3 90.5px,#0000c8 91.5px,#0000d3 100.5px,#0000f6 107.5px,#00f 119.5px,#0052ff 166.5px,#0065ff 193.5px,#0068ff 213.5px)"></i>
<i style="background:linear-gradient(90deg,#000083 0.5px,#000083 87.5px,#000087 88.5px,#00009f 89.5px,#0000c0 90.5px,#0000cb 91.5px,#0000d1 99.5px,#0000f4 106.5px,#00f 118.5px,#000cff 126.5px,#0050ff 163.5px,#06f 192.5px,#0069ff 213.5px)"></i>
<i style="background:linear-gradient(90deg,#000083 0.5px,#000084 87.5px,#00008f 88.5px,#0000b0 89.5px,#0000c7 90.5px,#0000cd 93.5px,#0000d3 99.5px,#0000f5 106.5px,#00f 118.5px,#0052ff 163.5px,#0067ff 192.5px,#0069ff 213.5px)"></i>
<i style="background:linear-gradient(90deg,#000083 0.5px,#000083 86.5px,#000086 87.5px,#00009c 88.5px,#0000bd 89.5px,#0000ca 90.5px,#0000d1 98.5px,#0000f4 105.5px,#00f 118.5px,#0051ff 161.5px,#0068ff 189.5px,#006aff 213.5px)"></i>
<i style="background:linear-gradient(90deg,#000083 0.5px,#000084 86.5px,#00008c 87.5px,#0000ac 88.5px,#0000c6 89.5px,#00c 91.5px,#0000d3 98.5px,#0000f2 104.5px,#0000fa 109.5px,#0003ff 120.5px,#004fff 158.5px,#005fff 174.5px,#0069ff 195.5px,#006bff 213.5px)"></i>
<i style="background:linear-gradient(90deg,#000083 0.5px,#000086 86.5px,#000098 87.5px,#00b 88.5px,#0000ca 89.5px,#0000d1 97.5px,#0000f3 104.5px,#00f 117.5px,#0053ff 159.5px,#0065ff 180.5px,#006bff 201.5px,#006cff 213.5px)"></i>
<i style="background:linear-gradient(90deg,#000083 0.5px,#000084 85.5px,#00008b 86.5px,#0000c4 88.5px,#0000cb 89.5px,#0000d3 97.5px,#0000f2 103.5px,#0000fa 109.5px,#0004ff 119.5px,#0045ff 150.5px,#005dff 166.5px,#006bff 193.5px,#006cff 213.5px)"></i>
<i style="background:linear-gradient(90deg,#000083 0.5px,#000085 85.5px,#000095 86.5px,#0000b7 87.5px,#0000c9 88.5px,#0000d1 96.5px,#0000f0 102.5px,#0000f9 107.5px,#0003ff 118.5px,#04f 148.5px,#005dff 164.5px,#006cff 192.5px,#006dff 213.5px)"></i>
<i style="background:linear-gradient(90deg,#000083 0.5px,#000084 84.5px,#000089 85.5px,#0000c3 87.5px,#0000cb 88.5px,#0000d3 96.5px,#0000f2 102.5px,#0000fc 110.5px,#0004ff 118.5px,#003cff 143.5px,#005dff 162.5px,#006dff 190.5px,#006eff 213.5px)"></i>
<i style="background:linear-gradient(90deg,#000083 0.5px,#000084 84.5px,#000092 85.5px,#0000b4 86.5px,#0000c9 87.5px,#0000d2 95.5px,#0000f0 101.5px,#0000fa 107.5px,#0003ff 117.5px,#003cff 142.5px,#005eff 161.5px,#006eff 189.5px,#006fff 213.5px)"></i>
<i style="background:linear-gradient(90deg,#000083 0.5px,#000083 83.5px,#008 84.5px,#0000a0 85.5px,#0000c1 86.5px,#0000cb 87.5px,#0000d3 95.5px,#0000f2 101.5px,#00f 113.5px,#0006ff 118.5px,#0036ff 138.5px,#005fff 160.5px,#006fff 187.5px,#006fff 213.5px)"></i>
<i style="background:linear-gradient(90deg,#000083 0.5px,#000084 83.5px,#000090 84.5px,#0000b1 85.5px,#0000c7 86.5px,#0000cd 89.5px,#0000d1 94.5px,#0000f1 100.5px,#0000fb 108.5px,#0003ff 116.5px,#0037ff 137.5px,#0061ff 160.5px,#0070ff 187.5px,#0070ff 213.5px)"></i>
<i style="background:linear-gradient(90deg,#000083 0.5px,#000083 82.5px,#000087 83.5px,#00009d 84.5px,#0000be 85.5px,#0000ca 86.5px,#0000d3 94.5px,#0000f3 100.5px,#00f 114.5px,#0039ff 137.5px,#0063ff 159.5px,#0071ff 185.5px,#0071ff 213.5px)"></i>
<i style="background:linear-gradient(90deg,#000083 0.5px,#000084 82.5px,#00008d 83.5px,#0000ad 84.5px,#0000c6 85.5px,#00c 87.5px,#0000d1 93.5px,#0000f2 99.5px,#00f 112.5px,#0008ff 117.5px,#0035ff 134.5px,#0065ff 159.5px,#0072ff 185.5px,#0072ff 213.5px)"></i>
<i style="background:linear-gradient(90deg,#000083 0.5px,#000086 82.5px,#009 83.5px,#00b 84.5px,#0000ca 85.5px,#0000d3 93.5px,#0000f3 99.5px,#00f 113.5px,#003aff 135.5px,#0068ff 159.5px,#0073ff 184.5px,#0072ff 213.5px)"></i>
<i style="background:linear-gradient(90deg,#000083 0.5px,#000084 81.5px,#00008b 82.5px,#0000c5 84.5px,#0000cb 85.5px,#0000d1 92.5px,#0000f2 98.5px,#0001ff 113.5px,#003bff 134.5px,#0069ff 158.5px,#0074ff 183.5px,#0073ff 213.5px)"></i>
<i style="background:linear-gradient(90deg,#000083 0.5px,#000085 81.5px,#000096 82.5px,#0000b8 83.5px,#0000c9 84.5px,#0000d3 92.5px,#0000f4 98.5px,#0002ff 113.5px,#003bff 133.5px,#006cff 158.5px,#0076ff 183.5px,#0074ff 213.5px)"></i>
<i style="background:linear-gradient(90deg,#000083 0.5px,#000084 80.5px,#000089 81.5px,#0000c3 83.5px,#0000cb 84.5px,#0000d1 91.5px,#0000f3 97.5px,#00f 112.5px,#003cff 132.5px,#006eff 158.5px,#07f 183.5px,#0075ff 213.5px)"></i>
<i style="background:linear-gradient(90deg,#000083 0.5px,#000084 80.5px,#000092 81.5px,#0000b4 82.5px,#0000c9 83.5px,#0000d3 91.5px,#0000f4 97.5px,#0001ff 112.5px,#003eff 132.5px,#0070ff 157.5px,#0079ff 182.5px,#0075ff 213.5px)"></i>
<i style="background:linear-gradient(90deg,#000083 0.5px,#000083 79.5px,#008 80.5px,#0000a0 81.5px,#0000c1 82.5px,#0000cb 83.5px,#0000d1 90.5px,#0000f3 96.5px,#00f 111.5px,#003fff 131.5px,#0072ff 157.5px,#007aff 182.5px,#0076ff 213.5px)"></i>
<i style="background:linear-gradient(90deg,#000083 0.5px,#000084 79.5px,#00008f 80.5px,#0000b0 81.5px,#0000c7 82.5px,#0000cd 85.5px,#0000d2 90.5px,#0000f5 96.5px,#0001ff 111.5px,#0042ff 131.5px,#0075ff 157.5px,#007cff 181.5px,#07f 213.5px)"></i>
<i style="background:linear-gradient(90deg,#000083 0.5px,#000083 78.5px,#000086 79.5px,#00009c 80.5px,#0000be 81.5px,#0000ca 82.5px,#0000d0 89.5px,#0000f6 96.5px,#0002ff 111.5px,#0043ff 130.5px,#07f 156.5px,#007eff 181.5px,#0078ff 213.5px)"></i>
<i style="background:linear-gradient(90deg,#000083 0.5px,#000084 78.5px,#00008c 79.5px,#0000c6 81.5px,#00c 83.5px,#0000d2 89.5px,#0000f5 95.5px,#0001ff 110.5px,#0045ff 130.5px,#0079ff 156.5px,#007fff 181.5px,#0078ff 213.5px)"></i>
<i style="background:linear-gradient(90deg,#000083 0.5px,#000085 78.5px,#000097 79.5px,#0000ba 80.5px,#0000ca 81.5px,#0000d4 89.5px,#0000f6 95.5px,#0003ff 110.5px,#0046ff 129.5px,#007cff 156.5px,#0081ff 180.5px,#0079ff 213.5px)"></i>
<i style="background:linear-gradient(90deg,#000083 0.5px,#000084 77.5px,#00008a 78.5px,#0000c4 80.5px,#00c 81.5px,#0000d2 88.5px,#0000f5 94.5px,#0002ff 109.5px,#004aff 129.5px,#007eff 156.5px,#0083ff 180.5px,#007aff 213.5px)"></i>
<i style="background:linear-gradient(90deg,#000083 0.5px,#000085 77.5px,#000093 78.5px,#0000b6 79.5px,#0000ca 80.5px,#0000d4 88.5px,#0000f6 94.5px,#0002ff 108.5px,#004eff 129.5px,#0080ff 155.5px,#0085ff 180.5px,#007bff 213.5px)"></i>
<i style="background:linear-gradient(90deg,#000083 0.5px,#000083 76.5px,#008 77.5px,#0000a1 78.5px,#0000c2 79.5px,#00c 80.5px,#0000d3 87.5px,#0000f5 93.5px,#0002ff 107.5px,#002dff 119.5px,#0051ff 129.5px,#0083ff 155.5px,#0087ff 180.5px,#007cff 213.5px)"></i>
<i style="background:linear-gradient(90deg,#000083 0.5px,#000084 76.5px,#00008f 77.5px,#0000b1 78.5px,#0000ca 79.5px,#0000cf 82.5px,#0000d5 87.5px,#0000f6 93.5px,#0002ff 106.5px,#0016ff 112.5px,#0053ff 128.5px,#0086ff 155.5px,#0089ff 180.5px,#007dff 213.5px)"></i>
<i style="background:linear-gradient(90deg,#000083 0.5px,#000083 75.5px,#000086 76.5px,#00009c 77.5px,#0000c0 78.5px,#0000ce 79.5px,#0000d8 87.5px,#0000f7 93.5px,#0003ff 105.5px,#0012ff 110.5px,#0058ff 128.5px,#0089ff 155.5px,#008bff 180.5px,#007eff 213.5px)"></i>
<i style="background:linear-gradient(90deg,#000083 0.5px,#000084 75.5px,#00008c 76.5px,#0000c9 78.5px,#0000d0 79.5px,#0000d6 86.5px,#0000f6 92.5px,#0003ff 104.5px,#0016ff 110.5px,#005aff 127.5px,#008bff 154.5px,#008eff 179.5px,#007fff 213.5px)"></i>
<i style="background:linear-gradient(90deg,#000083 0.5px,#000085 75.5px,#000097 76.5px,#0000bc 77.5px,#0000cf 78.5px,#0000d9 86.5px,#0000f7 92.5px,#0003ff 103.5px,#0016ff 109.5px,#005eff 127.5px,#008eff 154.5px,#0090ff 179.5px,#0080ff 213.5px)"></i>
<i style="background:linear-gradient(90deg,#000083 0.5px,#000084 74.5px,#000089 75.5px,#0000c8 77.5px,#0000d2 78.5px,#0000d8 85.5px,#0000f8 92.5px,#0003ff 102.5px,#001bff 109.5px,#0063ff 127.5px,#0091ff 154.5px,#0093ff 179.5px,#0081ff 213.5px)"></i>
<i style="background:linear-gradient(90deg,#000083 0.5px,#000084 74.5px,#000092 75.5px,#0000b8 76.5px,#0000d0 77.5px,#0000d6 82.5px,#0000da 85.5px,#0000f7 91.5px,#0003ff 101.5px,#0020ff 109.5px,#0065ff 126.5px,#0091ff 152.5px,#0095ff 179.5px,#0082ff 213.5px)"></i>
<i style="background:linear-gradient(90deg,#000083 0.5px,#000083 73.5px,#000087 74.5px,#0000a1 75.5px,#0000c6 76.5px,#0000d4 77.5px,#00d 85.5px,#0000f8 91.5px,#0003ff 100.5px,#0025ff 109.5px,#006bff 126.5px,#0096ff 153.5px,#0097ff 179.5px,#0083ff 213.5px)"></i>
<i style="background:linear-gradient(90deg,#000083 0.5px,#000084 73.5px,#00008e 74.5px,#0000b3 75.5px,#0000d0 76.5px,#0000d7 78.5px,#0000dc 84.5px,#0000f9 91.5px,#0002ff 99.5px,#002aff 109.5px,#0070ff 126.5px,#09f 153.5px,#009aff 179.5px,#0084ff 213.5px)"></i>
<i style="background:linear-gradient(90deg,#000083 0.5px,#000086 73.5px,#00009b 74.5px,#0000c3 75.5px,#0000d5 76.5px,#0000df 84.5px,#0000f8 90.5px,#0002ff 98.5px,#002bff 108.5px,#0072ff 125.5px,#0083ff 134.5px,#009cff 155.5px,#009cff 179.5px,#0085ff 213.5px)"></i>
<i style="background:linear-gradient(90deg,#000083 0.5px,#000084 72.5px,#00008b 73.5px,#0000d0 75.5px,#0000d8 76.5px,#0000e2 84.5px,#0000f9 90.5px,#0001ff 97.5px,#002cff 107.5px,#0069ff 121.5px,#007fff 128.5px,#009fff 155.5px,#009eff 179.5px,#0085ff 213.5px)"></i>
<i style="background:linear-gradient(90deg,#000083 0.5px,#000085 72.5px,#000095 73.5px,#0000bf 74.5px,#0000d7 75.5px,#0000e5 84.5px,#0000fa 90.5px,#0003ff 97.5px,#05f 115.5px,#0080ff 126.5px,#00a2ff 155.5px,#00a1ff 179.5px,#0086ff 213.5px)"></i>
<i style="background:linear-gradient(90deg,#000083 0.5px,#000083 71.5px,#008 72.5px,#0000a6 73.5px,#0000ce 74.5px,#0000db 75.5px,#0000e4 83.5px,#0000f9 89.5px,#0002ff 96.5px,#0042ff 109.5px,#007fff 124.5px,#008bff 130.5px,#00a5ff 155.5px,#00a3ff 179.5px,#08f 212.5px,#0087ff 213.5px)"></i>
<i style="background:linear-gradient(90deg,#000083 0.5px,#000084 71.5px,#000091 72.5px,#0000b9 73.5px,#0000d8 74.5px,#0000de 76.5px,#0000e7 83.5px,#0000fa 89.5px,#0001ff 95.5px,#002dff 104.5px,#0059ff 113.5px,#08f 125.5px,#009aff 140.5px,#00a8ff 155.5px,#00a6ff 179.5px,#008bff 211.5px,#08f 213.5px)"></i>
<i style="background:linear-gradient(90deg,#000083 0.5px,#000083 70.5px,#000086 71.5px,#00009f 72.5px,#0000cb 73.5px,#00d 74.5px,#0000ea 83.5px,#0000fa 89.5px,#00f 94.5px,#02f 101.5px,#005bff 112.5px,#008dff 125.5px,#00abff 154.5px,#00a8ff 179.5px,#008cff 211.5px,#0089ff 213.5px)"></i>
<i style="background:linear-gradient(90deg,#000083 0.5px,#000084 70.5px,#00008d 71.5px,#0000d7 73.5px,#0000e0 74.5px,#0000e9 82.5px,#0000fb 89.5px,#0001ff 94.5px,#03f 103.5px,#0061ff 112.5px,#0093ff 125.5px,#00aeff 154.5px,#00acff 178.5px,#008dff 211.5px,#008aff 213.5px)"></i>
<i style="background:linear-gradient(90deg,#000083 0.5px,#000085 70.5px,#009 71.5px,#0000c6 72.5px,#0000de 73.5px,#00e 83.5px,#0000fb 89.5px,#00f 93.5px,#002cff 101.5px,#0063ff 111.5px,#0098ff 125.5px,#00b1ff 154.5px,#00aeff 178.5px,#008fff 210.5px,#008bff 213.5px)"></i>
<i style="background:linear-gradient(90deg,#000083 0.5px,#000084 69.5px,#00008a 70.5px,#0000ab 71.5px,#0000d6 72.5px,#0000e2 73.5px,#00e 82.5px,#0000fc 89.5px,#0002ff 93.5px,#0039ff 102.5px,#0069ff 111.5px,#009aff 124.5px,#00a3ff 131.5px,#00b3ff 155.5px,#00b1ff 178.5px,#0090ff 210.5px,#008cff 213.5px)"></i>
<i style="background:linear-gradient(90deg,#000083 0.5px,#000084 69.5px,#000094 70.5px,#0000c0 71.5px,#0000df 72.5px,#0000e5 74.5px,#0000f0 82.5px,#0000fc 89.5px,#00f 92.5px,#0031ff 100.5px,#005cff 107.5px,#08f 117.5px,#00a4ff 126.5px,#00b6ff 155.5px,#00b3ff 178.5px,#0091ff 210.5px,#008cff 213.5px)"></i>
<i style="background:linear-gradient(90deg,#000083 0.5px,#000083 68.5px,#000087 69.5px,#0000a4 70.5px,#0000d2 71.5px,#0000e4 72.5px,#0000f4 83.5px,#0002ff 92.5px,#0057ff 105.5px,#0075ff 111.5px,#00a1ff 123.5px,#00a9ff 128.5px,#00b9ff 155.5px,#00b6ff 178.5px,#0092ff 210.5px,#008dff 213.5px)"></i>
<i style="background:linear-gradient(90deg,#000083 0.5px,#000084 68.5px,#00008f 69.5px,#0000ba 70.5px,#0000de 71.5px,#0000e6 72.5px,#0000f7 84.5px,#00f 91.5px,#0035ff 99.5px,#0057ff 104.5px,#007aff 111.5px,#00a6ff 123.5px,#00aeff 128.5px,#00bcff 155.5px,#00b8ff 178.5px,#0092ff 210.5px,#008eff 213.5px)"></i>
<i style="background:linear-gradient(90deg,#000083 0.5px,#000083 67.5px,#000086 68.5px,#00009e 69.5px,#0000ce 70.5px,#0000e5 71.5px,#00f 90.5px,#0008ff 92.5px,#005dff 104.5px,#007cff 110.5px,#00abff 123.5px,#00b2ff 129.5px,#00bfff 155.5px,#0bf 178.5px,#0091ff 211.5px,#008eff 213.5px)"></i>
<i style="background:linear-gradient(90deg,#000083 0.5px,#000084 67.5px,#00008c 68.5px,#0000dc 70.5px,#0000e8 71.5px,#00f 90.5px,#0038ff 98.5px,#005dff 103.5px,#0081ff 110.5px,#00adff 122.5px,#00b4ff 126.5px,#00c2ff 155.5px,#00bdff 178.5px,#0092ff 211.5px,#008fff 213.5px)"></i>
<i style="background:linear-gradient(90deg,#000083 0.5px,#000085 67.5px,#000098 68.5px,#0000c8 69.5px,#0000e5 70.5px,#0000ec 73.5px,#0002ff 90.5px,#0062ff 103.5px,#0086ff 110.5px,#00b1ff 122.5px,#00b8ff 126.5px,#00c4ff 156.5px,#00c1ff 177.5px,#008fff 213.5px)"></i>
<i style="background:linear-gradient(90deg,#000083 0.5px,#000084 66.5px,#000089 67.5px,#0000ab 68.5px,#0000d9 69.5px,#0000e9 70.5px,#00f 89.5px,#03f 96.5px,#0062ff 102.5px,#08f 109.5px,#00b2ff 121.5px,#0bf 125.5px,#00c7ff 156.5px,#00c4ff 177.5px,#008fff 213.5px)"></i>
<i style="background:linear-gradient(90deg,#000083 0.5px,#000084 66.5px,#000093 67.5px,#0000c2 68.5px,#0000e4 69.5px,#0000ea 70.5px,#00f 88.5px,#0009ff 90.5px,#0061ff 101.5px,#008cff 109.5px,#00b6ff 121.5px,#00bfff 126.5px,#00caff 156.5px,#00c6ff 177.5px,#0090ff 213.5px)"></i>
<i style="background:linear-gradient(90deg,#000083 0.5px,#000083 65.5px,#000087 66.5px,#0000a4 67.5px,#0000d5 68.5px,#0000e9 69.5px,#00f 87.5px,#0005ff 89.5px,#06f 101.5px,#0091ff 109.5px,#00b7ff 120.5px,#00c1ff 125.5px,#0cf 156.5px,#00c9ff 177.5px,#0090ff 213.5px)"></i>
<i style="background:linear-gradient(90deg,#000083 0.5px,#000084 65.5px,#00008f 66.5px,#0000e2 68.5px,#0000eb 69.5px,#00f 87.5px,#0009ff 89.5px,#006bff 101.5px,#0092ff 108.5px,#00b8ff 119.5px,#00c4ff 124.5px,#00cfff 156.5px,#00cbff 177.5px,#0090ff 213.5px)"></i>
<i style="background:linear-gradient(90deg,#000083 0.5px,#000083 64.5px,#000086 65.5px,#00009e 66.5px,#0000d0 67.5px,#0000e8 68.5px,#00f 86.5px,#0005ff 88.5px,#006aff 100.5px,#0096ff 108.5px,#0bf 119.5px,#00c6ff 124.5px,#00d2ff 156.5px,#00cdff 177.5px,#0090ff 213.5px)"></i>
<i style="background:linear-gradient(90deg,#000083 0.5px,#000084 64.5px,#00008c 65.5px,#0000df 67.5px,#0000ea 68.5px,#00f 85.5px,#0003ff 87.5px,#006eff 100.5px,#009aff 108.5px,#00bfff 119.5px,#00c8ff 124.5px,#00d5ff 155.5px,#00d0ff 177.5px,#0090ff 213.5px)"></i>
<i style="background:linear-gradient(90deg,#000083 0.5px,#000085 64.5px,#009 65.5px,#0000ca 66.5px,#0000e7 67.5px,#0000ef 71.5px,#00f 85.5px,#0006ff 87.5px,#006cff 99.5px,#009aff 107.5px,#00bfff 118.5px,#00cbff 124.5px,#00d7ff 155.5px,#00d2ff 177.5px,#00a4ff 202.5px,#008fff 213.5px)"></i>
<i style="background:linear-gradient(90deg,#000083 0.5px,#000084 63.5px,#00008a 64.5px,#0000ad 65.5px,#0000db 66.5px,#0000ea 67.5px,#00f 84.5px,#0005ff 86.5px,#0070ff 99.5px,#009dff 107.5px,#00c2ff 118.5px,#00cdff 124.5px,#00daff 155.5px,#00d5ff 177.5px,#00a9ff 200.5px,#008fff 213.5px)"></i>
<i style="background:linear-gradient(90deg,#000083 0.5px,#000085 63.5px,#000095 64.5px,#0000c4 65.5px,#0000e5 66.5px,#0000ed 68.5px,#00f 83.5px,#0009ff 86.5px,#0074ff 99.5px,#00a1ff 107.5px,#00c4ff 118.5px,#00cfff 125.5px,#0df 155.5px,#00d8ff 177.5px,#00b1ff 197.5px,#008eff 213.5px)"></i>
<i style="background:linear-gradient(90deg,#000083 0.5px,#000083 62.5px,#008 63.5px,#0000a7 64.5px,#0000d7 65.5px,#0000e9 66.5px,#0002ff 83.5px,#000eff 86.5px,#0072ff 98.5px,#00a5ff 107.5px,#00c7ff 118.5px,#00d1ff 125.5px,#00e0ff 155.5px,#00dbff 177.5px,#00beff 192.5px,#008fff 212.5px,#008dff 213.5px)"></i>
<i style="background:linear-gradient(90deg,#000083 0.5px,#000084 62.5px,#000091 63.5px,#0000be 64.5px,#0000e3 65.5px,#0000eb 66.5px,#0001ff 82.5px,#000cff 85.5px,#0076ff 98.5px,#00a8ff 107.5px,#0cf 119.5px,#00dcff 138.5px,#00e4ff 162.5px,#00dbff 179.5px,#00b3ff 197.5px,#008eff 212.5px,#008dff 213.5px)"></i>
<i style="background:linear-gradient(90deg,#000083 0.5px,#000083 61.5px,#000087 62.5px,#0000a1 63.5px,#0000d3 64.5px,#0000e9 65.5px,#00f 81.5px,#01f 85.5px,#0074ff 97.5px,#00a7ff 106.5px,#00caff 117.5px,#00d6ff 126.5px,#00e6ff 155.5px,#00e3ff 174.5px,#00d9ff 182.5px,#00a8ff 201.5px,#008cff 213.5px)"></i>
<i style="background:linear-gradient(90deg,#000083 0.5px,#000084 61.5px,#00008e 62.5px,#0000e1 64.5px,#0000eb 65.5px,#0002ff 81.5px,#0017ff 85.5px,#0078ff 97.5px,#00abff 106.5px,#00ceff 118.5px,#00e1ff 139.5px,#00eaff 163.5px,#00e0ff 180.5px,#00afff 199.5px,#008aff 213.5px)"></i>
<i style="background:linear-gradient(90deg,#000083 0.5px,#000086 61.5px,#00009d 62.5px,#0000ce 63.5px,#0000e8 64.5px,#0000fe 78.5px,#0001ff 80.5px,#0016ff 84.5px,#0075ff 96.5px,#00afff 106.5px,#00d0ff 118.5px,#00e5ff 141.5px,#00ecff 164.5px,#00e1ff 181.5px,#00acff 200.5px,#0089ff 213.5px)"></i>
<i style="background:linear-gradient(90deg,#000083 0.5px,#000084 60.5px,#00008c 61.5px,#0000de 63.5px,#0000ea 64.5px,#00f 79.5px,#001cff 84.5px,#007aff 96.5px,#00b3ff 106.5px,#00d4ff 119.5px,#00ebff 146.5px,#00efff 164.5px,#00e4ff 181.5px,#00acff 200.5px,#08f 213.5px)"></i>
<i style="background:linear-gradient(90deg,#000083 0.5px,#000085 60.5px,#009 61.5px,#0000ca 62.5px,#0000e7 63.5px,#0000ef 66.5px,#0002ff 79.5px,#0023ff 84.5px,#0078ff 95.5px,#00b6ff 106.5px,#00d6ff 119.5px,#00edff 145.5px,#00f2ff 164.5px,#00e6ff 181.5px,#00adff 200.5px,#0087ff 213.5px)"></i>
<i style="background:linear-gradient(90deg,#000083 0.5px,#000084 59.5px,#00008a 60.5px,#0000ae 61.5px,#0000dc 62.5px,#0000ea 63.5px,#00f 78.5px,#0021ff 83.5px,#0076ff 94.5px,#00b6ff 105.5px,#00d5ff 117.5px,#00ecff 140.5px,#00f5ff 163.5px,#00e8ff 181.5px,#00a9ff 201.5px,#0086ff 213.5px)"></i>
<i style="background:linear-gradient(90deg,#000083 0.5px,#000085 59.5px,#000097 60.5px,#0000c6 61.5px,#0000e6 62.5px,#0000ed 64.5px,#0002ff 78.5px,#007bff 94.5px,#00baff 105.5px,#00d9ff 118.5px,#00f0ff 142.5px,#00f8ff 163.5px,#00edff 180.5px,#00a9ff 201.5px,#0085ff 213.5px)"></i>
<i style="background:linear-gradient(90deg,#000083 0.5px,#000084 58.5px,#000089 59.5px,#0000ab 60.5px,#0000da 61.5px,#0000ea 62.5px,#0001ff 77.5px,#006dff 91.5px,#00b5ff 103.5px,#00c4ff 107.5px,#00dcff 118.5px,#00f3ff 142.5px,#00faff 163.5px,#00efff 180.5px,#00a2ff 203.5px,#0083ff 213.5px)"></i>
<i style="background:linear-gradient(90deg,#000083 0.5px,#000085 58.5px,#000095 59.5px,#0000c4 60.5px,#0000e5 61.5px,#0000ed 63.5px,#00f 76.5px,#000bff 78.5px,#004fff 86.5px,#0092ff 96.5px,#00c3ff 105.5px,#0df 117.5px,#00f4ff 140.5px,#00fcff 163.5px,#00f0ff 180.5px,#0082ff 213.5px)"></i>
<i style="background:linear-gradient(90deg,#000083 0.5px,#000084 57.5px,#000089 58.5px,#0000a9 59.5px,#0000d8 60.5px,#0000ea 61.5px,#00f 75.5px,#0008ff 77.5px,#004eff 85.5px,#0092ff 95.5px,#00c8ff 105.5px,#00e0ff 117.5px,#00f5ff 139.5px,#00feff 163.5px,#00f1ff 180.5px,#0081ff 213.5px)"></i>
<i style="background:linear-gradient(90deg,#000083 0.5px,#000085 57.5px,#000095 58.5px,#0000c3 59.5px,#0000e4 60.5px,#0000eb 61.5px,#00f 74.5px,#0006ff 76.5px,#004fff 84.5px,#008dff 93.5px,#00c9ff 104.5px,#00e2ff 116.5px,#00f7ff 138.5px,#03fffc 160.5px,#00f6ff 177.5px,#00ebff 182.5px,#007fff 213.5px)"></i>
<i style="background:linear-gradient(90deg,#000083 0.5px,#000084 56.5px,#000089 57.5px,#00a 58.5px,#0000d8 59.5px,#0000ea 60.5px,#00f 73.5px,#0005ff 75.5px,#002aff 79.5px,#0057ff 84.5px,#0095ff 93.5px,#00cfff 104.5px,#00e6ff 116.5px,#00faff 138.5px,#05fffa 159.5px,#00fbff 173.5px,#00f2ff 180.5px,#007eff 213.5px)"></i>
<i style="background:linear-gradient(90deg,#000083 0.5px,#000085 56.5px,#000096 57.5px,#0000c4 58.5px,#0000e5 59.5px,#00e 61.5px,#0001ff 72.5px,#000cff 75.5px,#0058ff 83.5px,#0098ff 92.5px,#00d2ff 103.5px,#00e9ff 116.5px,#00fcff 138.5px,#06fff9 163.5px,#00fbff 175.5px,#00f0ff 181.5px,#007cff 213.5px)"></i>
<i style="background:linear-gradient(90deg,#000083 0.5px,#000084 55.5px,#00008a 56.5px,#0000ad 57.5px,#0000da 58.5px,#0000ea 59.5px,#0002ff 71.5px,#000dff 74.5px,#0061ff 83.5px,#00a1ff 92.5px,#00d8ff 103.5px,#0ef 116.5px,#00feff 137.5px,#09fff6 162.5px,#00fdff 175.5px,#00f1ff 181.5px,#007aff 213.5px)"></i>
<i style="background:linear-gradient(90deg,#000083 0.5px,#000085 55.5px,#000098 56.5px,#0000c8 57.5px,#0000e6 58.5px,#00e 60.5px,#0002ff 70.5px,#0014ff 74.5px,#0063ff 82.5px,#00a6ff 91.5px,#00dbff 102.5px,#00f0ff 113.5px,#01fffe 134.5px,#0bfff4 162.5px,#00fdff 176.5px,#00eaff 183.5px,#0078ff 213.5px)"></i>
<i style="background:linear-gradient(90deg,#000083 0.5px,#000084 54.5px,#00008c 55.5px,#0000b1 56.5px,#00d 57.5px,#0000eb 58.5px,#0002ff 69.5px,#001eff 74.5px,#0064ff 81.5px,#0af 90.5px,#00c5ff 95.5px,#00e5ff 103.5px,#00f7ff 117.5px,#02fffd 131.5px,#0dfff2 162.5px,#00feff 176.5px,#00ebff 183.5px,#0081ff 210.5px,#0076ff 213.5px)"></i>
<i style="background:linear-gradient(90deg,#000083 0.5px,#000086 54.5px,#00009c 55.5px,#00c 56.5px,#0000e7 57.5px,#0000f2 61.5px,#0001ff 68.5px,#0020ff 73.5px,#006fff 81.5px,#00b5ff 90.5px,#00caff 94.5px,#00ecff 103.5px,#00fdff 119.5px,#0ffff0 162.5px,#00fdff 177.5px,#00e7ff 184.5px,#009aff 203.5px,#0074ff 213.5px)"></i>
<i style="background:linear-gradient(90deg,#000083 0.5px,#000084 53.5px,#00008e 54.5px,#0000df 56.5px,#0000eb 57.5px,#00f 67.5px,#002aff 73.5px,#007aff 81.5px,#00c1ff 90.5px,#00d3ff 94.5px,#00f2ff 103.5px,#01fffe 117.5px,#1fe 161.5px,#00feff 177.5px,#00e7ff 184.5px,#00a3ff 200.5px,#0072ff 213.5px)"></i>
<i style="background:linear-gradient(90deg,#000083 0.5px,#000083 52.5px,#000086 53.5px,#00009f 54.5px,#0000cf 55.5px,#0000e8 56.5px,#00f 66.5px,#000cff 68.5px,#0036ff 73.5px,#0085ff 81.5px,#00c5ff 89.5px,#00d6ff 92.5px,#00f9ff 103.5px,#04fffb 115.5px,#0dfff2 144.5px,#12ffed 162.5px,#00feff 177.5px,#00e7ff 184.5px,#00a6ff 199.5px,#0070ff 213.5px)"></i>
<i style="background:linear-gradient(90deg,#000083 0.5px,#000084 52.5px,#00008f 53.5px,#0000e1 55.5px,#0000eb 56.5px,#0002ff 66.5px,#004dff 74.5px,#00a1ff 83.5px,#00d1ff 89.5px,#00dfff 92.5px,#00feff 103.5px,#0efff1 132.5px,#14ffeb 162.5px,#02fffd 176.5px,#00f0ff 182.5px,#00acff 197.5px,#006eff 213.5px)"></i>
<i style="background:linear-gradient(90deg,#000083 0.5px,#000083 51.5px,#000087 52.5px,#0000a2 53.5px,#0000d2 54.5px,#0000e9 55.5px,#0001ff 65.5px,#00a4ff 82.5px,#00dcff 89.5px,#00eaff 93.5px,#01fffe 101.5px,#0efff1 121.5px,#15ffea 162.5px,#03fffc 176.5px,#00f0ff 182.5px,#0af 197.5px,#006cff 213.5px)"></i>
<i style="background:linear-gradient(90deg,#000083 0.5px,#000084 51.5px,#000090 52.5px,#0000e2 54.5px,#0000ec 55.5px,#00f 64.5px,#0005ff 65.5px,#003cff 70.5px,#00a7ff 81.5px,#00e0ff 88.5px,#0ef 91.5px,#02fffd 99.5px,#0bfff4 105.5px,#13ffec 134.5px,#16ffe9 162.5px,#06fff9 175.5px,#00faff 179.5px,#00e6ff 184.5px,#00a9ff 197.5px,#006bff 213.5px)"></i>
<i style="background:linear-gradient(90deg,#000083 0.5px,#000083 50.5px,#000087 51.5px,#0000a3 52.5px,#0000d3 53.5px,#0000e9 54.5px,#0002ff 64.5px,#003dff 69.5px,#00b2ff 81.5px,#00e3ff 87.5px,#00f3ff 90.5px,#02fffd 97.5px,#0efff1 104.5px,#15ffea 135.5px,#17ffe8 162.5px,#06fff9 175.5px,#00faff 179.5px,#00e6ff 184.5px,#00abff 196.5px,#006aff 213.5px)"></i>
<i style="background:linear-gradient(90deg,#000083 0.5px,#000084 50.5px,#000090 51.5px,#0000e2 53.5px,#0000ec 54.5px,#00f 63.5px,#0008ff 64.5px,#003eff 68.5px,#09f 77.5px,#00deff 85.5px,#00f7ff 89.5px,#04fffb 95.5px,#1fe 104.5px,#17ffe8 138.5px,#18ffe7 162.5px,#06fff9 175.5px,#00fdff 178.5px,#00ebff 183.5px,#0af 196.5px,#0069ff 213.5px)"></i>
<i style="background:linear-gradient(90deg,#000083 0.5px,#000083 49.5px,#000087 50.5px,#0000a1 51.5px,#0000d2 52.5px,#0000e9 53.5px,#00f 62.5px,#0004ff 63.5px,#0049ff 68.5px,#0091ff 75.5px,#00d9ff 83.5px,#00fdff 89.5px,#14ffeb 104.5px,#19ffe6 142.5px,#17ffe8 163.5px,#06fff9 175.5px,#00fcff 178.5px,#00eaff 183.5px,#00a9ff 196.5px,#0069ff 213.5px)"></i>
<i style="background:linear-gradient(90deg,#000083 0.5px,#000084 49.5px,#00008e 50.5px,#0000e1 52.5px,#0000ec 53.5px,#00f 61.5px,#0002ff 62.5px,#000cff 63.5px,#0048ff 67.5px,#008aff 73.5px,#00d4ff 81.5px,#00faff 87.5px,#03fffc 89.5px,#16ffe9 103.5px,#1affe5 145.5px,#16ffe9 163.5px,#05fffa 175.5px,#00fcff 178.5px,#00eaff 183.5px,#00acff 195.5px,#0068ff 213.5px)"></i>
<i style="background:linear-gradient(90deg,#000083 0.5px,#000085 49.5px,#00009b 50.5px,#0000cd 51.5px,#0000e8 52.5px,#00f 60.5px,#000aff 62.5px,#05f 67.5px,#0098ff 73.5px,#00dfff 81.5px,#01fffe 87.5px,#12ffed 97.5px,#19ffe6 112.5px,#1affe5 157.5px,#0efff1 169.5px,#00feff 177.5px,#00e8ff 183.5px,#00acff 195.5px,#0068ff 213.5px)"></i>
<i style="background:linear-gradient(90deg,#000083 0.5px,#000084 48.5px,#00008a 49.5px,#0000af 50.5px,#00d 51.5px,#0000ec 52.5px,#00f 59.5px,#000cff 61.5px,#0026ff 63.5px,#0062ff 67.5px,#009cff 72.5px,#00e3ff 80.5px,#01fffe 86.5px,#10ffef 93.5px,#19ffe6 108.5px,#1bffe4 151.5px,#14ffeb 164.5px,#00fdff 177.5px,#00e6ff 183.5px,#00a7ff 196.5px,#0068ff 213.5px)"></i>
<i style="background:linear-gradient(90deg,#000083 0.5px,#000084 48.5px,#000094 49.5px,#0000c4 50.5px,#0000e6 51.5px,#0000f1 53.5px,#00f 58.5px,#0004ff 59.5px,#0026ff 62.5px,#006fff 67.5px,#00abff 72.5px,#0ef 80.5px,#02fffd 85.5px,#13ffec 92.5px,#1cffe3 117.5px,#1dffe2 149.5px,#14ffeb 163.5px,#00fcff 177.5px,#00daff 185.5px,#00a2ff 197.5px,#0068ff 213.5px)"></i>
<i style="background:linear-gradient(90deg,#000083 0.5px,#000083 47.5px,#000087 48.5px,#0000a5 49.5px,#0000d6 50.5px,#0000eb 51.5px,#0002ff 58.5px,#0027ff 61.5px,#007dff 67.5px,#00b8ff 72.5px,#00f3ff 79.5px,#02fffd 83.5px,#16ffe9 92.5px,#20ffdf 144.5px,#14ffeb 163.5px,#00fdff 176.5px,#00ebff 181.5px,#00a6ff 196.5px,#006bff 212.5px,#0068ff 213.5px)"></i>
<i style="background:linear-gradient(90deg,#000083 0.5px,#000084 47.5px,#00008f 48.5px,#0000e3 50.5px,#0000ed 51.5px,#0001ff 57.5px,#0009ff 58.5px,#008aff 67.5px,#0bf 71.5px,#00fbff 79.5px,#09fff6 84.5px,#18ffe7 92.5px,#2fd 145.5px,#13ffec 163.5px,#00fdff 176.5px,#00eaff 181.5px,#00a1ff 197.5px,#006bff 212.5px,#0068ff 213.5px)"></i>
<i style="background:linear-gradient(90deg,#000083 0.5px,#000083 46.5px,#000086 47.5px,#00009f 48.5px,#0000d1 49.5px,#0000ea 50.5px,#00f 56.5px,#0005ff 57.5px,#007cff 65.5px,#00c5ff 71.5px,#00fcff 78.5px,#0bfff4 83.5px,#1bffe4 92.5px,#23ffdc 146.5px,#12ffed 164.5px,#00fdff 176.5px,#00e9ff 181.5px,#00a4ff 196.5px,#006eff 211.5px,#0068ff 213.5px)"></i>
<i style="background:linear-gradient(90deg,#000083 0.5px,#000084 46.5px,#00008d 47.5px,#0000e0 49.5px,#0000ed 50.5px,#00f 55.5px,#0003ff 56.5px,#001eff 58.5px,#006cff 63.5px,#00b9ff 69.5px,#00e7ff 74.5px,#00fcff 77.5px,#08fff7 80.5px,#1effe1 91.5px,#27ffd8 145.5px,#13ffec 164.5px,#00fdff 176.5px,#00e4ff 182.5px,#00a7ff 195.5px,#006dff 211.5px,#0067ff 213.5px)"></i>
<i style="background:linear-gradient(90deg,#000083 0.5px,#000086 46.5px,#00009d 47.5px,#0000ce 48.5px,#0000e9 49.5px,#0000fe 54.5px,#0001ff 55.5px,#000aff 56.5px,#006aff 62.5px,#00b8ff 68.5px,#00f0ff 74.5px,#02fffd 77.5px,#1cffe3 87.5px,#27ffd8 109.5px,#2affd5 145.5px,#14ffeb 164.5px,#00feff 176.5px,#00d0ff 186.5px,#00a3ff 196.5px,#0065ff 213.5px)"></i>
<i style="background:linear-gradient(90deg,#000083 0.5px,#000084 45.5px,#00008d 46.5px,#0000df 48.5px,#0000ed 49.5px,#00f 54.5px,#0007ff 55.5px,#0076ff 62.5px,#00c1ff 68.5px,#00f7ff 74.5px,#02fffd 76.5px,#1fffe0 86.5px,#2cffd3 112.5px,#2effd1 145.5px,#17ffe8 164.5px,#00fcff 177.5px,#0af 194.5px,#0063ff 213.5px)"></i>
<i style="background:linear-gradient(90deg,#000083 0.5px,#000086 45.5px,#00009c 46.5px,#0000cd 47.5px,#0000e9 48.5px,#0000fe 53.5px,#0003ff 54.5px,#02f 56.5px,#0074ff 61.5px,#00c1ff 67.5px,#00f8ff 73.5px,#03fffc 75.5px,#2fd 85.5px,#31ffce 110.5px,#32ffcd 145.5px,#19ffe6 164.5px,#01fffe 176.5px,#00a9ff 194.5px,#0062ff 213.5px)"></i>
<i style="background:linear-gradient(90deg,#000083 0.5px,#000084 44.5px,#00008d 45.5px,#0000df 47.5px,#0000ed 48.5px,#0001ff 53.5px,#000cff 54.5px,#0071ff 60.5px,#00b4ff 65.5px,#00e6ff 70.5px,#01fefe 73.5px,#26ffd9 85.5px,#35ffca 110.5px,#35ffca 145.5px,#1bffe4 164.5px,#01fffe 176.5px,#00a9ff 194.5px,#0060ff 213.5px)"></i>
<i style="background:linear-gradient(90deg,#000083 0.5px,#000083 43.5px,#000086 44.5px,#00009e 45.5px,#0000ce 46.5px,#0000e9 47.5px,#00f 52.5px,#0008ff 53.5px,#007eff 60.5px,#00bfff 65.5px,#00f7ff 71.5px,#01fefe 72.5px,#27ffd8 83.5px,#37ffc8 102.5px,#39ffc6 145.5px,#1effe1 163.5px,#0ff 176.5px,#00a8ff 194.5px,#005fff 213.5px)"></i>
<i style="background:linear-gradient(90deg,#000083 0.5px,#000084 43.5px,#00008e 44.5px,#0000e1 46.5px,#00e 47.5px,#00f 51.5px,#0005ff 52.5px,#0024ff 54.5px,#007bff 59.5px,#00beff 64.5px,#00f0ff 69.5px,#01fefe 71.5px,#24ffdb 80.5px,#3fc 89.5px,#3dffc2 111.5px,#3cffc3 145.5px,#20ffdf 163.5px,#00feff 176.5px,#00a4ff 195.5px,#005eff 213.5px)"></i>
<i style="background:linear-gradient(90deg,#000083 0.5px,#000083 42.5px,#000087 43.5px,#0000a1 44.5px,#0000d1 45.5px,#0000ea 46.5px,#0000fe 50.5px,#0003ff 51.5px,#0020ff 53.5px,#0078ff 58.5px,#00beff 63.5px,#00f2ff 68.5px,#01fefe 70.5px,#28ffd7 79.5px,#3dffc2 92.5px,#40ffbf 145.5px,#24ffdb 162.5px,#00feff 176.5px,#00a3ff 195.5px,#005dff 213.5px)"></i>
<i style="background:linear-gradient(90deg,#000083 0.5px,#000084 42.5px,#000091 43.5px,#0000e3 45.5px,#0000ef 46.5px,#0001ff 50.5px,#000bff 51.5px,#0086ff 58.5px,#00c9ff 63.5px,#00fbff 68.5px,#1fe 72.5px,#2effd1 79.5px,#42ffbd 92.5px,#43ffbc 145.5px,#26ffd9 162.5px,#00fdff 176.5px,#00a3ff 195.5px,#005cff 213.5px)"></i>
<i style="background:linear-gradient(90deg,#000083 0.5px,#000084 41.5px,#000089 42.5px,#0000a7 43.5px,#0000d6 44.5px,#0000ec 45.5px,#00f 49.5px,#0008ff 50.5px,#0084ff 57.5px,#00c9ff 62.5px,#01fcfe 67.5px,#2affd5 76.5px,#3affc5 83.5px,#47ffb8 92.5px,#47ffb8 145.5px,#2bffd4 161.5px,#01fffe 175.5px,#0095ff 198.5px,#005bff 213.5px)"></i>
<i style="background:linear-gradient(90deg,#000083 0.5px,#000085 41.5px,#000096 42.5px,#0000c4 43.5px,#0000e6 44.5px,#0000f5 46.5px,#00f 48.5px,#0006ff 49.5px,#004cff 53.5px,#0091ff 57.5px,#00d4ff 62.5px,#01fcfe 66.5px,#2cffd3 75.5px,#3affc5 80.5px,#4cffb3 91.5px,#4cffb3 145.5px,#2fffd0 161.5px,#01fffe 175.5px,#008bff 200.5px,#0059ff 213.5px)"></i>
<i style="background:linear-gradient(90deg,#000083 0.5px,#000084 40.5px,#00008c 41.5px,#0000b0 42.5px,#00d 43.5px,#00e 44.5px,#0000fe 47.5px,#0005ff 48.5px,#0025ff 50.5px,#0090ff 56.5px,#00d4ff 61.5px,#01fcfe 65.5px,#17ffe8 69.5px,#3cffc3 78.5px,#4effb1 88.5px,#51ffae 145.5px,#3fc 161.5px,#01fffe 175.5px,#0084ff 201.5px,#0057ff 213.5px)"></i>
<i style="background:linear-gradient(90deg,#000083 0.5px,#000083 39.5px,#000087 40.5px,#00009f 41.5px,#0000ce 42.5px,#0000ea 43.5px,#0000fe 46.5px,#0005ff 47.5px,#0023ff 49.5px,#008fff 55.5px,#00d4ff 60.5px,#01fcfe 64.5px,#1affe5 68.5px,#42ffbd 78.5px,#51ffae 85.5px,#54ffab 96.5px,#56ffa9 145.5px,#38ffc7 161.5px,#1dffe2 168.5px,#01fffe 175.5px,#0084ff 200.5px,#05f 213.5px)"></i>
<i style="background:linear-gradient(90deg,#000083 0.5px,#000084 39.5px,#000091 40.5px,#0000e3 42.5px,#0000f0 43.5px,#0000fd 45.5px,#0004ff 46.5px,#02f 48.5px,#008dff 54.5px,#00d4ff 59.5px,#01fcfe 63.5px,#21ffde 68.5px,#48ffb7 78.5px,#5fa 83.5px,#58ffa7 98.5px,#5bffa4 146.5px,#37ffc8 163.5px,#01fffe 175.5px,#0097ff 195.5px,#007cff 201.5px,#0052ff 213.5px)"></i>
<i style="background:linear-gradient(90deg,#000083 0.5px,#000084 38.5px,#00008a 39.5px,#0000a9 40.5px,#0000d8 41.5px,#0000ed 42.5px,#0003ff 45.5px,#0021ff 47.5px,#008cff 53.5px,#00c7ff 57.5px,#00ecff 60.5px,#01fdfe 62.5px,#24ffdb 67.5px,#58ffa7 81.5px,#5cffa3 95.5px,#5fffa0 147.5px,#38ffc7 164.5px,#02fffd 175.5px,#00a6ff 192.5px,#0080ff 199.5px,#0050ff 213.5px)"></i>
<i style="background:linear-gradient(90deg,#000083 0.5px,#000086 38.5px,#00009a 39.5px,#0000c8 40.5px,#0000e9 41.5px,#0000fa 43.5px,#0001ff 44.5px,#000eff 45.5px,#007bff 51.5px,#00baff 55.5px,#00f8ff 60.5px,#02fefd 61.5px,#2cffd3 67.5px,#5fffa0 81.5px,#62ff9d 147.5px,#3bffc4 164.5px,#02fffd 175.5px,#0af 191.5px,#0081ff 198.5px,#004dff 213.5px)"></i>
<i style="background:linear-gradient(90deg,#000083 0.5px,#000084 37.5px,#00008e 38.5px,#0000e0 40.5px,#0000f1 41.5px,#0001fe 43.5px,#000bff 44.5px,#007bff 50.5px,#00c9ff 55.5px,#00faff 59.5px,#0cfff3 61.5px,#2fffd0 66.5px,#64ff9b 81.5px,#64ff9b 147.5px,#3cffc3 164.5px,#02fffd 175.5px,#00b0ff 190.5px,#007fff 198.5px,#004bff 213.5px)"></i>
<i style="background:linear-gradient(90deg,#000083 0.5px,#000084 36.5px,#008 37.5px,#0000a4 38.5px,#0000d4 39.5px,#0000ed 40.5px,#0000fe 42.5px,#0008ff 43.5px,#007bff 49.5px,#00caff 54.5px,#01fcfe 58.5px,#1dffe2 62.5px,#38ffc7 66.5px,#67ff98 81.5px,#64ff9b 147.5px,#3dffc2 164.5px,#00feff 176.5px,#00a3ff 192.5px,#007eff 198.5px,#0049ff 213.5px)"></i>
<i style="background:linear-gradient(90deg,#000083 0.5px,#000085 36.5px,#000096 37.5px,#0000c3 38.5px,#0000e7 39.5px,#0000fc 41.5px,#0006ff 42.5px,#007bff 48.5px,#00cdff 53.5px,#02fdfd 57.5px,#28ffd7 62.5px,#40ffbf 66.5px,#69ff96 80.5px,#6aff95 126.5px,#63ff9c 147.5px,#3dffc2 164.5px,#00fdff 177.5px,#00c6ff 187.5px,#007eff 198.5px,#0047ff 213.5px)"></i>
<i style="background:linear-gradient(90deg,#000083 0.5px,#000084 35.5px,#00008d 36.5px,#0000b2 37.5px,#0000de 38.5px,#0000f2 39.5px,#0000fb 40.5px,#0005ff 41.5px,#002cff 43.5px,#00a0ff 49.5px,#00deff 53.5px,#00f7ff 55.5px,#05fefa 56.5px,#20ffdf 59.5px,#45ffba 65.5px,#6bff94 80.5px,#6eff91 116.5px,#62ff9d 147.5px,#3dffc2 164.5px,#01fefe 178.5px,#00e7ff 183.5px,#007eff 198.5px,#0045ff 213.5px)"></i>
<i style="background:linear-gradient(90deg,#000083 0.5px,#000083 34.5px,#000087 35.5px,#0000a1 36.5px,#0000d1 37.5px,#0000ed 38.5px,#0000f9 39.5px,#0003ff 40.5px,#0014ff 41.5px,#0067ff 45.5px,#00c3ff 50.5px,#00f0ff 53.5px,#01fbfe 54.5px,#14ffeb 56.5px,#2dffd2 59.5px,#4effb1 65.5px,#6eff91 81.5px,#72ff8d 112.5px,#6f9 141.5px,#5dffa2 149.5px,#39ffc6 165.5px,#01fefe 180.5px,#00f0ff 183.5px,#007eff 198.5px,#0042ff 213.5px)"></i>
<i style="background:linear-gradient(90deg,#000083 0.5px,#000085 34.5px,#000094 35.5px,#0000c0 36.5px,#0000e7 37.5px,#0000f6 38.5px,#0001fe 39.5px,#01f 40.5px,#0053ff 43.5px,#00c6ff 49.5px,#00f5ff 52.5px,#04fefb 53.5px,#2effd1 57.5px,#5fa 64.5px,#72ff8d 82.5px,#7f8 110.5px,#6aff95 135.5px,#5cffa3 149.5px,#39ffc6 165.5px,#02fffd 181.5px,#00f6ff 183.5px,#007eff 198.5px,#003fff 213.5px)"></i>
<i style="background:linear-gradient(90deg,#000083 0.5px,#000084 33.5px,#00008b 34.5px,#0000ad 35.5px,#0000dc 36.5px,#0000f2 37.5px,#0000fd 38.5px,#000dff 39.5px,#0052ff 42.5px,#00c8ff 48.5px,#01f8fe 51.5px,#08fff7 52.5px,#35ffca 56.5px,#5cffa3 63.5px,#76ff89 83.5px,#7bff84 109.5px,#6dff92 133.5px,#5cffa3 149.5px,#38ffc7 165.5px,#02fffd 181.5px,#00f5ff 183.5px,#007cff 198.5px,#003bff 213.5px)"></i>
<i style="background:linear-gradient(90deg,#000083 0.5px,#000086 33.5px,#00009c 34.5px,#00c 35.5px,#0000ed 36.5px,#0000fb 37.5px,#0008ff 38.5px,#0064ff 42.5px,#00dbff 48.5px,#02fbfd 50.5px,#1bffe4 52.5px,#46ffb9 56.5px,#6f9 63.5px,#7dff82 84.5px,#80ff7f 109.5px,#6fff90 133.5px,#5bffa4 149.5px,#3affc5 164.5px,#02fffd 180.5px,#00efff 183.5px,#008cff 195.5px,#0072ff 199.5px,#0034ff 213.5px)"></i>
<i style="background:linear-gradient(90deg,#000083 0.5px,#000084 32.5px,#00008f 33.5px,#0000e4 35.5px,#0000f7 36.5px,#0004ff 37.5px,#0019ff 38.5px,#0062ff 41.5px,#00deff 47.5px,#03fdfc 49.5px,#2effd1 52.5px,#4fffb0 55.5px,#6fff90 62.5px,#84ff7b 84.5px,#85ff7a 109.5px,#71ff8e 133.5px,#5bffa4 149.5px,#38ffc7 164.5px,#06fff9 178.5px,#00f9ff 180.5px,#00dbff 184.5px,#0097ff 192.5px,#006aff 199.5px,#002bff 213.5px)"></i>
<i style="background:linear-gradient(90deg,#000083 0.5px,#000084 31.5px,#008 32.5px,#0000a5 33.5px,#0000d6 34.5px,#0000f2 35.5px,#0002fe 36.5px,#0014ff 37.5px,#0075ff 41.5px,#00dfff 46.5px,#00f2ff 47.5px,#06fef9 48.5px,#36ffc9 51.5px,#59ffa6 54.5px,#6dff92 58.5px,#7cff83 63.5px,#8cff73 84.5px,#8aff75 109.5px,#71ff8e 134.5px,#5affa5 149.5px,#3affc5 163.5px,#01fefe 178.5px,#00ceff 184.5px,#008fff 191.5px,#0054ff 201.5px,#0021ff 213.5px)"></i>
<i style="background:linear-gradient(90deg,#000083 0.5px,#000085 31.5px,#000097 32.5px,#0000c5 33.5px,#0000eb 34.5px,#0001fc 35.5px,#000fff 36.5px,#008cff 41.5px,#00e2ff 45.5px,#00f5ff 46.5px,#09fff6 47.5px,#3dffc2 50.5px,#63ff9c 53.5px,#71ff8e 55.5px,#87ff78 62.5px,#94ff6b 84.5px,#8eff71 109.5px,#71ff8e 135.5px,#5affa5 149.5px,#3bffc4 162.5px,#01fefe 177.5px,#00b6ff 185.5px,#0087ff 190.5px,#003fff 203.5px,#0017ff 213.5px)"></i>
<i style="background:linear-gradient(90deg,#000083 0.5px,#000084 30.5px,#00008e 31.5px,#0000b4 32.5px,#0000e1 33.5px,#0000f9 34.5px,#000aff 35.5px,#008cff 40.5px,#00d0ff 43.5px,#01f7fe 45.5px,#0dfff2 46.5px,#42ffbd 49.5px,#75ff8a 53.5px,#8fff70 59.5px,#97ff68 67.5px,#9cff63 84.5px,#92ff6d 109.5px,#70ff8f 137.5px,#57ffa8 150.5px,#39ffc6 162.5px,#01fefe 176.5px,#00efff 178.5px,#0079ff 190.5px,#0037ff 202.5px,#000eff 213.5px)"></i>
<i style="background:linear-gradient(90deg,#000083 0.5px,#000084 29.5px,#000089 30.5px,#0000a6 31.5px,#0000d5 32.5px,#0000f4 33.5px,#0006ff 34.5px,#008cff 39.5px,#00d3ff 42.5px,#02f9fd 44.5px,#0ffff0 45.5px,#56ffa9 49.5px,#7cff83 52.5px,#90ff6f 55.5px,#a1ff5e 60.5px,#a7ff58 81.5px,#95ff6a 110.5px,#67ff98 143.5px,#3bffc4 161.5px,#02fffd 174.5px,#00f7ff 176.5px,#0076ff 189.5px,#0031ff 200.5px,#0003ff 213.5px)"></i>
<i style="background:linear-gradient(90deg,#000083 0.5px,#000086 29.5px,#00009a 30.5px,#0000c8 31.5px,#0000ed 32.5px,#0003fe 33.5px,#001bff 34.5px,#0072ff 37.5px,#00bfff 40.5px,#00e9ff 42.5px,#02fbfd 43.5px,#25ffda 45.5px,#5affa5 48.5px,#8dff72 52.5px,#af5 57.5px,#b3ff4c 61.5px,#b4ff4b 78.5px,#98ff67 111.5px,#64ff9b 145.5px,#43ffbc 158.5px,#0cfff3 171.5px,#01fefe 173.5px,#00ecff 176.5px,#008eff 185.5px,#005cff 191.5px,#0031ff 197.5px,#001eff 200.5px,#0002ff 210.5px,#0000fb 213.5px)"></i>
<i style="background:linear-gradient(90deg,#000083 0.5px,#000085 28.5px,#000091 29.5px,#0000e6 31.5px,#0002fc 32.5px,#0016ff 33.5px,#0072ff 36.5px,#00c2ff 39.5px,#00edff 41.5px,#03fdfc 42.5px,#5dffa2 47.5px,#94ff6b 51.5px,#b9ff46 56.5px,#c3ff3c 59.5px,#c5ff3a 72.5px,#a7ff58 100.5px,#95ff6a 115.5px,#5bffa4 150.5px,#31ffce 162.5px,#0dfff2 170.5px,#01fdfe 172.5px,#00dfff 176.5px,#0094ff 183.5px,#0050ff 191.5px,#0029ff 196.5px,#000dff 199.5px,#0002ff 204.5px,#0000f0 213.5px)"></i>
<i style="background:linear-gradient(90deg,#000083 0.5px,#000084 27.5px,#00008c 28.5px,#0000ae 29.5px,#00d 30.5px,#0000f9 31.5px,#01f 32.5px,#0073ff 35.5px,#00c7ff 38.5px,#00f2ff 40.5px,#07fef8 41.5px,#62ff9d 46.5px,#9aff65 50.5px,#c8ff37 55.5px,#d4ff2b 58.5px,#d6ff29 68.5px,#cfff30 76.5px,#b6ff49 90.5px,#9dff62 112.5px,#5affa5 151.5px,#25ffda 164.5px,#08fff7 170.5px,#01fdfe 171.5px,#00d0ff 176.5px,#00a2ff 180.5px,#0073ff 185.5px,#002cff 194.5px,#0002fe 198.5px,#0000e6 212.5px,#0000e6 213.5px)"></i>
<i style="background:linear-gradient(90deg,#000083 0.5px,#000084 26.5px,#000089 27.5px,#0000a4 28.5px,#0000d3 29.5px,#0000f5 30.5px,#000dff 31.5px,#0076ff 34.5px,#00cfff 37.5px,#02f8fd 39.5px,#0dfff2 40.5px,#68ff97 45.5px,#a2ff5d 49.5px,#d6ff29 54.5px,#e4ff1b 57.5px,#e8ff17 66.5px,#df2 75.5px,#c1ff3e 87.5px,#9eff61 113.5px,#60ff9f 150.5px,#0afff5 169.5px,#02fefd 170.5px,#00c0ff 176.5px,#009cff 179.5px,#0064ff 185.5px,#0046ff 189.5px,#001cff 194.5px,#0006ff 196.5px,#0000fa 197.5px,#0000ef 198.5px,#0000e7 200.5px,#0000e1 208.5px,#0000e6 210.5px,#0000ef 211.5px,#000bf4 212.5px,#001bf7 213.5px)"></i>
<i style="background:linear-gradient(90deg,#000083 0.5px,#000083 25.5px,#000087 26.5px,#00009c 27.5px,#0000c9 28.5px,#0000f0 29.5px,#000bff 30.5px,#002dff 31.5px,#0079ff 33.5px,#00d9ff 36.5px,#00f0ff 37.5px,#07fdf8 38.5px,#72ff8d 44.5px,#acff53 48.5px,#e3ff1c 53.5px,#f3ff0c 56.5px,#f8ff07 65.5px,#ebff14 74.5px,#caff35 86.5px,#b2ff4d 102.5px,#6bff94 144.5px,#61ff9e 150.5px,#04fffb 169.5px,#00f8ff 170.5px,#008bff 179.5px,#0054ff 185.5px,#001fff 192.5px,#0003ff 195.5px,#0000f8 196.5px,#0000e0 198.5px,#0000da 200.5px,#0000dc 204.5px,#0000e0 205.5px,#0000ea 206.5px,#0009f1 207.5px,#001ff7 208.5px,#0047ff 209.5px,#0085ff 210.5px,#27b1d8 211.5px,#63da9c 212.5px,#85e57a 213.5px)"></i>
<i style="background:linear-gradient(90deg,#000083 0.5px,#000086 25.5px,#000096 26.5px,#0000eb 28.5px,#0009fe 29.5px,#002cff 30.5px,#007fff 32.5px,#00e6ff 35.5px,#05fafa 36.5px,#28ffd7 38.5px,#81ff7e 43.5px,#c5ff3a 48.5px,#f8ff07 53.5px,#fff900 57.5px,#fffc00 66.5px,#f9ff06 72.5px,#d0ff2f 86.5px,#b7ff48 101.5px,#83ff7c 130.5px,#6bff94 145.5px,#62ff9d 150.5px,#05fffa 168.5px,#00fbff 169.5px,#0083ff 178.5px,#003bff 186.5px,#0001fd 194.5px,#0000d7 198.5px,#0000da 200.5px,#0000e5 201.5px,#0007ee 202.5px,#001df4 203.5px,#0044fe 204.5px,#0081ff 205.5px,#26afd9 206.5px,#63d99c 207.5px,#8be074 208.5px,#c4b13b 209.5px,#f78007 210.5px,#e84900 211.5px,#d71b00 212.5px,#c30000 213.5px)"></i>
<i style="background:linear-gradient(90deg,#000083 0.5px,#000085 24.5px,#000092 25.5px,#0000e7 27.5px,#0008fd 28.5px,#002cff 29.5px,#008aff 31.5px,#00d7ff 33.5px,#05f5fa 34.5px,#19ffe6 35.5px,#5cffa3 38.5px,#8fff70 41.5px,#d8ff27 47.5px,#fbfd04 51.5px,#fff100 54.5px,#ffed00 58.5px,#fff300 66.5px,#fcff03 73.5px,#d5ff2a 86.5px,#bf4 100.5px,#86ff79 129.5px,#6eff91 143.5px,#63ff9c 150.5px,#04fffb 167.5px,#00fbff 168.5px,#00d2ff 171.5px,#007dff 177.5px,#002cff 185.5px,#0016ff 187.5px,#0003fd 191.5px,#00e 195.5px,#0000f0 196.5px,#0009f1 197.5px,#001df4 198.5px,#0043fd 199.5px,#007fff 200.5px,#25adda 201.5px,#62d89d 202.5px,#8be074 203.5px,#f78007 205.5px,#e94900 206.5px,#d71c00 207.5px,#c10000 208.5px,#a40000 209.5px,#920000 210.5px,#870000 211.5px,#810000 213.5px)"></i>
<i style="background:linear-gradient(90deg,#000083 0.5px,#000085 23.5px,#000091 24.5px,#0000b6 25.5px,#0000e5 26.5px,#000afd 27.5px,#0031ff 28.5px,#009dff 30.5px,#00cfff 31.5px,#05f2fa 32.5px,#1cffe3 33.5px,#5cffa3 35.5px,#af5 38.5px,#baff45 39.5px,#f0ff0f 45.5px,#fff600 49.5px,#ffe500 53.5px,#ffe200 57.5px,#ffec00 66.5px,#feff01 74.5px,#d5ff2a 88.5px,#bdff42 100.5px,#80ff7f 133.5px,#6dff92 144.5px,#64ff9b 150.5px,#04fffb 166.5px,#00f9ff 167.5px,#00cfff 170.5px,#0084ff 175.5px,#004aff 180.5px,#001fff 184.5px,#000fff 185.5px,#0001f8 186.5px,#0000f1 187.5px,#0000ef 190.5px,#0001f6 191.5px,#000cf8 192.5px,#0022fc 193.5px,#004cff 194.5px,#0087ff 195.5px,#27b1d8 196.5px,#63d99c 197.5px,#8be074 198.5px,#f78007 200.5px,#e94900 201.5px,#d71c00 202.5px,#c10000 203.5px,#a40000 204.5px,#920000 205.5px,#800 206.5px,#800000 209.5px,#800000 213.5px)"></i>
<i style="background:linear-gradient(90deg,#000083 0.5px,#000085 22.5px,#000091 23.5px,#0000b5 24.5px,#0000e5 25.5px,#0011fe 26.5px,#0041ff 27.5px,#00b9ff 29.5px,#07eef8 30.5px,#24ffdb 31.5px,#6dff92 33.5px,#c9ff36 36.5px,#e4ff1b 37.5px,#f3fb0c 38.5px,#fff200 42.5px,#ffe100 47.5px,#ffd800 55.5px,#ffe700 66.5px,#feff01 75.5px,#cbff34 94.5px,#8aff75 130.5px,#72ff8d 142.5px,#67ff98 150.5px,#29ffd6 159.5px,#04fffb 165.5px,#00f9ff 166.5px,#007aff 174.5px,#003dff 179.5px,#0010ff 184.5px,#0003fe 185.5px,#0000f3 186.5px,#0009f2 187.5px,#001ff7 188.5px,#0047ff 189.5px,#0084ff 190.5px,#26b0d9 191.5px,#63da9c 192.5px,#8ce173 193.5px,#c4b13b 194.5px,#f88006 195.5px,#e84900 196.5px,#d71c00 197.5px,#c10000 198.5px,#a40000 199.5px,#920000 200.5px,#800 201.5px,#800000 204.5px,#800000 213.5px)"></i>
<i style="background:linear-gradient(90deg,#000083 0.5px,#000085 21.5px,#000091 22.5px,#0000b6 23.5px,#0001e8 24.5px,#0020ff 25.5px,#00a8ff 27.5px,#06e3f9 28.5px,#28fed7 29.5px,#5bffa4 30.5px,#86ff79 31.5px,#a9ff56 32.5px,#e1ff1e 34.5px,#f4f80b 35.5px,#feeb01 36.5px,#ffdb00 37.5px,#ffce00 39.5px,#ffc800 46.5px,#ffd500 58.5px,#ffef00 70.5px,#fcff03 77.5px,#c8ff37 97.5px,#94ff6b 128.5px,#76ff89 143.5px,#6bff94 150.5px,#5cffa3 152.5px,#3fffc0 155.5px,#03fefc 164.5px,#00f7ff 165.5px,#00d8ff 167.5px,#0061ff 174.5px,#0035ff 177.5px,#002aff 178.5px,#0021ff 180.5px,#0023ff 181.5px,#002eff 182.5px,#0041ff 183.5px,#0069ff 184.5px,#0298fd 185.5px,#29b3d6 186.5px,#64da9b 187.5px,#8ce073 188.5px,#c4b13b 189.5px,#f78007 190.5px,#e84900 191.5px,#d71c00 192.5px,#c10000 193.5px,#a40000 194.5px,#920000 195.5px,#870000 196.5px,#800000 199.5px,#800000 213.5px)"></i>
<i style="background:linear-gradient(90deg,#000083 0.5px,#000085 20.5px,#000093 21.5px,#0000ba 22.5px,#0003ec 23.5px,#0030ff 24.5px,#02d6fd 26.5px,#20fcdf 27.5px,#8dff72 29.5px,#bcff43 30.5px,#e0ff1f 31.5px,#f5f90a 32.5px,#feee01 33.5px,#ffc900 35.5px,#fb0 36.5px,#ffad00 38.5px,#ffac00 41.5px,#ffc200 52.5px,#fdff02 78.5px,#cdff32 97.5px,#9bff64 128.5px,#72ff8d 150.5px,#6aff95 151.5px,#4fb 154.5px,#04fefb 163.5px,#00f6ff 164.5px,#00adff 168.5px,#0067ff 172.5px,#003dff 175.5px,#0037ff 176.5px,#0037ff 177.5px,#0045ff 178.5px,#006cff 179.5px,#039ffc 180.5px,#2bbfd4 181.5px,#64e69b 182.5px,#93e16c 183.5px,#cab035 184.5px,#f97e04 185.5px,#e84800 186.5px,#d61b00 187.5px,#c00000 188.5px,#a40000 189.5px,#920000 190.5px,#870000 191.5px,#800000 194.5px,#800000 213.5px)"></i>
<i style="background:linear-gradient(90deg,#000083 0.5px,#000084 18.5px,#000086 19.5px,#000095 20.5px,#0000be 21.5px,#0006f1 22.5px,#003bff 23.5px,#0094ff 24.5px,#06e7f9 25.5px,#35ffca 26.5px,#a5ff5a 28.5px,#d5ff2a 29.5px,#f7fc08 30.5px,#ffec00 31.5px,#ffb700 34.5px,#ffa100 36.5px,#ff9400 38.5px,#ffa100 45.5px,#fffd00 79.5px,#d1ff2e 98.5px,#8eff71 138.5px,#78ff87 150.5px,#6fff90 151.5px,#3fffc0 154.5px,#02fdfd 162.5px,#00f3ff 163.5px,#007cff 169.5px,#0070ff 170.5px,#006eff 171.5px,#0072ff 172.5px,#0084ff 173.5px,#00a5ff 174.5px,#14baeb 175.5px,#3dcec2 176.5px,#6dec92 177.5px,#94e06b 178.5px,#f88307 180.5px,#eb4b00 181.5px,#d81e00 182.5px,#c30000 183.5px,#a40000 184.5px,#920000 185.5px,#800 186.5px,#800000 189.5px,#800000 213.5px)"></i>
<i style="background:linear-gradient(90deg,#000083 0.5px,#000084 17.5px,#000087 18.5px,#00009a 19.5px,#0000c4 20.5px,#0008f6 21.5px,#0047ff 22.5px,#009fff 23.5px,#08eef7 24.5px,#3cffc3 25.5px,#aeff51 27.5px,#deff21 28.5px,#fbf904 29.5px,#ffc100 32.5px,#ffa300 34.5px,#ff8700 37.5px,#ff8500 39.5px,#ffcd00 66.5px,#fefe01 83.5px,#d4ff2b 99.5px,#7eff81 150.5px,#7f8 151.5px,#65ff9a 152.5px,#4bffb4 153.5px,#3bffc4 154.5px,#06fff9 161.5px,#00f9ff 162.5px,#00d1ff 165.5px,#00cbff 166.5px,#02d1fd 167.5px,#10d1ef 168.5px,#24d1db 169.5px,#42ddbd 170.5px,#6cf793 171.5px,#97e568 172.5px,#bebe41 173.5px,#eb9b14 174.5px,#f96600 175.5px,#e43c00 176.5px,#d61800 177.5px,#c10000 178.5px,#a60000 179.5px,#940000 180.5px,#800 181.5px,#800000 184.5px,#800000 213.5px)"></i>
<i style="background:linear-gradient(90deg,#000083 0.5px,#000084 16.5px,#000089 17.5px,#00009f 18.5px,#0000ce 19.5px,#0010f9 20.5px,#05f 21.5px,#00acff 22.5px,#0af4f5 23.5px,#4fb 24.5px,#b6ff49 26.5px,#e5ff1a 27.5px,#fdf502 28.5px,#fb0 31.5px,#ff8e00 34.5px,#ff7900 36.5px,#ff7400 37.5px,#ff9500 51.5px,#ffd600 73.5px,#fdff02 87.5px,#dbff24 98.5px,#93ff6c 144.5px,#8bff74 151.5px,#5fffa0 153.5px,#5fa 154.5px,#51ffae 156.5px,#60ff9f 158.5px,#7fff80 161.5px,#8eff71 162.5px,#a3fc5c 163.5px,#b9d346 165.5px,#cabc35 166.5px,#e3a61c 167.5px,#fc8903 168.5px,#f55b00 169.5px,#e43b00 170.5px,#d81c00 171.5px,#c70200 172.5px,#ac0000 173.5px,#8e0000 175.5px,#830000 177.5px,#800000 188.5px,#800000 213.5px)"></i>
<i style="background:linear-gradient(90deg,#000083 0.5px,#000084 15.5px,#00008b 16.5px,#0000a6 17.5px,#0000da 18.5px,#001bfc 19.5px,#06f 20.5px,#00bcff 21.5px,#13f8ec 22.5px,#4dffb2 23.5px,#bfff40 25.5px,#edfe12 26.5px,#ffef00 27.5px,#ffb000 30.5px,#ff7f00 33.5px,#ff6800 35.5px,#ff5e00 37.5px,#ff9300 54.5px,#ffbd00 69.5px,#feff01 88.5px,#e3ff1c 97.5px,#afff50 132.5px,#b8ff47 140.5px,#d9fc26 145.5px,#e1e31e 149.5px,#ebd114 151.5px,#e8c517 153.5px,#fda102 156.5px,#ff7100 158.5px,#fd5700 159.5px,#dd2600 162.5px,#d20800 164.5px,#c10000 165.5px,#ad0000 166.5px,#8c0000 169.5px,#830000 171.5px,#800000 181.5px,#800000 213.5px)"></i>
<i style="background:linear-gradient(90deg,#000083 0.5px,#000085 14.5px,#00008f 15.5px,#0000af 16.5px,#0003e5 17.5px,#002eff 18.5px,#04d5fb 20.5px,#2bfdd4 21.5px,#6bff94 22.5px,#d9ff26 24.5px,#f8f107 25.5px,#ffd800 26.5px,#ff9600 29.5px,#ff6500 32.5px,#ff4f00 34.5px,#ff4200 36.5px,#f40 38.5px,#ff9000 56.5px,#ffb000 68.5px,#feff01 89.5px,#e9ff16 97.5px,#d4ff2b 117.5px,#df2 124.5px,#e6fb19 126.5px,#efd810 132.5px,#ffbd00 135.5px,#fd4700 143.5px,#d50b00 150.5px,#cf0000 152.5px,#a30000 156.5px,#850000 162.5px,#800000 171.5px,#800000 213.5px)"></i>
<i style="background:linear-gradient(90deg,#000083 0.5px,#000084 12.5px,#000087 13.5px,#000096 14.5px,#0000be 15.5px,#000bf2 16.5px,#0050ff 17.5px,#00aeff 18.5px,#1cf3e3 19.5px,#6cff93 20.5px,#b7ff48 21.5px,#e6f519 22.5px,#fcdc03 23.5px,#ffb800 24.5px,#ff9c00 25.5px,#ff6100 28.5px,#ff3f00 31.5px,#ff2900 34.5px,#ff2100 36.5px,#ff4800 44.5px,#ff8500 55.5px,#ffac00 68.5px,#fffc00 89.5px,#f2ff0d 98.5px,#f3fb0c 106.5px,#f7eb08 110.5px,#ffc800 116.5px,#ff4c00 125.5px,#d40600 133.5px,#c80000 135.5px,#9e0000 140.5px,#830000 150.5px,#800000 178.5px,#800000 213.5px)"></i>
<i style="background:linear-gradient(90deg,#000083 0.5px,#000085 10.5px,#008 11.5px,#000094 12.5px,#0000b1 13.5px,#0004df 14.5px,#002efd 15.5px,#0082ff 16.5px,#0adbf5 17.5px,#4affb5 18.5px,#a9ff56 19.5px,#ecf413 20.5px,#fc0 21.5px,#ffa000 22.5px,#ff7f00 23.5px,#ff6500 24.5px,#ff4200 26.5px,#ff2e00 28.5px,#ff1600 33.5px,#ff1500 36.5px,#ff4800 47.5px,#ff7900 55.5px,#ffb000 70.5px,#ffd400 80.5px,#ffdc00 88.5px,#ffb500 97.5px,#ff7300 104.5px,#f40 108.5px,#d10100 117.5px,#9a0000 124.5px,#830000 133.5px,#800000 172.5px,#800000 213.5px)"></i>
<i style="background:linear-gradient(90deg,#000083 0.5px,#000085 7.5px,#000089 8.5px,#000092 9.5px,#0000a5 10.5px,#0000c7 11.5px,#0012e7 12.5px,#003dfe 13.5px,#0089ff 14.5px,#0cd4f3 15.5px,#41fbbe 16.5px,#97ff68 17.5px,#e0f51f 18.5px,#ffd000 19.5px,#ff9d00 20.5px,#f70 21.5px,#ff5b00 22.5px,#ff4500 23.5px,#ff3500 24.5px,#ff2400 26.5px,#ff1000 32.5px,#ff1500 36.5px,#ff3200 46.5px,#ff6c00 56.5px,#ff9200 69.5px,#ff9500 72.5px,#ff8700 79.5px,#ff7200 82.5px,#fd3900 88.5px,#d00000 98.5px,#960000 108.5px,#830000 117.5px,#800000 177.5px,#800000 213.5px)"></i>
<i style="background:linear-gradient(90deg,#000084 0.5px,#00008b 4.5px,#000093 5.5px,#0000a2 6.5px,#0000bf 7.5px,#000eda 8.5px,#0034f0 9.5px,#0069ff 10.5px,#09adf6 11.5px,#5af9a5 13.5px,#9ffe60 14.5px,#cfe730 15.5px,#f5cd0a 16.5px,#ffa000 17.5px,#f70 18.5px,#ff5700 19.5px,#ff4000 20.5px,#f20 22.5px,#ff1500 24.5px,#ff0700 30.5px,#ff1200 44.5px,#ff3100 56.5px,#ff2f00 61.5px,#fd2500 65.5px,#ea1a00 72.5px,#d50100 78.5px,#b40000 83.5px,#930000 89.5px,#820000 99.5px,#800000 213.5px)"></i>
<i style="background:linear-gradient(90deg,#0000bf 0.5px,#0000ca 1.5px,#000ed3 2.5px,#0042e8 4.5px,#0068fb 5.5px,#1098ef 6.5px,#66eb99 8.5px,#9af265 9.5px,#c5d13a 10.5px,#ebb614 11.5px,#ff9300 12.5px,#ff6500 13.5px,#ff4000 14.5px,#fa2900 15.5px,#f01200 17.5px,#ea0100 20.5px,#d30000 31.5px,#bf0000 53.5px,#8e0000 72.5px,#810000 83.5px,#800000 213.5px)"></i>
<i style="background:linear-gradient(90deg,#48a79c 0.5px,#48af9c 1.5px,#5aad8b 2.5px,#c38322 5.5px,#c6611b 6.5px,#b9271b 8.5px,#b4111b 9.5px,#af021a 10.5px,#96001a 12.5px,#870019 14.5px,#7f0018 21.5px,#73000e 60.5px,#780008 72.5px,#800000 81.5px,#800000 213.5px)"></i>
<i style="background:linear-gradient(90deg,#000083 0.5px,#06007d 44.5px,#0f0074 71.5px,#2d0055 93.5px,#5a0026 112.5px,#7c0003 141.5px,#800000 185.5px,#800000 213.5px)"></i>
<i style="background:linear-gradient(90deg,#000083 0.5px,#020082 124.5px,#15006e 141.5px,#2d0055 209.5px,#2f0052 213.5px)"></i>
<i style="background:linear-gradient(90deg,#000083 0.5px,#000083 213.5px)"></i>
<i style="background:linear-gradient(90deg,#000083 0.5px,#000083 213.5px)"></i>
<i style="background:linear-gradient(90deg,#000083 0.5px,#000083 213.5px)"></i>
<i style="background:linear-gradient(90deg,#000083 0.5px,#000083 213.5px)"></i>
<i style="background:linear-gradient(90deg,#000083 0.5px,#000083 213.5px)"></i>
<i style="background:linear-gradient(90deg,#000083 0.5px,#000083 213.5px)"></i>
<i style="background:linear-gradient(90deg,#000083 0.5px,#000083 213.5px)"></i>
<i style="background:linear-gradient(90deg,#000083 0.5px,#000083 213.5px)"></i>
<i style="background:linear-gradient(90deg,#000083 0.5px,#000083 213.5px)"></i>
<i style="background:linear-gradient(90deg,#000083 0.5px,#000083 213.5px)"></i>
<i style="background:linear-gradient(90deg,#000083 0.5px,#000083 213.5px)"></i>
<i style="background:linear-gradient(90deg,#000083 0.5px,#000083 213.5px)"></i>
<i style="background:linear-gradient(90deg,#000083 0.5px,#000083 213.5px)"></i>
<i style="background:linear-gradient(90deg,#000083 0.5px,#000083 213.5px)"></i>
<i style="background:linear-gradient(90deg,#000083 0.5px,#000083 213.5px)"></i>
</div>
<svg width="557" height="255" viewBox="0 0 557 255" font-family="Liberation Sans, sans-serif">
<defs><linearGradient id="jg" x1="0" y1="1" x2="0" y2="0">
<stop offset="0" stop-color="#000083"/><stop offset=".125" stop-color="#00f"/><stop offset=".25" stop-color="#0080ff"/><stop offset=".375" stop-color="#0ff"/><stop offset=".5" stop-color="#80ff80"/><stop offset=".625" stop-color="#ff0"/><stop offset=".75" stop-color="#ff8000"/><stop offset=".875" stop-color="#f00"/><stop offset="1" stop-color="#800000"/></linearGradient></defs>
<rect x="521.4" y="25.1" width="12.3" height="194" fill="url(#jg)"/>
<rect x="294" y="25" width="0.5" height="194" fill="#fff"/>
<g font-size="10.3" fill="#111" text-anchor="end">
<text x="42" y="29.8">2000</text><text x="42" y="73.9">1500</text><text x="42" y="118">1000</text><text x="42" y="162.1">500</text><text x="42" y="206.2">0</text>
<text x="291" y="29.8">2000</text><text x="291" y="73.9">1500</text><text x="291" y="118">1000</text><text x="291" y="162.1">500</text><text x="291" y="206.2">0</text>
</g>
<g font-size="10" fill="#111" text-anchor="middle">
<text x="46" y="234.6">0</text><text x="81.7" y="234.6">0.5</text><text x="117.3" y="234.6">1</text><text x="153" y="234.6">1.5</text><text x="188.7" y="234.6">2</text><text x="224.3" y="234.6">2.5</text><text x="260" y="234.6">3</text>
<text x="295" y="234.6">0</text><text x="330.5" y="234.6">0.5</text><text x="366" y="234.6">1</text><text x="401.5" y="234.6">1.5</text><text x="437" y="234.6">2</text><text x="472.5" y="234.6">2.5</text><text x="508" y="234.6">3</text>
</g>
<g font-size="9.3" fill="#111">
<text x="537" y="29.3">4</text><text x="537" y="53.4">3.5</text><text x="537" y="77.5">3</text><text x="537" y="101.6">2.5</text><text x="537" y="125.7">2</text><text x="537" y="149.8">1.5</text><text x="537" y="174">1</text><text x="537" y="198.2">0.5</text><text x="537" y="222">≤0</text>
<text x="534.4" y="20.6" font-size="10">×</text><text x="540.9" y="20.5" font-size="9.4">10</text><text x="551.5" y="17.7" font-size="6.8">5</text>
</g>
<g fill="#000" font-size="14">
<text x="94.3" y="12.6" textLength="325.5" lengthAdjust="spacingAndGlyphs">plasma fluid velocity multiplied by plasma density</text>
<text x="426.3" y="12.6" textLength="33.4" lengthAdjust="spacingAndGlyphs">(g·cm</text>
<text x="459.9" y="8.5" font-size="8.8" textLength="9.4" lengthAdjust="spacingAndGlyphs">-2</text>
<text x="469.6" y="12.6">·s</text>
<text x="479.6" y="8.5" font-size="8.8" textLength="8.2" lengthAdjust="spacingAndGlyphs">-1</text>
<text x="488.4" y="12.6">)</text>
<text x="238.2" y="250" textLength="58.5" lengthAdjust="spacingAndGlyphs">time (ns)</text>
</g>
<text transform="translate(11.8,151.9) rotate(-90)" font-family="Liberation Serif, serif" font-size="17.5" fill="#000" textLength="46.8" lengthAdjust="spacingAndGlyphs"><tspan font-style="italic">z</tspan> (µm)</text>
<g font-size="15" fill="#f2f2ff">
<text x="87.3" y="39.8" textLength="16" lengthAdjust="spacingAndGlyphs">(a)</text><text x="108.7" y="39.8" textLength="110.7" lengthAdjust="spacingAndGlyphs">multilayer target</text>
<text x="94.5" y="192.6" textLength="99.8" lengthAdjust="spacingAndGlyphs">coronal plasma</text>
<text x="357.1" y="39.8" textLength="16.2" lengthAdjust="spacingAndGlyphs">(b)</text><text x="378.9" y="39.8" textLength="74.2" lengthAdjust="spacingAndGlyphs">solid target</text>
</g>
<text x="347.1" y="179.2" font-size="15" fill="#0a0a0a" textLength="99.2" lengthAdjust="spacingAndGlyphs">coronal plasma</text>
</svg>
</body></html>
